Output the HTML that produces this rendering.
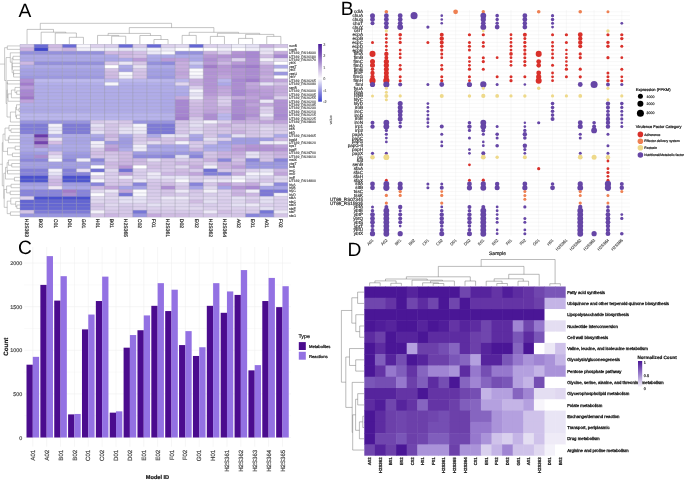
<!DOCTYPE html>
<html><head><meta charset="utf-8"><style>
html,body{margin:0;padding:0;background:#fff;width:685px;height:480px;overflow:hidden}
svg{display:block;font-family:"Liberation Sans",sans-serif;text-rendering:geometricPrecision;will-change:transform}
</style></head><body>
<svg width="685" height="480" viewBox="0 0 685 480">
<rect width="685" height="480" fill="#fff"/>
<text x="18.6" y="17" font-size="19.2" text-anchor="start" fill="#000">A</text>
<rect x="20" y="44.2" width="14.5" height="3.86" fill="#D8CAE9"/>
<rect x="34.1" y="44.2" width="14.5" height="3.86" fill="#6C6CD5"/>
<rect x="48.2" y="44.2" width="14.5" height="3.86" fill="#D0BAE2"/>
<rect x="62.3" y="44.2" width="14.5" height="3.86" fill="#6A6AD6"/>
<rect x="76.4" y="44.2" width="14.5" height="3.86" fill="#F8F6FB"/>
<rect x="90.5" y="44.2" width="14.5" height="3.86" fill="#DCD0EC"/>
<rect x="104.6" y="44.2" width="14.5" height="3.86" fill="#D8CCEA"/>
<rect x="118.7" y="44.2" width="14.5" height="3.86" fill="#6A6AD6"/>
<rect x="132.8" y="44.2" width="14.5" height="3.86" fill="#D8CAEA"/>
<rect x="146.9" y="44.2" width="14.5" height="3.86" fill="#6A6AD6"/>
<rect x="161" y="44.2" width="14.5" height="3.86" fill="#DCD0EC"/>
<rect x="175.1" y="44.2" width="14.5" height="3.86" fill="#E0D8EE"/>
<rect x="189.2" y="44.2" width="14.5" height="3.86" fill="#6466D4"/>
<rect x="203.3" y="44.2" width="14.5" height="3.86" fill="#DCD0EC"/>
<rect x="217.4" y="44.2" width="14.5" height="3.86" fill="#E0D8EE"/>
<rect x="231.5" y="44.2" width="14.5" height="3.86" fill="#ECEAF6"/>
<rect x="245.6" y="44.2" width="14.5" height="3.86" fill="#E4E0F2"/>
<rect x="259.7" y="44.2" width="14.5" height="3.86" fill="#C8B0DE"/>
<rect x="273.8" y="44.2" width="14.1" height="3.86" fill="#D4C4E6"/>
<rect x="20" y="47.66" width="14.5" height="3.86" fill="#CDB3E0"/>
<rect x="34.1" y="47.66" width="14.5" height="3.86" fill="#3F46CC"/>
<rect x="48.2" y="47.66" width="14.5" height="3.86" fill="#D6C4E6"/>
<rect x="62.3" y="47.66" width="14.5" height="3.86" fill="#CBB4E0"/>
<rect x="76.4" y="47.66" width="14.5" height="3.86" fill="#F2F0F8"/>
<rect x="90.5" y="47.66" width="14.5" height="3.86" fill="#F0EEF8"/>
<rect x="104.6" y="47.66" width="14.5" height="3.86" fill="#EEEEF8"/>
<rect x="118.7" y="47.66" width="14.5" height="3.86" fill="#E8E4F4"/>
<rect x="132.8" y="47.66" width="14.5" height="3.86" fill="#E6E6F6"/>
<rect x="146.9" y="47.66" width="14.5" height="3.86" fill="#F4F4FA"/>
<rect x="161" y="47.66" width="14.5" height="3.86" fill="#EEECF8"/>
<rect x="175.1" y="47.66" width="14.5" height="3.86" fill="#FFFFFF"/>
<rect x="189.2" y="47.66" width="14.5" height="3.86" fill="#FFFFFF"/>
<rect x="203.3" y="47.66" width="14.5" height="3.86" fill="#FFFFFF"/>
<rect x="217.4" y="47.66" width="14.5" height="3.86" fill="#F0EEF8"/>
<rect x="231.5" y="47.66" width="14.5" height="3.86" fill="#FFFFFF"/>
<rect x="245.6" y="47.66" width="14.5" height="3.86" fill="#F0EEF8"/>
<rect x="259.7" y="47.66" width="14.5" height="3.86" fill="#E8E4F4"/>
<rect x="273.8" y="47.66" width="14.1" height="3.86" fill="#FFFFFF"/>
<rect x="20" y="51.12" width="14.5" height="3.86" fill="#9490DC"/>
<rect x="34.1" y="51.12" width="14.5" height="3.86" fill="#9490DC"/>
<rect x="48.2" y="51.12" width="14.5" height="3.86" fill="#9490DC"/>
<rect x="62.3" y="51.12" width="14.5" height="3.86" fill="#9490DC"/>
<rect x="76.4" y="51.12" width="14.5" height="3.86" fill="#9490DC"/>
<rect x="90.5" y="51.12" width="14.5" height="3.86" fill="#9490DC"/>
<rect x="104.6" y="51.12" width="14.5" height="3.86" fill="#D0B8E2"/>
<rect x="118.7" y="51.12" width="14.5" height="3.86" fill="#CCB4E0"/>
<rect x="132.8" y="51.12" width="14.5" height="3.86" fill="#D4C0E6"/>
<rect x="146.9" y="51.12" width="14.5" height="3.86" fill="#EAE8F6"/>
<rect x="161" y="51.12" width="14.5" height="3.86" fill="#F8F8FC"/>
<rect x="175.1" y="51.12" width="14.5" height="3.86" fill="#9490DC"/>
<rect x="189.2" y="51.12" width="14.5" height="3.86" fill="#9490DC"/>
<rect x="203.3" y="51.12" width="14.5" height="3.86" fill="#C8B0DE"/>
<rect x="217.4" y="51.12" width="14.5" height="3.86" fill="#DCD0EC"/>
<rect x="231.5" y="51.12" width="14.5" height="3.86" fill="#B494D4"/>
<rect x="245.6" y="51.12" width="14.5" height="3.86" fill="#A888D2"/>
<rect x="259.7" y="51.12" width="14.5" height="3.86" fill="#E8E0F2"/>
<rect x="273.8" y="51.12" width="14.1" height="3.86" fill="#C4AADC"/>
<rect x="20" y="54.57" width="14.5" height="3.86" fill="#ADA9E6"/>
<rect x="34.1" y="54.57" width="14.5" height="3.86" fill="#ADA9E6"/>
<rect x="48.2" y="54.57" width="14.5" height="3.86" fill="#ADA9E6"/>
<rect x="62.3" y="54.57" width="14.5" height="3.86" fill="#ADA9E6"/>
<rect x="76.4" y="54.57" width="14.5" height="3.86" fill="#ADA9E6"/>
<rect x="90.5" y="54.57" width="14.5" height="3.86" fill="#AEAAE8"/>
<rect x="104.6" y="54.57" width="14.5" height="3.86" fill="#AEAAE8"/>
<rect x="118.7" y="54.57" width="14.5" height="3.86" fill="#D0BAE2"/>
<rect x="132.8" y="54.57" width="14.5" height="3.86" fill="#D4C0E6"/>
<rect x="146.9" y="54.57" width="14.5" height="3.86" fill="#AEAAE8"/>
<rect x="161" y="54.57" width="14.5" height="3.86" fill="#AEAAE8"/>
<rect x="175.1" y="54.57" width="14.5" height="3.86" fill="#AEAAE8"/>
<rect x="189.2" y="54.57" width="14.5" height="3.86" fill="#AEAAE8"/>
<rect x="203.3" y="54.57" width="14.5" height="3.86" fill="#B898D6"/>
<rect x="217.4" y="54.57" width="14.5" height="3.86" fill="#B494D4"/>
<rect x="231.5" y="54.57" width="14.5" height="3.86" fill="#AE8ED2"/>
<rect x="245.6" y="54.57" width="14.5" height="3.86" fill="#A888D2"/>
<rect x="259.7" y="54.57" width="14.5" height="3.86" fill="#D0BCE2"/>
<rect x="273.8" y="54.57" width="14.1" height="3.86" fill="#A888D2"/>
<rect x="20" y="58.03" width="14.5" height="3.86" fill="#ACA8E6"/>
<rect x="34.1" y="58.03" width="14.5" height="3.86" fill="#ACA8E6"/>
<rect x="48.2" y="58.03" width="14.5" height="3.86" fill="#ACA8E6"/>
<rect x="62.3" y="58.03" width="14.5" height="3.86" fill="#ACA8E6"/>
<rect x="76.4" y="58.03" width="14.5" height="3.86" fill="#ACA8E6"/>
<rect x="90.5" y="58.03" width="14.5" height="3.86" fill="#AAA6E6"/>
<rect x="104.6" y="58.03" width="14.5" height="3.86" fill="#AAA6E6"/>
<rect x="118.7" y="58.03" width="14.5" height="3.86" fill="#ABA8E8"/>
<rect x="132.8" y="58.03" width="14.5" height="3.86" fill="#BB9CD8"/>
<rect x="146.9" y="58.03" width="14.5" height="3.86" fill="#AAA6E6"/>
<rect x="161" y="58.03" width="14.5" height="3.86" fill="#BA9CD8"/>
<rect x="175.1" y="58.03" width="14.5" height="3.86" fill="#BEA2DA"/>
<rect x="189.2" y="58.03" width="14.5" height="3.86" fill="#AAA6E6"/>
<rect x="203.3" y="58.03" width="14.5" height="3.86" fill="#AE8ED2"/>
<rect x="217.4" y="58.03" width="14.5" height="3.86" fill="#BEA4DA"/>
<rect x="231.5" y="58.03" width="14.5" height="3.86" fill="#DCD0EC"/>
<rect x="245.6" y="58.03" width="14.5" height="3.86" fill="#B090D4"/>
<rect x="259.7" y="58.03" width="14.5" height="3.86" fill="#F2F0F8"/>
<rect x="273.8" y="58.03" width="14.1" height="3.86" fill="#E4DCF0"/>
<rect x="20" y="61.49" width="14.5" height="3.86" fill="#CDB8E2"/>
<rect x="34.1" y="61.49" width="14.5" height="3.86" fill="#9490DC"/>
<rect x="48.2" y="61.49" width="14.5" height="3.86" fill="#9490DC"/>
<rect x="62.3" y="61.49" width="14.5" height="3.86" fill="#9490DC"/>
<rect x="76.4" y="61.49" width="14.5" height="3.86" fill="#9490DC"/>
<rect x="90.5" y="61.49" width="14.5" height="3.86" fill="#9490DC"/>
<rect x="104.6" y="61.49" width="14.5" height="3.86" fill="#D8C8E8"/>
<rect x="118.7" y="61.49" width="14.5" height="3.86" fill="#EAE6F4"/>
<rect x="132.8" y="61.49" width="14.5" height="3.86" fill="#D6C4E6"/>
<rect x="146.9" y="61.49" width="14.5" height="3.86" fill="#9490DC"/>
<rect x="161" y="61.49" width="14.5" height="3.86" fill="#8E8ADC"/>
<rect x="175.1" y="61.49" width="14.5" height="3.86" fill="#C8AEDE"/>
<rect x="189.2" y="61.49" width="14.5" height="3.86" fill="#CECCF0"/>
<rect x="203.3" y="61.49" width="14.5" height="3.86" fill="#B898D6"/>
<rect x="217.4" y="61.49" width="14.5" height="3.86" fill="#CCB6E2"/>
<rect x="231.5" y="61.49" width="14.5" height="3.86" fill="#B898D6"/>
<rect x="245.6" y="61.49" width="14.5" height="3.86" fill="#B090D4"/>
<rect x="259.7" y="61.49" width="14.5" height="3.86" fill="#D6C6E8"/>
<rect x="273.8" y="61.49" width="14.1" height="3.86" fill="#FFFFFF"/>
<rect x="20" y="64.95" width="14.5" height="3.86" fill="#AEAAE8"/>
<rect x="34.1" y="64.95" width="14.5" height="3.86" fill="#AEAAE8"/>
<rect x="48.2" y="64.95" width="14.5" height="3.86" fill="#AEAAE8"/>
<rect x="62.3" y="64.95" width="14.5" height="3.86" fill="#AEAAE8"/>
<rect x="76.4" y="64.95" width="14.5" height="3.86" fill="#AEAAE8"/>
<rect x="90.5" y="64.95" width="14.5" height="3.86" fill="#AEAAE8"/>
<rect x="104.6" y="64.95" width="14.5" height="3.86" fill="#FFFFFF"/>
<rect x="118.7" y="64.95" width="14.5" height="3.86" fill="#AEAAE8"/>
<rect x="132.8" y="64.95" width="14.5" height="3.86" fill="#E8E2F2"/>
<rect x="146.9" y="64.95" width="14.5" height="3.86" fill="#AEAAE8"/>
<rect x="161" y="64.95" width="14.5" height="3.86" fill="#AEAAE8"/>
<rect x="175.1" y="64.95" width="14.5" height="3.86" fill="#C8AEDE"/>
<rect x="189.2" y="64.95" width="14.5" height="3.86" fill="#B4B0EA"/>
<rect x="203.3" y="64.95" width="14.5" height="3.86" fill="#A27CCA"/>
<rect x="217.4" y="64.95" width="14.5" height="3.86" fill="#B696D4"/>
<rect x="231.5" y="64.95" width="14.5" height="3.86" fill="#A484CE"/>
<rect x="245.6" y="64.95" width="14.5" height="3.86" fill="#A07CCC"/>
<rect x="259.7" y="64.95" width="14.5" height="3.86" fill="#C0A4DA"/>
<rect x="273.8" y="64.95" width="14.1" height="3.86" fill="#B0ACE8"/>
<rect x="20" y="68.41" width="14.5" height="3.86" fill="#A5A1E4"/>
<rect x="34.1" y="68.41" width="14.5" height="3.86" fill="#A5A1E4"/>
<rect x="48.2" y="68.41" width="14.5" height="3.86" fill="#A5A1E4"/>
<rect x="62.3" y="68.41" width="14.5" height="3.86" fill="#A5A1E4"/>
<rect x="76.4" y="68.41" width="14.5" height="3.86" fill="#A5A1E4"/>
<rect x="90.5" y="68.41" width="14.5" height="3.86" fill="#A4A0E4"/>
<rect x="104.6" y="68.41" width="14.5" height="3.86" fill="#D4C2E6"/>
<rect x="118.7" y="68.41" width="14.5" height="3.86" fill="#A4A0E4"/>
<rect x="132.8" y="68.41" width="14.5" height="3.86" fill="#D6C6E8"/>
<rect x="146.9" y="68.41" width="14.5" height="3.86" fill="#A4A0E4"/>
<rect x="161" y="68.41" width="14.5" height="3.86" fill="#A4A0E4"/>
<rect x="175.1" y="68.41" width="14.5" height="3.86" fill="#C4AADC"/>
<rect x="189.2" y="68.41" width="14.5" height="3.86" fill="#FAFAFC"/>
<rect x="203.3" y="68.41" width="14.5" height="3.86" fill="#B494D4"/>
<rect x="217.4" y="68.41" width="14.5" height="3.86" fill="#B898D6"/>
<rect x="231.5" y="68.41" width="14.5" height="3.86" fill="#B494D4"/>
<rect x="245.6" y="68.41" width="14.5" height="3.86" fill="#AC8CD2"/>
<rect x="259.7" y="68.41" width="14.5" height="3.86" fill="#C2A8DC"/>
<rect x="273.8" y="68.41" width="14.1" height="3.86" fill="#F6F6FA"/>
<rect x="20" y="71.86" width="14.5" height="3.86" fill="#A5A1E4"/>
<rect x="34.1" y="71.86" width="14.5" height="3.86" fill="#A5A1E4"/>
<rect x="48.2" y="71.86" width="14.5" height="3.86" fill="#A5A1E4"/>
<rect x="62.3" y="71.86" width="14.5" height="3.86" fill="#A5A1E4"/>
<rect x="76.4" y="71.86" width="14.5" height="3.86" fill="#A5A1E4"/>
<rect x="90.5" y="71.86" width="14.5" height="3.86" fill="#A4A0E4"/>
<rect x="104.6" y="71.86" width="14.5" height="3.86" fill="#D0BCE2"/>
<rect x="118.7" y="71.86" width="14.5" height="3.86" fill="#FAFAFC"/>
<rect x="132.8" y="71.86" width="14.5" height="3.86" fill="#D4C2E6"/>
<rect x="146.9" y="71.86" width="14.5" height="3.86" fill="#A4A0E4"/>
<rect x="161" y="71.86" width="14.5" height="3.86" fill="#A4A0E4"/>
<rect x="175.1" y="71.86" width="14.5" height="3.86" fill="#C0A4DA"/>
<rect x="189.2" y="71.86" width="14.5" height="3.86" fill="#FAFAFC"/>
<rect x="203.3" y="71.86" width="14.5" height="3.86" fill="#B292D4"/>
<rect x="217.4" y="71.86" width="14.5" height="3.86" fill="#BA9CD8"/>
<rect x="231.5" y="71.86" width="14.5" height="3.86" fill="#B292D4"/>
<rect x="245.6" y="71.86" width="14.5" height="3.86" fill="#AC8CD2"/>
<rect x="259.7" y="71.86" width="14.5" height="3.86" fill="#C0A4DA"/>
<rect x="273.8" y="71.86" width="14.1" height="3.86" fill="#9C98E0"/>
<rect x="20" y="75.32" width="14.5" height="3.86" fill="#9C98E0"/>
<rect x="34.1" y="75.32" width="14.5" height="3.86" fill="#9C98E0"/>
<rect x="48.2" y="75.32" width="14.5" height="3.86" fill="#9C98E0"/>
<rect x="62.3" y="75.32" width="14.5" height="3.86" fill="#9C98E0"/>
<rect x="76.4" y="75.32" width="14.5" height="3.86" fill="#9C98E0"/>
<rect x="90.5" y="75.32" width="14.5" height="3.86" fill="#9C98E0"/>
<rect x="104.6" y="75.32" width="14.5" height="3.86" fill="#CEB8E2"/>
<rect x="118.7" y="75.32" width="14.5" height="3.86" fill="#F0EEF8"/>
<rect x="132.8" y="75.32" width="14.5" height="3.86" fill="#D4C0E6"/>
<rect x="146.9" y="75.32" width="14.5" height="3.86" fill="#9C98E0"/>
<rect x="161" y="75.32" width="14.5" height="3.86" fill="#9C98E0"/>
<rect x="175.1" y="75.32" width="14.5" height="3.86" fill="#C4AADC"/>
<rect x="189.2" y="75.32" width="14.5" height="3.86" fill="#F0EEF8"/>
<rect x="203.3" y="75.32" width="14.5" height="3.86" fill="#B494D4"/>
<rect x="217.4" y="75.32" width="14.5" height="3.86" fill="#C0A4DA"/>
<rect x="231.5" y="75.32" width="14.5" height="3.86" fill="#B292D4"/>
<rect x="245.6" y="75.32" width="14.5" height="3.86" fill="#AC8CD2"/>
<rect x="259.7" y="75.32" width="14.5" height="3.86" fill="#C8B0DE"/>
<rect x="273.8" y="75.32" width="14.1" height="3.86" fill="#FFFFFF"/>
<rect x="20" y="78.78" width="14.5" height="3.86" fill="#B08ED4"/>
<rect x="34.1" y="78.78" width="14.5" height="3.86" fill="#BDB9EE"/>
<rect x="48.2" y="78.78" width="14.5" height="3.86" fill="#BDB9EE"/>
<rect x="62.3" y="78.78" width="14.5" height="3.86" fill="#BDB9EE"/>
<rect x="76.4" y="78.78" width="14.5" height="3.86" fill="#BDB9EE"/>
<rect x="90.5" y="78.78" width="14.5" height="3.86" fill="#BDB9EE"/>
<rect x="104.6" y="78.78" width="14.5" height="3.86" fill="#BDB9EE"/>
<rect x="118.7" y="78.78" width="14.5" height="3.86" fill="#BDB9EE"/>
<rect x="132.8" y="78.78" width="14.5" height="3.86" fill="#BDB9EE"/>
<rect x="146.9" y="78.78" width="14.5" height="3.86" fill="#BDB9EE"/>
<rect x="161" y="78.78" width="14.5" height="3.86" fill="#BAB6EC"/>
<rect x="175.1" y="78.78" width="14.5" height="3.86" fill="#BAB6EC"/>
<rect x="189.2" y="78.78" width="14.5" height="3.86" fill="#C6AEDE"/>
<rect x="203.3" y="78.78" width="14.5" height="3.86" fill="#B292D4"/>
<rect x="217.4" y="78.78" width="14.5" height="3.86" fill="#BAB6EC"/>
<rect x="231.5" y="78.78" width="14.5" height="3.86" fill="#A888D2"/>
<rect x="245.6" y="78.78" width="14.5" height="3.86" fill="#A07CCC"/>
<rect x="259.7" y="78.78" width="14.5" height="3.86" fill="#BEA2DA"/>
<rect x="273.8" y="78.78" width="14.1" height="3.86" fill="#C0A4DA"/>
<rect x="20" y="82.24" width="14.5" height="3.86" fill="#A27CCC"/>
<rect x="34.1" y="82.24" width="14.5" height="3.86" fill="#B2AEEA"/>
<rect x="48.2" y="82.24" width="14.5" height="3.86" fill="#B2AEEA"/>
<rect x="62.3" y="82.24" width="14.5" height="3.86" fill="#B2AEEA"/>
<rect x="76.4" y="82.24" width="14.5" height="3.86" fill="#B2AEEA"/>
<rect x="90.5" y="82.24" width="14.5" height="3.86" fill="#B2AEEA"/>
<rect x="104.6" y="82.24" width="14.5" height="3.86" fill="#F6F6FA"/>
<rect x="118.7" y="82.24" width="14.5" height="3.86" fill="#B2AEEA"/>
<rect x="132.8" y="82.24" width="14.5" height="3.86" fill="#B2AEEA"/>
<rect x="146.9" y="82.24" width="14.5" height="3.86" fill="#B2AEEA"/>
<rect x="161" y="82.24" width="14.5" height="3.86" fill="#B0ACE8"/>
<rect x="175.1" y="82.24" width="14.5" height="3.86" fill="#E0D6EE"/>
<rect x="189.2" y="82.24" width="14.5" height="3.86" fill="#C6AEDE"/>
<rect x="203.3" y="82.24" width="14.5" height="3.86" fill="#B292D4"/>
<rect x="217.4" y="82.24" width="14.5" height="3.86" fill="#ACA8E8"/>
<rect x="231.5" y="82.24" width="14.5" height="3.86" fill="#AC8CD2"/>
<rect x="245.6" y="82.24" width="14.5" height="3.86" fill="#C2A8DC"/>
<rect x="259.7" y="82.24" width="14.5" height="3.86" fill="#E4E0F2"/>
<rect x="273.8" y="82.24" width="14.1" height="3.86" fill="#D4C4E6"/>
<rect x="20" y="85.7" width="14.5" height="3.86" fill="#B89ADA"/>
<rect x="34.1" y="85.7" width="14.5" height="3.86" fill="#B0ACE8"/>
<rect x="48.2" y="85.7" width="14.5" height="3.86" fill="#B0ACE8"/>
<rect x="62.3" y="85.7" width="14.5" height="3.86" fill="#B0ACE8"/>
<rect x="76.4" y="85.7" width="14.5" height="3.86" fill="#B0ACE8"/>
<rect x="90.5" y="85.7" width="14.5" height="3.86" fill="#B0ACE8"/>
<rect x="104.6" y="85.7" width="14.5" height="3.86" fill="#B0ACE8"/>
<rect x="118.7" y="85.7" width="14.5" height="3.86" fill="#B0ACE8"/>
<rect x="132.8" y="85.7" width="14.5" height="3.86" fill="#B0ACE8"/>
<rect x="146.9" y="85.7" width="14.5" height="3.86" fill="#B0ACE8"/>
<rect x="161" y="85.7" width="14.5" height="3.86" fill="#B0ACE8"/>
<rect x="175.1" y="85.7" width="14.5" height="3.86" fill="#B0ACE8"/>
<rect x="189.2" y="85.7" width="14.5" height="3.86" fill="#DCD0EC"/>
<rect x="203.3" y="85.7" width="14.5" height="3.86" fill="#B494D4"/>
<rect x="217.4" y="85.7" width="14.5" height="3.86" fill="#BEA2DA"/>
<rect x="231.5" y="85.7" width="14.5" height="3.86" fill="#AE8ED2"/>
<rect x="245.6" y="85.7" width="14.5" height="3.86" fill="#BEA2DA"/>
<rect x="259.7" y="85.7" width="14.5" height="3.86" fill="#C0A4DA"/>
<rect x="273.8" y="85.7" width="14.1" height="3.86" fill="#C6ACDC"/>
<rect x="20" y="89.15" width="14.5" height="3.86" fill="#A888D2"/>
<rect x="34.1" y="89.15" width="14.5" height="3.86" fill="#B0ACE8"/>
<rect x="48.2" y="89.15" width="14.5" height="3.86" fill="#B0ACE8"/>
<rect x="62.3" y="89.15" width="14.5" height="3.86" fill="#B0ACE8"/>
<rect x="76.4" y="89.15" width="14.5" height="3.86" fill="#B0ACE8"/>
<rect x="90.5" y="89.15" width="14.5" height="3.86" fill="#B0ACE8"/>
<rect x="104.6" y="89.15" width="14.5" height="3.86" fill="#B0ACE8"/>
<rect x="118.7" y="89.15" width="14.5" height="3.86" fill="#B0ACE8"/>
<rect x="132.8" y="89.15" width="14.5" height="3.86" fill="#B0ACE8"/>
<rect x="146.9" y="89.15" width="14.5" height="3.86" fill="#B0ACE8"/>
<rect x="161" y="89.15" width="14.5" height="3.86" fill="#B0ACE8"/>
<rect x="175.1" y="89.15" width="14.5" height="3.86" fill="#B0ACE8"/>
<rect x="189.2" y="89.15" width="14.5" height="3.86" fill="#F4F2FA"/>
<rect x="203.3" y="89.15" width="14.5" height="3.86" fill="#B494D4"/>
<rect x="217.4" y="89.15" width="14.5" height="3.86" fill="#C2A8DC"/>
<rect x="231.5" y="89.15" width="14.5" height="3.86" fill="#A888D2"/>
<rect x="245.6" y="89.15" width="14.5" height="3.86" fill="#B494D4"/>
<rect x="259.7" y="89.15" width="14.5" height="3.86" fill="#BA9CD8"/>
<rect x="273.8" y="89.15" width="14.1" height="3.86" fill="#C4AADC"/>
<rect x="20" y="92.61" width="14.5" height="3.86" fill="#AA86D0"/>
<rect x="34.1" y="92.61" width="14.5" height="3.86" fill="#B0ACE8"/>
<rect x="48.2" y="92.61" width="14.5" height="3.86" fill="#B0ACE8"/>
<rect x="62.3" y="92.61" width="14.5" height="3.86" fill="#B0ACE8"/>
<rect x="76.4" y="92.61" width="14.5" height="3.86" fill="#B0ACE8"/>
<rect x="90.5" y="92.61" width="14.5" height="3.86" fill="#B0ACE8"/>
<rect x="104.6" y="92.61" width="14.5" height="3.86" fill="#B0ACE8"/>
<rect x="118.7" y="92.61" width="14.5" height="3.86" fill="#B0ACE8"/>
<rect x="132.8" y="92.61" width="14.5" height="3.86" fill="#B0ACE8"/>
<rect x="146.9" y="92.61" width="14.5" height="3.86" fill="#B0ACE8"/>
<rect x="161" y="92.61" width="14.5" height="3.86" fill="#ADA9E8"/>
<rect x="175.1" y="92.61" width="14.5" height="3.86" fill="#ADA9E8"/>
<rect x="189.2" y="92.61" width="14.5" height="3.86" fill="#E4E0F2"/>
<rect x="203.3" y="92.61" width="14.5" height="3.86" fill="#B898D6"/>
<rect x="217.4" y="92.61" width="14.5" height="3.86" fill="#C4AADC"/>
<rect x="231.5" y="92.61" width="14.5" height="3.86" fill="#A888D2"/>
<rect x="245.6" y="92.61" width="14.5" height="3.86" fill="#B898D6"/>
<rect x="259.7" y="92.61" width="14.5" height="3.86" fill="#BA9CD8"/>
<rect x="273.8" y="92.61" width="14.1" height="3.86" fill="#C8B0DE"/>
<rect x="20" y="96.07" width="14.5" height="3.86" fill="#9D76C8"/>
<rect x="34.1" y="96.07" width="14.5" height="3.86" fill="#B0ACE8"/>
<rect x="48.2" y="96.07" width="14.5" height="3.86" fill="#B0ACE8"/>
<rect x="62.3" y="96.07" width="14.5" height="3.86" fill="#B0ACE8"/>
<rect x="76.4" y="96.07" width="14.5" height="3.86" fill="#B0ACE8"/>
<rect x="90.5" y="96.07" width="14.5" height="3.86" fill="#B0ACE8"/>
<rect x="104.6" y="96.07" width="14.5" height="3.86" fill="#B0ACE8"/>
<rect x="118.7" y="96.07" width="14.5" height="3.86" fill="#B0ACE8"/>
<rect x="132.8" y="96.07" width="14.5" height="3.86" fill="#B0ACE8"/>
<rect x="146.9" y="96.07" width="14.5" height="3.86" fill="#B0ACE8"/>
<rect x="161" y="96.07" width="14.5" height="3.86" fill="#ADA9E8"/>
<rect x="175.1" y="96.07" width="14.5" height="3.86" fill="#C4AADC"/>
<rect x="189.2" y="96.07" width="14.5" height="3.86" fill="#F0EEF8"/>
<rect x="203.3" y="96.07" width="14.5" height="3.86" fill="#C0A4DA"/>
<rect x="217.4" y="96.07" width="14.5" height="3.86" fill="#D8CAEA"/>
<rect x="231.5" y="96.07" width="14.5" height="3.86" fill="#C4AADC"/>
<rect x="245.6" y="96.07" width="14.5" height="3.86" fill="#BEA2DA"/>
<rect x="259.7" y="96.07" width="14.5" height="3.86" fill="#B292D4"/>
<rect x="273.8" y="96.07" width="14.1" height="3.86" fill="#DCD0EC"/>
<rect x="20" y="99.53" width="14.5" height="3.86" fill="#BFA3DC"/>
<rect x="34.1" y="99.53" width="14.5" height="3.86" fill="#B0ACE8"/>
<rect x="48.2" y="99.53" width="14.5" height="3.86" fill="#B0ACE8"/>
<rect x="62.3" y="99.53" width="14.5" height="3.86" fill="#B0ACE8"/>
<rect x="76.4" y="99.53" width="14.5" height="3.86" fill="#B0ACE8"/>
<rect x="90.5" y="99.53" width="14.5" height="3.86" fill="#B0ACE8"/>
<rect x="104.6" y="99.53" width="14.5" height="3.86" fill="#B0ACE8"/>
<rect x="118.7" y="99.53" width="14.5" height="3.86" fill="#B0ACE8"/>
<rect x="132.8" y="99.53" width="14.5" height="3.86" fill="#B0ACE8"/>
<rect x="146.9" y="99.53" width="14.5" height="3.86" fill="#B0ACE8"/>
<rect x="161" y="99.53" width="14.5" height="3.86" fill="#ADA9E8"/>
<rect x="175.1" y="99.53" width="14.5" height="3.86" fill="#A888D2"/>
<rect x="189.2" y="99.53" width="14.5" height="3.86" fill="#D4C2E6"/>
<rect x="203.3" y="99.53" width="14.5" height="3.86" fill="#C4AADC"/>
<rect x="217.4" y="99.53" width="14.5" height="3.86" fill="#DCD0EC"/>
<rect x="231.5" y="99.53" width="14.5" height="3.86" fill="#AC8CD2"/>
<rect x="245.6" y="99.53" width="14.5" height="3.86" fill="#B696D4"/>
<rect x="259.7" y="99.53" width="14.5" height="3.86" fill="#ECE8F6"/>
<rect x="273.8" y="99.53" width="14.1" height="3.86" fill="#B292D4"/>
<rect x="20" y="102.99" width="14.5" height="3.86" fill="#B1ADE8"/>
<rect x="34.1" y="102.99" width="14.5" height="3.86" fill="#B1ADE8"/>
<rect x="48.2" y="102.99" width="14.5" height="3.86" fill="#B1ADE8"/>
<rect x="62.3" y="102.99" width="14.5" height="3.86" fill="#B1ADE8"/>
<rect x="76.4" y="102.99" width="14.5" height="3.86" fill="#B1ADE8"/>
<rect x="90.5" y="102.99" width="14.5" height="3.86" fill="#B0ACE8"/>
<rect x="104.6" y="102.99" width="14.5" height="3.86" fill="#B0ACE8"/>
<rect x="118.7" y="102.99" width="14.5" height="3.86" fill="#B0ACE8"/>
<rect x="132.8" y="102.99" width="14.5" height="3.86" fill="#B0ACE8"/>
<rect x="146.9" y="102.99" width="14.5" height="3.86" fill="#B0ACE8"/>
<rect x="161" y="102.99" width="14.5" height="3.86" fill="#ADA9E8"/>
<rect x="175.1" y="102.99" width="14.5" height="3.86" fill="#A888D2"/>
<rect x="189.2" y="102.99" width="14.5" height="3.86" fill="#D0BCE2"/>
<rect x="203.3" y="102.99" width="14.5" height="3.86" fill="#C2A8DC"/>
<rect x="217.4" y="102.99" width="14.5" height="3.86" fill="#D8CAEA"/>
<rect x="231.5" y="102.99" width="14.5" height="3.86" fill="#AC8CD2"/>
<rect x="245.6" y="102.99" width="14.5" height="3.86" fill="#BEA2DA"/>
<rect x="259.7" y="102.99" width="14.5" height="3.86" fill="#C4AADC"/>
<rect x="273.8" y="102.99" width="14.1" height="3.86" fill="#B292D4"/>
<rect x="20" y="106.44" width="14.5" height="3.86" fill="#ADA9E6"/>
<rect x="34.1" y="106.44" width="14.5" height="3.86" fill="#ADA9E6"/>
<rect x="48.2" y="106.44" width="14.5" height="3.86" fill="#ADA9E6"/>
<rect x="62.3" y="106.44" width="14.5" height="3.86" fill="#ADA9E6"/>
<rect x="76.4" y="106.44" width="14.5" height="3.86" fill="#ADA9E6"/>
<rect x="90.5" y="106.44" width="14.5" height="3.86" fill="#B0ACE8"/>
<rect x="104.6" y="106.44" width="14.5" height="3.86" fill="#B0ACE8"/>
<rect x="118.7" y="106.44" width="14.5" height="3.86" fill="#B0ACE8"/>
<rect x="132.8" y="106.44" width="14.5" height="3.86" fill="#B0ACE8"/>
<rect x="146.9" y="106.44" width="14.5" height="3.86" fill="#B0ACE8"/>
<rect x="161" y="106.44" width="14.5" height="3.86" fill="#ACA8E6"/>
<rect x="175.1" y="106.44" width="14.5" height="3.86" fill="#A888D2"/>
<rect x="189.2" y="106.44" width="14.5" height="3.86" fill="#CCB6E2"/>
<rect x="203.3" y="106.44" width="14.5" height="3.86" fill="#C2A8DC"/>
<rect x="217.4" y="106.44" width="14.5" height="3.86" fill="#C8B0DE"/>
<rect x="231.5" y="106.44" width="14.5" height="3.86" fill="#AC8CD2"/>
<rect x="245.6" y="106.44" width="14.5" height="3.86" fill="#B494D4"/>
<rect x="259.7" y="106.44" width="14.5" height="3.86" fill="#DCD0EC"/>
<rect x="273.8" y="106.44" width="14.1" height="3.86" fill="#AE8ED2"/>
<rect x="20" y="109.9" width="14.5" height="3.86" fill="#ADA9E6"/>
<rect x="34.1" y="109.9" width="14.5" height="3.86" fill="#ADA9E6"/>
<rect x="48.2" y="109.9" width="14.5" height="3.86" fill="#ADA9E6"/>
<rect x="62.3" y="109.9" width="14.5" height="3.86" fill="#ADA9E6"/>
<rect x="76.4" y="109.9" width="14.5" height="3.86" fill="#ADA9E6"/>
<rect x="90.5" y="109.9" width="14.5" height="3.86" fill="#B0ACE8"/>
<rect x="104.6" y="109.9" width="14.5" height="3.86" fill="#B0ACE8"/>
<rect x="118.7" y="109.9" width="14.5" height="3.86" fill="#B0ACE8"/>
<rect x="132.8" y="109.9" width="14.5" height="3.86" fill="#B0ACE8"/>
<rect x="146.9" y="109.9" width="14.5" height="3.86" fill="#B0ACE8"/>
<rect x="161" y="109.9" width="14.5" height="3.86" fill="#ACA8E6"/>
<rect x="175.1" y="109.9" width="14.5" height="3.86" fill="#A684D0"/>
<rect x="189.2" y="109.9" width="14.5" height="3.86" fill="#CCB6E2"/>
<rect x="203.3" y="109.9" width="14.5" height="3.86" fill="#BEA2DA"/>
<rect x="217.4" y="109.9" width="14.5" height="3.86" fill="#CCB6E2"/>
<rect x="231.5" y="109.9" width="14.5" height="3.86" fill="#AC8CD2"/>
<rect x="245.6" y="109.9" width="14.5" height="3.86" fill="#B696D4"/>
<rect x="259.7" y="109.9" width="14.5" height="3.86" fill="#DCD0EC"/>
<rect x="273.8" y="109.9" width="14.1" height="3.86" fill="#AE8ED2"/>
<rect x="20" y="113.36" width="14.5" height="3.86" fill="#BAB6EC"/>
<rect x="34.1" y="113.36" width="14.5" height="3.86" fill="#BAB6EC"/>
<rect x="48.2" y="113.36" width="14.5" height="3.86" fill="#BAB6EC"/>
<rect x="62.3" y="113.36" width="14.5" height="3.86" fill="#BAB6EC"/>
<rect x="76.4" y="113.36" width="14.5" height="3.86" fill="#BAB6EC"/>
<rect x="90.5" y="113.36" width="14.5" height="3.86" fill="#B8B4EC"/>
<rect x="104.6" y="113.36" width="14.5" height="3.86" fill="#B8B4EC"/>
<rect x="118.7" y="113.36" width="14.5" height="3.86" fill="#B8B4EC"/>
<rect x="132.8" y="113.36" width="14.5" height="3.86" fill="#B8B4EC"/>
<rect x="146.9" y="113.36" width="14.5" height="3.86" fill="#B8B4EC"/>
<rect x="161" y="113.36" width="14.5" height="3.86" fill="#B6B2EA"/>
<rect x="175.1" y="113.36" width="14.5" height="3.86" fill="#A684D0"/>
<rect x="189.2" y="113.36" width="14.5" height="3.86" fill="#C8B0DE"/>
<rect x="203.3" y="113.36" width="14.5" height="3.86" fill="#AE8ED2"/>
<rect x="217.4" y="113.36" width="14.5" height="3.86" fill="#BAB6EC"/>
<rect x="231.5" y="113.36" width="14.5" height="3.86" fill="#A484CE"/>
<rect x="245.6" y="113.36" width="14.5" height="3.86" fill="#AE8ED2"/>
<rect x="259.7" y="113.36" width="14.5" height="3.86" fill="#ECE8F6"/>
<rect x="273.8" y="113.36" width="14.1" height="3.86" fill="#A888D2"/>
<rect x="20" y="116.82" width="14.5" height="3.86" fill="#BAB6EC"/>
<rect x="34.1" y="116.82" width="14.5" height="3.86" fill="#BAB6EC"/>
<rect x="48.2" y="116.82" width="14.5" height="3.86" fill="#BAB6EC"/>
<rect x="62.3" y="116.82" width="14.5" height="3.86" fill="#BAB6EC"/>
<rect x="76.4" y="116.82" width="14.5" height="3.86" fill="#BAB6EC"/>
<rect x="90.5" y="116.82" width="14.5" height="3.86" fill="#B8B4EC"/>
<rect x="104.6" y="116.82" width="14.5" height="3.86" fill="#B8B4EC"/>
<rect x="118.7" y="116.82" width="14.5" height="3.86" fill="#B8B4EC"/>
<rect x="132.8" y="116.82" width="14.5" height="3.86" fill="#B8B4EC"/>
<rect x="146.9" y="116.82" width="14.5" height="3.86" fill="#B8B4EC"/>
<rect x="161" y="116.82" width="14.5" height="3.86" fill="#B6B2EA"/>
<rect x="175.1" y="116.82" width="14.5" height="3.86" fill="#A07CCC"/>
<rect x="189.2" y="116.82" width="14.5" height="3.86" fill="#D6C8E8"/>
<rect x="203.3" y="116.82" width="14.5" height="3.86" fill="#AE8ED2"/>
<rect x="217.4" y="116.82" width="14.5" height="3.86" fill="#BAB6EC"/>
<rect x="231.5" y="116.82" width="14.5" height="3.86" fill="#A484CE"/>
<rect x="245.6" y="116.82" width="14.5" height="3.86" fill="#BEA2DA"/>
<rect x="259.7" y="116.82" width="14.5" height="3.86" fill="#D4C4E6"/>
<rect x="273.8" y="116.82" width="14.1" height="3.86" fill="#AE8ED2"/>
<rect x="20" y="120.28" width="14.5" height="3.86" fill="#9894DE"/>
<rect x="34.1" y="120.28" width="14.5" height="3.86" fill="#9894DE"/>
<rect x="48.2" y="120.28" width="14.5" height="3.86" fill="#9894DE"/>
<rect x="62.3" y="120.28" width="14.5" height="3.86" fill="#9894DE"/>
<rect x="76.4" y="120.28" width="14.5" height="3.86" fill="#9894DE"/>
<rect x="90.5" y="120.28" width="14.5" height="3.86" fill="#D6C8E8"/>
<rect x="104.6" y="120.28" width="14.5" height="3.86" fill="#DCD0EC"/>
<rect x="118.7" y="120.28" width="14.5" height="3.86" fill="#D4C4E6"/>
<rect x="132.8" y="120.28" width="14.5" height="3.86" fill="#9894DE"/>
<rect x="146.9" y="120.28" width="14.5" height="3.86" fill="#9894DE"/>
<rect x="161" y="120.28" width="14.5" height="3.86" fill="#9894DE"/>
<rect x="175.1" y="120.28" width="14.5" height="3.86" fill="#D4C4E6"/>
<rect x="189.2" y="120.28" width="14.5" height="3.86" fill="#E0D8EE"/>
<rect x="203.3" y="120.28" width="14.5" height="3.86" fill="#F4F2FA"/>
<rect x="217.4" y="120.28" width="14.5" height="3.86" fill="#DCD0EC"/>
<rect x="231.5" y="120.28" width="14.5" height="3.86" fill="#C4AADC"/>
<rect x="245.6" y="120.28" width="14.5" height="3.86" fill="#C8B0DE"/>
<rect x="259.7" y="120.28" width="14.5" height="3.86" fill="#C0A4DA"/>
<rect x="273.8" y="120.28" width="14.1" height="3.86" fill="#C0A4DA"/>
<rect x="20" y="123.73" width="14.5" height="3.86" fill="#7F7CD8"/>
<rect x="34.1" y="123.73" width="14.5" height="3.86" fill="#7E7AD6"/>
<rect x="48.2" y="123.73" width="14.5" height="3.86" fill="#F4F2FA"/>
<rect x="62.3" y="123.73" width="14.5" height="3.86" fill="#7E7AD6"/>
<rect x="76.4" y="123.73" width="14.5" height="3.86" fill="#7E7AD6"/>
<rect x="90.5" y="123.73" width="14.5" height="3.86" fill="#E6E2F4"/>
<rect x="104.6" y="123.73" width="14.5" height="3.86" fill="#D4C4E6"/>
<rect x="118.7" y="123.73" width="14.5" height="3.86" fill="#DCD0EC"/>
<rect x="132.8" y="123.73" width="14.5" height="3.86" fill="#F6F6FC"/>
<rect x="146.9" y="123.73" width="14.5" height="3.86" fill="#7E7AD6"/>
<rect x="161" y="123.73" width="14.5" height="3.86" fill="#7C78D6"/>
<rect x="175.1" y="123.73" width="14.5" height="3.86" fill="#D4C4E6"/>
<rect x="189.2" y="123.73" width="14.5" height="3.86" fill="#E4E0F2"/>
<rect x="203.3" y="123.73" width="14.5" height="3.86" fill="#D4C4E6"/>
<rect x="217.4" y="123.73" width="14.5" height="3.86" fill="#C8B0DE"/>
<rect x="231.5" y="123.73" width="14.5" height="3.86" fill="#D4C4E6"/>
<rect x="245.6" y="123.73" width="14.5" height="3.86" fill="#D4C4E6"/>
<rect x="259.7" y="123.73" width="14.5" height="3.86" fill="#D8CCEA"/>
<rect x="273.8" y="123.73" width="14.1" height="3.86" fill="#D4C4E6"/>
<rect x="20" y="127.19" width="14.5" height="3.86" fill="#7F7CD8"/>
<rect x="34.1" y="127.19" width="14.5" height="3.86" fill="#7E7AD6"/>
<rect x="48.2" y="127.19" width="14.5" height="3.86" fill="#E6E4F6"/>
<rect x="62.3" y="127.19" width="14.5" height="3.86" fill="#7E7AD6"/>
<rect x="76.4" y="127.19" width="14.5" height="3.86" fill="#7E7AD6"/>
<rect x="90.5" y="127.19" width="14.5" height="3.86" fill="#DCD0EC"/>
<rect x="104.6" y="127.19" width="14.5" height="3.86" fill="#D4C6E8"/>
<rect x="118.7" y="127.19" width="14.5" height="3.86" fill="#E4E0F2"/>
<rect x="132.8" y="127.19" width="14.5" height="3.86" fill="#EEEAF6"/>
<rect x="146.9" y="127.19" width="14.5" height="3.86" fill="#7E7AD6"/>
<rect x="161" y="127.19" width="14.5" height="3.86" fill="#7C78D6"/>
<rect x="175.1" y="127.19" width="14.5" height="3.86" fill="#D8CAEA"/>
<rect x="189.2" y="127.19" width="14.5" height="3.86" fill="#DCD0EC"/>
<rect x="203.3" y="127.19" width="14.5" height="3.86" fill="#D4C4E6"/>
<rect x="217.4" y="127.19" width="14.5" height="3.86" fill="#D4C4E6"/>
<rect x="231.5" y="127.19" width="14.5" height="3.86" fill="#D0BCE2"/>
<rect x="245.6" y="127.19" width="14.5" height="3.86" fill="#D4C4E6"/>
<rect x="259.7" y="127.19" width="14.5" height="3.86" fill="#E0D8EE"/>
<rect x="273.8" y="127.19" width="14.1" height="3.86" fill="#D6C8E8"/>
<rect x="20" y="130.65" width="14.5" height="3.86" fill="#8480D8"/>
<rect x="34.1" y="130.65" width="14.5" height="3.86" fill="#8480D8"/>
<rect x="48.2" y="130.65" width="14.5" height="3.86" fill="#EEEDF8"/>
<rect x="62.3" y="130.65" width="14.5" height="3.86" fill="#807CD6"/>
<rect x="76.4" y="130.65" width="14.5" height="3.86" fill="#807CD6"/>
<rect x="90.5" y="130.65" width="14.5" height="3.86" fill="#E6E2F4"/>
<rect x="104.6" y="130.65" width="14.5" height="3.86" fill="#D4C4E6"/>
<rect x="118.7" y="130.65" width="14.5" height="3.86" fill="#E6E2F4"/>
<rect x="132.8" y="130.65" width="14.5" height="3.86" fill="#EAE8F6"/>
<rect x="146.9" y="130.65" width="14.5" height="3.86" fill="#7E7AD6"/>
<rect x="161" y="130.65" width="14.5" height="3.86" fill="#7C78D6"/>
<rect x="175.1" y="130.65" width="14.5" height="3.86" fill="#D4C4E6"/>
<rect x="189.2" y="130.65" width="14.5" height="3.86" fill="#E4E0F2"/>
<rect x="203.3" y="130.65" width="14.5" height="3.86" fill="#D4C4E6"/>
<rect x="217.4" y="130.65" width="14.5" height="3.86" fill="#D4C4E6"/>
<rect x="231.5" y="130.65" width="14.5" height="3.86" fill="#C8B0DE"/>
<rect x="245.6" y="130.65" width="14.5" height="3.86" fill="#D4C4E6"/>
<rect x="259.7" y="130.65" width="14.5" height="3.86" fill="#DCD0EC"/>
<rect x="273.8" y="130.65" width="14.1" height="3.86" fill="#DCD0EC"/>
<rect x="20" y="134.11" width="14.5" height="3.86" fill="#ADA9E6"/>
<rect x="34.1" y="134.11" width="14.5" height="3.86" fill="#6A3AAA"/>
<rect x="48.2" y="134.11" width="14.5" height="3.86" fill="#B4B0EA"/>
<rect x="62.3" y="134.11" width="14.5" height="3.86" fill="#ADA9E6"/>
<rect x="76.4" y="134.11" width="14.5" height="3.86" fill="#ADA9E6"/>
<rect x="90.5" y="134.11" width="14.5" height="3.86" fill="#ADA9E6"/>
<rect x="104.6" y="134.11" width="14.5" height="3.86" fill="#C8B2DE"/>
<rect x="118.7" y="134.11" width="14.5" height="3.86" fill="#ADA9E6"/>
<rect x="132.8" y="134.11" width="14.5" height="3.86" fill="#D8CAEA"/>
<rect x="146.9" y="134.11" width="14.5" height="3.86" fill="#ADA9E6"/>
<rect x="161" y="134.11" width="14.5" height="3.86" fill="#E8E4F4"/>
<rect x="175.1" y="134.11" width="14.5" height="3.86" fill="#E4E0F2"/>
<rect x="189.2" y="134.11" width="14.5" height="3.86" fill="#ACA8E6"/>
<rect x="203.3" y="134.11" width="14.5" height="3.86" fill="#D4C4E6"/>
<rect x="217.4" y="134.11" width="14.5" height="3.86" fill="#ACA8E6"/>
<rect x="231.5" y="134.11" width="14.5" height="3.86" fill="#E4E0F2"/>
<rect x="245.6" y="134.11" width="14.5" height="3.86" fill="#D4C4E6"/>
<rect x="259.7" y="134.11" width="14.5" height="3.86" fill="#DCD0EC"/>
<rect x="273.8" y="134.11" width="14.1" height="3.86" fill="#ACA8E8"/>
<rect x="20" y="137.57" width="14.5" height="3.86" fill="#A8A4E4"/>
<rect x="34.1" y="137.57" width="14.5" height="3.86" fill="#A07AC8"/>
<rect x="48.2" y="137.57" width="14.5" height="3.86" fill="#ECE6F4"/>
<rect x="62.3" y="137.57" width="14.5" height="3.86" fill="#A8A4E4"/>
<rect x="76.4" y="137.57" width="14.5" height="3.86" fill="#A8A4E4"/>
<rect x="90.5" y="137.57" width="14.5" height="3.86" fill="#A09CE2"/>
<rect x="104.6" y="137.57" width="14.5" height="3.86" fill="#D4C4E6"/>
<rect x="118.7" y="137.57" width="14.5" height="3.86" fill="#A09CE2"/>
<rect x="132.8" y="137.57" width="14.5" height="3.86" fill="#D6C8E8"/>
<rect x="146.9" y="137.57" width="14.5" height="3.86" fill="#CCB6E2"/>
<rect x="161" y="137.57" width="14.5" height="3.86" fill="#D4C4E6"/>
<rect x="175.1" y="137.57" width="14.5" height="3.86" fill="#CCB6E2"/>
<rect x="189.2" y="137.57" width="14.5" height="3.86" fill="#A4A0E4"/>
<rect x="203.3" y="137.57" width="14.5" height="3.86" fill="#E4E0F2"/>
<rect x="217.4" y="137.57" width="14.5" height="3.86" fill="#DCD0EC"/>
<rect x="231.5" y="137.57" width="14.5" height="3.86" fill="#A09CE2"/>
<rect x="245.6" y="137.57" width="14.5" height="3.86" fill="#A09CE2"/>
<rect x="259.7" y="137.57" width="14.5" height="3.86" fill="#A09CE2"/>
<rect x="273.8" y="137.57" width="14.1" height="3.86" fill="#CCB6E2"/>
<rect x="20" y="141.02" width="14.5" height="3.86" fill="#A8A4E4"/>
<rect x="34.1" y="141.02" width="14.5" height="3.86" fill="#7444AE"/>
<rect x="48.2" y="141.02" width="14.5" height="3.86" fill="#D6BEE4"/>
<rect x="62.3" y="141.02" width="14.5" height="3.86" fill="#A8A4E4"/>
<rect x="76.4" y="141.02" width="14.5" height="3.86" fill="#A8A4E4"/>
<rect x="90.5" y="141.02" width="14.5" height="3.86" fill="#F2F0F8"/>
<rect x="104.6" y="141.02" width="14.5" height="3.86" fill="#9E9AE0"/>
<rect x="118.7" y="141.02" width="14.5" height="3.86" fill="#9E9AE0"/>
<rect x="132.8" y="141.02" width="14.5" height="3.86" fill="#DCD0EC"/>
<rect x="146.9" y="141.02" width="14.5" height="3.86" fill="#E4DCF0"/>
<rect x="161" y="141.02" width="14.5" height="3.86" fill="#D4C4E6"/>
<rect x="175.1" y="141.02" width="14.5" height="3.86" fill="#F4F2FA"/>
<rect x="189.2" y="141.02" width="14.5" height="3.86" fill="#D6C6E8"/>
<rect x="203.3" y="141.02" width="14.5" height="3.86" fill="#D8CCEA"/>
<rect x="217.4" y="141.02" width="14.5" height="3.86" fill="#A4A0E4"/>
<rect x="231.5" y="141.02" width="14.5" height="3.86" fill="#A09CE2"/>
<rect x="245.6" y="141.02" width="14.5" height="3.86" fill="#A09CE2"/>
<rect x="259.7" y="141.02" width="14.5" height="3.86" fill="#ECE8F6"/>
<rect x="273.8" y="141.02" width="14.1" height="3.86" fill="#F0EEF8"/>
<rect x="20" y="144.48" width="14.5" height="3.86" fill="#ADA9E6"/>
<rect x="34.1" y="144.48" width="14.5" height="3.86" fill="#AE90D2"/>
<rect x="48.2" y="144.48" width="14.5" height="3.86" fill="#B2AEE8"/>
<rect x="62.3" y="144.48" width="14.5" height="3.86" fill="#ADA9E6"/>
<rect x="76.4" y="144.48" width="14.5" height="3.86" fill="#ADA9E6"/>
<rect x="90.5" y="144.48" width="14.5" height="3.86" fill="#ECE8F6"/>
<rect x="104.6" y="144.48" width="14.5" height="3.86" fill="#BEA4DA"/>
<rect x="118.7" y="144.48" width="14.5" height="3.86" fill="#A4A0E2"/>
<rect x="132.8" y="144.48" width="14.5" height="3.86" fill="#F0EEF8"/>
<rect x="146.9" y="144.48" width="14.5" height="3.86" fill="#A4A0E2"/>
<rect x="161" y="144.48" width="14.5" height="3.86" fill="#A8A4E6"/>
<rect x="175.1" y="144.48" width="14.5" height="3.86" fill="#A8A4E6"/>
<rect x="189.2" y="144.48" width="14.5" height="3.86" fill="#D8CCEA"/>
<rect x="203.3" y="144.48" width="14.5" height="3.86" fill="#ACA8E8"/>
<rect x="217.4" y="144.48" width="14.5" height="3.86" fill="#ACA8E8"/>
<rect x="231.5" y="144.48" width="14.5" height="3.86" fill="#C0A4DA"/>
<rect x="245.6" y="144.48" width="14.5" height="3.86" fill="#B494D4"/>
<rect x="259.7" y="144.48" width="14.5" height="3.86" fill="#B494D4"/>
<rect x="273.8" y="144.48" width="14.1" height="3.86" fill="#BEA2DA"/>
<rect x="20" y="147.94" width="14.5" height="3.86" fill="#ACA8E6"/>
<rect x="34.1" y="147.94" width="14.5" height="3.86" fill="#B2AEEA"/>
<rect x="48.2" y="147.94" width="14.5" height="3.86" fill="#AEAAE8"/>
<rect x="62.3" y="147.94" width="14.5" height="3.86" fill="#ACA8E6"/>
<rect x="76.4" y="147.94" width="14.5" height="3.86" fill="#ACA8E6"/>
<rect x="90.5" y="147.94" width="14.5" height="3.86" fill="#D6C8E8"/>
<rect x="104.6" y="147.94" width="14.5" height="3.86" fill="#B696D4"/>
<rect x="118.7" y="147.94" width="14.5" height="3.86" fill="#B0ACE8"/>
<rect x="132.8" y="147.94" width="14.5" height="3.86" fill="#EEECF8"/>
<rect x="146.9" y="147.94" width="14.5" height="3.86" fill="#B0ACE8"/>
<rect x="161" y="147.94" width="14.5" height="3.86" fill="#ACA8E8"/>
<rect x="175.1" y="147.94" width="14.5" height="3.86" fill="#ACA8E8"/>
<rect x="189.2" y="147.94" width="14.5" height="3.86" fill="#CCB6E2"/>
<rect x="203.3" y="147.94" width="14.5" height="3.86" fill="#B0ACE8"/>
<rect x="217.4" y="147.94" width="14.5" height="3.86" fill="#B0ACE8"/>
<rect x="231.5" y="147.94" width="14.5" height="3.86" fill="#B898D6"/>
<rect x="245.6" y="147.94" width="14.5" height="3.86" fill="#B090D4"/>
<rect x="259.7" y="147.94" width="14.5" height="3.86" fill="#B090D4"/>
<rect x="273.8" y="147.94" width="14.1" height="3.86" fill="#B494D4"/>
<rect x="20" y="151.4" width="14.5" height="3.86" fill="#A09CE2"/>
<rect x="34.1" y="151.4" width="14.5" height="3.86" fill="#A09CE2"/>
<rect x="48.2" y="151.4" width="14.5" height="3.86" fill="#D8C6E8"/>
<rect x="62.3" y="151.4" width="14.5" height="3.86" fill="#A09CE2"/>
<rect x="76.4" y="151.4" width="14.5" height="3.86" fill="#A09CE2"/>
<rect x="90.5" y="151.4" width="14.5" height="3.86" fill="#D0BCE2"/>
<rect x="104.6" y="151.4" width="14.5" height="3.86" fill="#D2C0E4"/>
<rect x="118.7" y="151.4" width="14.5" height="3.86" fill="#CFB8E2"/>
<rect x="132.8" y="151.4" width="14.5" height="3.86" fill="#A09CE2"/>
<rect x="146.9" y="151.4" width="14.5" height="3.86" fill="#A09CE2"/>
<rect x="161" y="151.4" width="14.5" height="3.86" fill="#9C98E0"/>
<rect x="175.1" y="151.4" width="14.5" height="3.86" fill="#9C98E0"/>
<rect x="189.2" y="151.4" width="14.5" height="3.86" fill="#9C98E0"/>
<rect x="203.3" y="151.4" width="14.5" height="3.86" fill="#D4C4E6"/>
<rect x="217.4" y="151.4" width="14.5" height="3.86" fill="#C8B0DE"/>
<rect x="231.5" y="151.4" width="14.5" height="3.86" fill="#C4AADC"/>
<rect x="245.6" y="151.4" width="14.5" height="3.86" fill="#E4E0F2"/>
<rect x="259.7" y="151.4" width="14.5" height="3.86" fill="#D0BCE2"/>
<rect x="273.8" y="151.4" width="14.1" height="3.86" fill="#C8B0DE"/>
<rect x="20" y="154.86" width="14.5" height="3.86" fill="#9A96E0"/>
<rect x="34.1" y="154.86" width="14.5" height="3.86" fill="#AA8CD0"/>
<rect x="48.2" y="154.86" width="14.5" height="3.86" fill="#E8E2F4"/>
<rect x="62.3" y="154.86" width="14.5" height="3.86" fill="#9A96E0"/>
<rect x="76.4" y="154.86" width="14.5" height="3.86" fill="#9A96E0"/>
<rect x="90.5" y="154.86" width="14.5" height="3.86" fill="#D6C6E8"/>
<rect x="104.6" y="154.86" width="14.5" height="3.86" fill="#D6C8E8"/>
<rect x="118.7" y="154.86" width="14.5" height="3.86" fill="#D0BCE2"/>
<rect x="132.8" y="154.86" width="14.5" height="3.86" fill="#8E8ADC"/>
<rect x="146.9" y="154.86" width="14.5" height="3.86" fill="#8E8ADC"/>
<rect x="161" y="154.86" width="14.5" height="3.86" fill="#8884DA"/>
<rect x="175.1" y="154.86" width="14.5" height="3.86" fill="#E4E2F4"/>
<rect x="189.2" y="154.86" width="14.5" height="3.86" fill="#8884DA"/>
<rect x="203.3" y="154.86" width="14.5" height="3.86" fill="#D4C4E6"/>
<rect x="217.4" y="154.86" width="14.5" height="3.86" fill="#CAB4E0"/>
<rect x="231.5" y="154.86" width="14.5" height="3.86" fill="#CCB6E2"/>
<rect x="245.6" y="154.86" width="14.5" height="3.86" fill="#E8E4F4"/>
<rect x="259.7" y="154.86" width="14.5" height="3.86" fill="#D4C4E6"/>
<rect x="273.8" y="154.86" width="14.1" height="3.86" fill="#CCB6E2"/>
<rect x="20" y="158.31" width="14.5" height="3.86" fill="#8A86DA"/>
<rect x="34.1" y="158.31" width="14.5" height="3.86" fill="#8A86DA"/>
<rect x="48.2" y="158.31" width="14.5" height="3.86" fill="#FAFAFD"/>
<rect x="62.3" y="158.31" width="14.5" height="3.86" fill="#8A86DA"/>
<rect x="76.4" y="158.31" width="14.5" height="3.86" fill="#F0EEF8"/>
<rect x="90.5" y="158.31" width="14.5" height="3.86" fill="#8A86DA"/>
<rect x="104.6" y="158.31" width="14.5" height="3.86" fill="#D8CAEA"/>
<rect x="118.7" y="158.31" width="14.5" height="3.86" fill="#CCB6E0"/>
<rect x="132.8" y="158.31" width="14.5" height="3.86" fill="#CCB8E2"/>
<rect x="146.9" y="158.31" width="14.5" height="3.86" fill="#E6E0F2"/>
<rect x="161" y="158.31" width="14.5" height="3.86" fill="#D4C4E6"/>
<rect x="175.1" y="158.31" width="14.5" height="3.86" fill="#D8CCEA"/>
<rect x="189.2" y="158.31" width="14.5" height="3.86" fill="#D4C4E6"/>
<rect x="203.3" y="158.31" width="14.5" height="3.86" fill="#C8B0DE"/>
<rect x="217.4" y="158.31" width="14.5" height="3.86" fill="#8884DA"/>
<rect x="231.5" y="158.31" width="14.5" height="3.86" fill="#D4C4E6"/>
<rect x="245.6" y="158.31" width="14.5" height="3.86" fill="#8884DA"/>
<rect x="259.7" y="158.31" width="14.5" height="3.86" fill="#D4C4E6"/>
<rect x="273.8" y="158.31" width="14.1" height="3.86" fill="#8884DA"/>
<rect x="20" y="161.77" width="14.5" height="3.86" fill="#A4A0E2"/>
<rect x="34.1" y="161.77" width="14.5" height="3.86" fill="#A4A0E2"/>
<rect x="48.2" y="161.77" width="14.5" height="3.86" fill="#A4A0E2"/>
<rect x="62.3" y="161.77" width="14.5" height="3.86" fill="#A4A0E2"/>
<rect x="76.4" y="161.77" width="14.5" height="3.86" fill="#A4A0E2"/>
<rect x="90.5" y="161.77" width="14.5" height="3.86" fill="#A4A0E2"/>
<rect x="104.6" y="161.77" width="14.5" height="3.86" fill="#CDB8E2"/>
<rect x="118.7" y="161.77" width="14.5" height="3.86" fill="#CAB4E0"/>
<rect x="132.8" y="161.77" width="14.5" height="3.86" fill="#D0BCE2"/>
<rect x="146.9" y="161.77" width="14.5" height="3.86" fill="#D4C4E6"/>
<rect x="161" y="161.77" width="14.5" height="3.86" fill="#D4C4E6"/>
<rect x="175.1" y="161.77" width="14.5" height="3.86" fill="#CCB6E2"/>
<rect x="189.2" y="161.77" width="14.5" height="3.86" fill="#D0BCE2"/>
<rect x="203.3" y="161.77" width="14.5" height="3.86" fill="#DCD0EC"/>
<rect x="217.4" y="161.77" width="14.5" height="3.86" fill="#C8B0DE"/>
<rect x="231.5" y="161.77" width="14.5" height="3.86" fill="#CCB6E2"/>
<rect x="245.6" y="161.77" width="14.5" height="3.86" fill="#9C98E0"/>
<rect x="259.7" y="161.77" width="14.5" height="3.86" fill="#9C98E0"/>
<rect x="273.8" y="161.77" width="14.1" height="3.86" fill="#9C98E0"/>
<rect x="20" y="165.23" width="14.5" height="3.86" fill="#A09CE2"/>
<rect x="34.1" y="165.23" width="14.5" height="3.86" fill="#A09CE2"/>
<rect x="48.2" y="165.23" width="14.5" height="3.86" fill="#A09CE2"/>
<rect x="62.3" y="165.23" width="14.5" height="3.86" fill="#A09CE2"/>
<rect x="76.4" y="165.23" width="14.5" height="3.86" fill="#A09CE2"/>
<rect x="90.5" y="165.23" width="14.5" height="3.86" fill="#FCFCFE"/>
<rect x="104.6" y="165.23" width="14.5" height="3.86" fill="#D0BCE2"/>
<rect x="118.7" y="165.23" width="14.5" height="3.86" fill="#B694D4"/>
<rect x="132.8" y="165.23" width="14.5" height="3.86" fill="#FFFFFF"/>
<rect x="146.9" y="165.23" width="14.5" height="3.86" fill="#D0BCE2"/>
<rect x="161" y="165.23" width="14.5" height="3.86" fill="#D4C4E6"/>
<rect x="175.1" y="165.23" width="14.5" height="3.86" fill="#E0D8EE"/>
<rect x="189.2" y="165.23" width="14.5" height="3.86" fill="#C4AADC"/>
<rect x="203.3" y="165.23" width="14.5" height="3.86" fill="#F2F0F8"/>
<rect x="217.4" y="165.23" width="14.5" height="3.86" fill="#C8B0DE"/>
<rect x="231.5" y="165.23" width="14.5" height="3.86" fill="#BA9CD8"/>
<rect x="245.6" y="165.23" width="14.5" height="3.86" fill="#9C98E0"/>
<rect x="259.7" y="165.23" width="14.5" height="3.86" fill="#9C98E0"/>
<rect x="273.8" y="165.23" width="14.1" height="3.86" fill="#9C98E0"/>
<rect x="20" y="168.69" width="14.5" height="3.86" fill="#8480D8"/>
<rect x="34.1" y="168.69" width="14.5" height="3.86" fill="#8480D8"/>
<rect x="48.2" y="168.69" width="14.5" height="3.86" fill="#F4F2FA"/>
<rect x="62.3" y="168.69" width="14.5" height="3.86" fill="#8480D8"/>
<rect x="76.4" y="168.69" width="14.5" height="3.86" fill="#E8E0F2"/>
<rect x="90.5" y="168.69" width="14.5" height="3.86" fill="#7272D4"/>
<rect x="104.6" y="168.69" width="14.5" height="3.86" fill="#E0D8EE"/>
<rect x="118.7" y="168.69" width="14.5" height="3.86" fill="#7272D4"/>
<rect x="132.8" y="168.69" width="14.5" height="3.86" fill="#DCD0EC"/>
<rect x="146.9" y="168.69" width="14.5" height="3.86" fill="#D8CAEA"/>
<rect x="161" y="168.69" width="14.5" height="3.86" fill="#D8CAEA"/>
<rect x="175.1" y="168.69" width="14.5" height="3.86" fill="#D0BCE2"/>
<rect x="189.2" y="168.69" width="14.5" height="3.86" fill="#D8CCEA"/>
<rect x="203.3" y="168.69" width="14.5" height="3.86" fill="#7070D4"/>
<rect x="217.4" y="168.69" width="14.5" height="3.86" fill="#D6C8E8"/>
<rect x="231.5" y="168.69" width="14.5" height="3.86" fill="#D4C4E6"/>
<rect x="245.6" y="168.69" width="14.5" height="3.86" fill="#DCD0EC"/>
<rect x="259.7" y="168.69" width="14.5" height="3.86" fill="#E4E0F2"/>
<rect x="273.8" y="168.69" width="14.1" height="3.86" fill="#CCB6E2"/>
<rect x="20" y="172.15" width="14.5" height="3.86" fill="#8884DA"/>
<rect x="34.1" y="172.15" width="14.5" height="3.86" fill="#8884DA"/>
<rect x="48.2" y="172.15" width="14.5" height="3.86" fill="#E4E2F4"/>
<rect x="62.3" y="172.15" width="14.5" height="3.86" fill="#8884DA"/>
<rect x="76.4" y="172.15" width="14.5" height="3.86" fill="#8884DA"/>
<rect x="90.5" y="172.15" width="14.5" height="3.86" fill="#FAF8FC"/>
<rect x="104.6" y="172.15" width="14.5" height="3.86" fill="#D8CAEA"/>
<rect x="118.7" y="172.15" width="14.5" height="3.86" fill="#C0A4DA"/>
<rect x="132.8" y="172.15" width="14.5" height="3.86" fill="#D8CCEA"/>
<rect x="146.9" y="172.15" width="14.5" height="3.86" fill="#EEEAF6"/>
<rect x="161" y="172.15" width="14.5" height="3.86" fill="#CCB6E2"/>
<rect x="175.1" y="172.15" width="14.5" height="3.86" fill="#CCB6E2"/>
<rect x="189.2" y="172.15" width="14.5" height="3.86" fill="#C0A4DA"/>
<rect x="203.3" y="172.15" width="14.5" height="3.86" fill="#8480D8"/>
<rect x="217.4" y="172.15" width="14.5" height="3.86" fill="#8480D8"/>
<rect x="231.5" y="172.15" width="14.5" height="3.86" fill="#C4AADC"/>
<rect x="245.6" y="172.15" width="14.5" height="3.86" fill="#F4F2FA"/>
<rect x="259.7" y="172.15" width="14.5" height="3.86" fill="#F4F2FA"/>
<rect x="273.8" y="172.15" width="14.1" height="3.86" fill="#C0A4DA"/>
<rect x="20" y="175.6" width="14.5" height="3.86" fill="#4A50CE"/>
<rect x="34.1" y="175.6" width="14.5" height="3.86" fill="#4A50CE"/>
<rect x="48.2" y="175.6" width="14.5" height="3.86" fill="#D6C8EA"/>
<rect x="62.3" y="175.6" width="14.5" height="3.86" fill="#4A50CE"/>
<rect x="76.4" y="175.6" width="14.5" height="3.86" fill="#4A50CE"/>
<rect x="90.5" y="175.6" width="14.5" height="3.86" fill="#DCD0EC"/>
<rect x="104.6" y="175.6" width="14.5" height="3.86" fill="#DCD0EC"/>
<rect x="118.7" y="175.6" width="14.5" height="3.86" fill="#F0EEF8"/>
<rect x="132.8" y="175.6" width="14.5" height="3.86" fill="#DCD0EC"/>
<rect x="146.9" y="175.6" width="14.5" height="3.86" fill="#E8E4F4"/>
<rect x="161" y="175.6" width="14.5" height="3.86" fill="#E6E2F4"/>
<rect x="175.1" y="175.6" width="14.5" height="3.86" fill="#E8E6F6"/>
<rect x="189.2" y="175.6" width="14.5" height="3.86" fill="#DCD0EC"/>
<rect x="203.3" y="175.6" width="14.5" height="3.86" fill="#DCD0EC"/>
<rect x="217.4" y="175.6" width="14.5" height="3.86" fill="#DCD0EC"/>
<rect x="231.5" y="175.6" width="14.5" height="3.86" fill="#F0EEF8"/>
<rect x="245.6" y="175.6" width="14.5" height="3.86" fill="#E4E0F2"/>
<rect x="259.7" y="175.6" width="14.5" height="3.86" fill="#D8CCEA"/>
<rect x="273.8" y="175.6" width="14.1" height="3.86" fill="#E0D8EE"/>
<rect x="20" y="179.06" width="14.5" height="3.86" fill="#5058CE"/>
<rect x="34.1" y="179.06" width="14.5" height="3.86" fill="#5058CE"/>
<rect x="48.2" y="179.06" width="14.5" height="3.86" fill="#CCB6E2"/>
<rect x="62.3" y="179.06" width="14.5" height="3.86" fill="#5058CE"/>
<rect x="76.4" y="179.06" width="14.5" height="3.86" fill="#5058CE"/>
<rect x="90.5" y="179.06" width="14.5" height="3.86" fill="#F8F8FC"/>
<rect x="104.6" y="179.06" width="14.5" height="3.86" fill="#D8CAEA"/>
<rect x="118.7" y="179.06" width="14.5" height="3.86" fill="#D6C6E8"/>
<rect x="132.8" y="179.06" width="14.5" height="3.86" fill="#ECE8F6"/>
<rect x="146.9" y="179.06" width="14.5" height="3.86" fill="#D8CAEA"/>
<rect x="161" y="179.06" width="14.5" height="3.86" fill="#DCD0EC"/>
<rect x="175.1" y="179.06" width="14.5" height="3.86" fill="#F8F8FC"/>
<rect x="189.2" y="179.06" width="14.5" height="3.86" fill="#DCD0EC"/>
<rect x="203.3" y="179.06" width="14.5" height="3.86" fill="#ECE8F6"/>
<rect x="217.4" y="179.06" width="14.5" height="3.86" fill="#E8E4F4"/>
<rect x="231.5" y="179.06" width="14.5" height="3.86" fill="#FCFCFE"/>
<rect x="245.6" y="179.06" width="14.5" height="3.86" fill="#DCD0EC"/>
<rect x="259.7" y="179.06" width="14.5" height="3.86" fill="#D4C4E6"/>
<rect x="273.8" y="179.06" width="14.1" height="3.86" fill="#E0D8EE"/>
<rect x="20" y="182.52" width="14.5" height="3.86" fill="#A09CE2"/>
<rect x="34.1" y="182.52" width="14.5" height="3.86" fill="#A09CE2"/>
<rect x="48.2" y="182.52" width="14.5" height="3.86" fill="#CDB6E2"/>
<rect x="62.3" y="182.52" width="14.5" height="3.86" fill="#A09CE2"/>
<rect x="76.4" y="182.52" width="14.5" height="3.86" fill="#A09CE2"/>
<rect x="90.5" y="182.52" width="14.5" height="3.86" fill="#8884DA"/>
<rect x="104.6" y="182.52" width="14.5" height="3.86" fill="#D4C4E6"/>
<rect x="118.7" y="182.52" width="14.5" height="3.86" fill="#D4C4E6"/>
<rect x="132.8" y="182.52" width="14.5" height="3.86" fill="#8884DA"/>
<rect x="146.9" y="182.52" width="14.5" height="3.86" fill="#D4C4E6"/>
<rect x="161" y="182.52" width="14.5" height="3.86" fill="#D0BCE2"/>
<rect x="175.1" y="182.52" width="14.5" height="3.86" fill="#DCD0EC"/>
<rect x="189.2" y="182.52" width="14.5" height="3.86" fill="#8884DA"/>
<rect x="203.3" y="182.52" width="14.5" height="3.86" fill="#D4C4E6"/>
<rect x="217.4" y="182.52" width="14.5" height="3.86" fill="#BA9CD8"/>
<rect x="231.5" y="182.52" width="14.5" height="3.86" fill="#CCB6E2"/>
<rect x="245.6" y="182.52" width="14.5" height="3.86" fill="#C4AADC"/>
<rect x="259.7" y="182.52" width="14.5" height="3.86" fill="#E8E4F4"/>
<rect x="273.8" y="182.52" width="14.1" height="3.86" fill="#8E8ADC"/>
<rect x="20" y="185.98" width="14.5" height="3.86" fill="#ABA8E8"/>
<rect x="34.1" y="185.98" width="14.5" height="3.86" fill="#ABA8E8"/>
<rect x="48.2" y="185.98" width="14.5" height="3.86" fill="#F0E8F4"/>
<rect x="62.3" y="185.98" width="14.5" height="3.86" fill="#ABA8E8"/>
<rect x="76.4" y="185.98" width="14.5" height="3.86" fill="#ABA8E8"/>
<rect x="90.5" y="185.98" width="14.5" height="3.86" fill="#CDB8E2"/>
<rect x="104.6" y="185.98" width="14.5" height="3.86" fill="#C0A4DA"/>
<rect x="118.7" y="185.98" width="14.5" height="3.86" fill="#A8A4E6"/>
<rect x="132.8" y="185.98" width="14.5" height="3.86" fill="#A8A4E6"/>
<rect x="146.9" y="185.98" width="14.5" height="3.86" fill="#D4C4E6"/>
<rect x="161" y="185.98" width="14.5" height="3.86" fill="#AE8ED2"/>
<rect x="175.1" y="185.98" width="14.5" height="3.86" fill="#D4C4E6"/>
<rect x="189.2" y="185.98" width="14.5" height="3.86" fill="#A8A4E6"/>
<rect x="203.3" y="185.98" width="14.5" height="3.86" fill="#E0D8EE"/>
<rect x="217.4" y="185.98" width="14.5" height="3.86" fill="#A8A4E6"/>
<rect x="231.5" y="185.98" width="14.5" height="3.86" fill="#B494D4"/>
<rect x="245.6" y="185.98" width="14.5" height="3.86" fill="#A888D2"/>
<rect x="259.7" y="185.98" width="14.5" height="3.86" fill="#A8A4E6"/>
<rect x="273.8" y="185.98" width="14.1" height="3.86" fill="#A8A4E6"/>
<rect x="20" y="189.44" width="14.5" height="3.86" fill="#8884DA"/>
<rect x="34.1" y="189.44" width="14.5" height="3.86" fill="#8884DA"/>
<rect x="48.2" y="189.44" width="14.5" height="3.86" fill="#8884DA"/>
<rect x="62.3" y="189.44" width="14.5" height="3.86" fill="#A47CC8"/>
<rect x="76.4" y="189.44" width="14.5" height="3.86" fill="#8884DA"/>
<rect x="90.5" y="189.44" width="14.5" height="3.86" fill="#E0D8EE"/>
<rect x="104.6" y="189.44" width="14.5" height="3.86" fill="#ECE8F6"/>
<rect x="118.7" y="189.44" width="14.5" height="3.86" fill="#C0A4DA"/>
<rect x="132.8" y="189.44" width="14.5" height="3.86" fill="#FAFAFC"/>
<rect x="146.9" y="189.44" width="14.5" height="3.86" fill="#D8CCEA"/>
<rect x="161" y="189.44" width="14.5" height="3.86" fill="#D4C4E6"/>
<rect x="175.1" y="189.44" width="14.5" height="3.86" fill="#ECE8F6"/>
<rect x="189.2" y="189.44" width="14.5" height="3.86" fill="#D4C4E6"/>
<rect x="203.3" y="189.44" width="14.5" height="3.86" fill="#F2F0F8"/>
<rect x="217.4" y="189.44" width="14.5" height="3.86" fill="#DCD0EC"/>
<rect x="231.5" y="189.44" width="14.5" height="3.86" fill="#CCB6E2"/>
<rect x="245.6" y="189.44" width="14.5" height="3.86" fill="#F0EEF8"/>
<rect x="259.7" y="189.44" width="14.5" height="3.86" fill="#7C78D6"/>
<rect x="273.8" y="189.44" width="14.1" height="3.86" fill="#7C78D6"/>
<rect x="20" y="192.89" width="14.5" height="3.86" fill="#8884DA"/>
<rect x="34.1" y="192.89" width="14.5" height="3.86" fill="#8884DA"/>
<rect x="48.2" y="192.89" width="14.5" height="3.86" fill="#8884DA"/>
<rect x="62.3" y="192.89" width="14.5" height="3.86" fill="#AC8ED2"/>
<rect x="76.4" y="192.89" width="14.5" height="3.86" fill="#8884DA"/>
<rect x="90.5" y="192.89" width="14.5" height="3.86" fill="#FCFCFE"/>
<rect x="104.6" y="192.89" width="14.5" height="3.86" fill="#DCD0EC"/>
<rect x="118.7" y="192.89" width="14.5" height="3.86" fill="#7676D6"/>
<rect x="132.8" y="192.89" width="14.5" height="3.86" fill="#F8F8FC"/>
<rect x="146.9" y="192.89" width="14.5" height="3.86" fill="#D8CCEA"/>
<rect x="161" y="192.89" width="14.5" height="3.86" fill="#D4C4E6"/>
<rect x="175.1" y="192.89" width="14.5" height="3.86" fill="#D6C8E8"/>
<rect x="189.2" y="192.89" width="14.5" height="3.86" fill="#D8CCEA"/>
<rect x="203.3" y="192.89" width="14.5" height="3.86" fill="#D8CCEA"/>
<rect x="217.4" y="192.89" width="14.5" height="3.86" fill="#DCD0EC"/>
<rect x="231.5" y="192.89" width="14.5" height="3.86" fill="#C8B0DE"/>
<rect x="245.6" y="192.89" width="14.5" height="3.86" fill="#CCB6E2"/>
<rect x="259.7" y="192.89" width="14.5" height="3.86" fill="#7C78D6"/>
<rect x="273.8" y="192.89" width="14.1" height="3.86" fill="#F4F2FA"/>
<rect x="20" y="196.35" width="14.5" height="3.86" fill="#DCD0EC"/>
<rect x="34.1" y="196.35" width="14.5" height="3.86" fill="#4A50CE"/>
<rect x="48.2" y="196.35" width="14.5" height="3.86" fill="#4A50CE"/>
<rect x="62.3" y="196.35" width="14.5" height="3.86" fill="#4A50CE"/>
<rect x="76.4" y="196.35" width="14.5" height="3.86" fill="#4A50CE"/>
<rect x="90.5" y="196.35" width="14.5" height="3.86" fill="#E0D8EE"/>
<rect x="104.6" y="196.35" width="14.5" height="3.86" fill="#E0D8EE"/>
<rect x="118.7" y="196.35" width="14.5" height="3.86" fill="#E4E0F2"/>
<rect x="132.8" y="196.35" width="14.5" height="3.86" fill="#E6E2F4"/>
<rect x="146.9" y="196.35" width="14.5" height="3.86" fill="#DCD0EC"/>
<rect x="161" y="196.35" width="14.5" height="3.86" fill="#ECE8F6"/>
<rect x="175.1" y="196.35" width="14.5" height="3.86" fill="#ECE8F6"/>
<rect x="189.2" y="196.35" width="14.5" height="3.86" fill="#DCD0EC"/>
<rect x="203.3" y="196.35" width="14.5" height="3.86" fill="#E0D8EE"/>
<rect x="217.4" y="196.35" width="14.5" height="3.86" fill="#DCD0EC"/>
<rect x="231.5" y="196.35" width="14.5" height="3.86" fill="#E4E0F2"/>
<rect x="245.6" y="196.35" width="14.5" height="3.86" fill="#DCD0EC"/>
<rect x="259.7" y="196.35" width="14.5" height="3.86" fill="#E4E0F2"/>
<rect x="273.8" y="196.35" width="14.1" height="3.86" fill="#DCD0EC"/>
<rect x="20" y="199.81" width="14.5" height="3.86" fill="#6264D2"/>
<rect x="34.1" y="199.81" width="14.5" height="3.86" fill="#6264D2"/>
<rect x="48.2" y="199.81" width="14.5" height="3.86" fill="#6264D2"/>
<rect x="62.3" y="199.81" width="14.5" height="3.86" fill="#6264D2"/>
<rect x="76.4" y="199.81" width="14.5" height="3.86" fill="#6264D2"/>
<rect x="90.5" y="199.81" width="14.5" height="3.86" fill="#E0D8EE"/>
<rect x="104.6" y="199.81" width="14.5" height="3.86" fill="#DCD0EC"/>
<rect x="118.7" y="199.81" width="14.5" height="3.86" fill="#E6E2F4"/>
<rect x="132.8" y="199.81" width="14.5" height="3.86" fill="#E6E2F4"/>
<rect x="146.9" y="199.81" width="14.5" height="3.86" fill="#DCD0EC"/>
<rect x="161" y="199.81" width="14.5" height="3.86" fill="#E0D8EE"/>
<rect x="175.1" y="199.81" width="14.5" height="3.86" fill="#E0D8EE"/>
<rect x="189.2" y="199.81" width="14.5" height="3.86" fill="#D0BCE2"/>
<rect x="203.3" y="199.81" width="14.5" height="3.86" fill="#E4E0F2"/>
<rect x="217.4" y="199.81" width="14.5" height="3.86" fill="#D8CCEA"/>
<rect x="231.5" y="199.81" width="14.5" height="3.86" fill="#E0D8EE"/>
<rect x="245.6" y="199.81" width="14.5" height="3.86" fill="#D4C4E6"/>
<rect x="259.7" y="199.81" width="14.5" height="3.86" fill="#E4E0F2"/>
<rect x="273.8" y="199.81" width="14.1" height="3.86" fill="#DCD0EC"/>
<rect x="20" y="203.27" width="14.5" height="3.86" fill="#6466D2"/>
<rect x="34.1" y="203.27" width="14.5" height="3.86" fill="#6466D2"/>
<rect x="48.2" y="203.27" width="14.5" height="3.86" fill="#6466D2"/>
<rect x="62.3" y="203.27" width="14.5" height="3.86" fill="#6466D2"/>
<rect x="76.4" y="203.27" width="14.5" height="3.86" fill="#6466D2"/>
<rect x="90.5" y="203.27" width="14.5" height="3.86" fill="#D4C4E6"/>
<rect x="104.6" y="203.27" width="14.5" height="3.86" fill="#E0D8EE"/>
<rect x="118.7" y="203.27" width="14.5" height="3.86" fill="#D8CCEA"/>
<rect x="132.8" y="203.27" width="14.5" height="3.86" fill="#DCD0EC"/>
<rect x="146.9" y="203.27" width="14.5" height="3.86" fill="#E4E0F2"/>
<rect x="161" y="203.27" width="14.5" height="3.86" fill="#E0D8EE"/>
<rect x="175.1" y="203.27" width="14.5" height="3.86" fill="#E0D8EE"/>
<rect x="189.2" y="203.27" width="14.5" height="3.86" fill="#DCD0EC"/>
<rect x="203.3" y="203.27" width="14.5" height="3.86" fill="#D8CCEA"/>
<rect x="217.4" y="203.27" width="14.5" height="3.86" fill="#DCD0EC"/>
<rect x="231.5" y="203.27" width="14.5" height="3.86" fill="#E4E0F2"/>
<rect x="245.6" y="203.27" width="14.5" height="3.86" fill="#ECE8F6"/>
<rect x="259.7" y="203.27" width="14.5" height="3.86" fill="#DCD0EC"/>
<rect x="273.8" y="203.27" width="14.1" height="3.86" fill="#DCD0EC"/>
<rect x="20" y="206.73" width="14.5" height="3.86" fill="#6668D4"/>
<rect x="34.1" y="206.73" width="14.5" height="3.86" fill="#6668D4"/>
<rect x="48.2" y="206.73" width="14.5" height="3.86" fill="#6668D4"/>
<rect x="62.3" y="206.73" width="14.5" height="3.86" fill="#6668D4"/>
<rect x="76.4" y="206.73" width="14.5" height="3.86" fill="#6668D4"/>
<rect x="90.5" y="206.73" width="14.5" height="3.86" fill="#D6C8E8"/>
<rect x="104.6" y="206.73" width="14.5" height="3.86" fill="#DCD0EC"/>
<rect x="118.7" y="206.73" width="14.5" height="3.86" fill="#D6C8E8"/>
<rect x="132.8" y="206.73" width="14.5" height="3.86" fill="#DCD0EC"/>
<rect x="146.9" y="206.73" width="14.5" height="3.86" fill="#DCD0EC"/>
<rect x="161" y="206.73" width="14.5" height="3.86" fill="#DCD0EC"/>
<rect x="175.1" y="206.73" width="14.5" height="3.86" fill="#E0D8EE"/>
<rect x="189.2" y="206.73" width="14.5" height="3.86" fill="#E0D8EE"/>
<rect x="203.3" y="206.73" width="14.5" height="3.86" fill="#DCD0EC"/>
<rect x="217.4" y="206.73" width="14.5" height="3.86" fill="#DCD0EC"/>
<rect x="231.5" y="206.73" width="14.5" height="3.86" fill="#DCD0EC"/>
<rect x="245.6" y="206.73" width="14.5" height="3.86" fill="#DCD0EC"/>
<rect x="259.7" y="206.73" width="14.5" height="3.86" fill="#E4E0F2"/>
<rect x="273.8" y="206.73" width="14.1" height="3.86" fill="#DCD0EC"/>
<rect x="20" y="210.18" width="14.5" height="3.86" fill="#D4C4E6"/>
<rect x="34.1" y="210.18" width="14.5" height="3.86" fill="#7E7AD6"/>
<rect x="48.2" y="210.18" width="14.5" height="3.86" fill="#7E7AD6"/>
<rect x="62.3" y="210.18" width="14.5" height="3.86" fill="#7E7AD6"/>
<rect x="76.4" y="210.18" width="14.5" height="3.86" fill="#7E7AD6"/>
<rect x="90.5" y="210.18" width="14.5" height="3.86" fill="#F2F0F8"/>
<rect x="104.6" y="210.18" width="14.5" height="3.86" fill="#D6C8E8"/>
<rect x="118.7" y="210.18" width="14.5" height="3.86" fill="#D6C8E8"/>
<rect x="132.8" y="210.18" width="14.5" height="3.86" fill="#7676D6"/>
<rect x="146.9" y="210.18" width="14.5" height="3.86" fill="#D6C8E8"/>
<rect x="161" y="210.18" width="14.5" height="3.86" fill="#D6C8E8"/>
<rect x="175.1" y="210.18" width="14.5" height="3.86" fill="#D6C8E8"/>
<rect x="189.2" y="210.18" width="14.5" height="3.86" fill="#D6C8E8"/>
<rect x="203.3" y="210.18" width="14.5" height="3.86" fill="#ECE8F6"/>
<rect x="217.4" y="210.18" width="14.5" height="3.86" fill="#D0BCE2"/>
<rect x="231.5" y="210.18" width="14.5" height="3.86" fill="#D8CAEA"/>
<rect x="245.6" y="210.18" width="14.5" height="3.86" fill="#D8CAEA"/>
<rect x="259.7" y="210.18" width="14.5" height="3.86" fill="#7676D6"/>
<rect x="273.8" y="210.18" width="14.1" height="3.86" fill="#ECE8F6"/>
<rect x="20" y="213.64" width="14.5" height="3.46" fill="#9A96E0"/>
<rect x="34.1" y="213.64" width="14.5" height="3.46" fill="#9A96E0"/>
<rect x="48.2" y="213.64" width="14.5" height="3.46" fill="#9A96E0"/>
<rect x="62.3" y="213.64" width="14.5" height="3.46" fill="#9A96E0"/>
<rect x="76.4" y="213.64" width="14.5" height="3.46" fill="#9A96E0"/>
<rect x="90.5" y="213.64" width="14.5" height="3.46" fill="#D4C4E6"/>
<rect x="104.6" y="213.64" width="14.5" height="3.46" fill="#CCB6E2"/>
<rect x="118.7" y="213.64" width="14.5" height="3.46" fill="#D4C4E6"/>
<rect x="132.8" y="213.64" width="14.5" height="3.46" fill="#9A96E0"/>
<rect x="146.9" y="213.64" width="14.5" height="3.46" fill="#C4A8DC"/>
<rect x="161" y="213.64" width="14.5" height="3.46" fill="#D0BCE2"/>
<rect x="175.1" y="213.64" width="14.5" height="3.46" fill="#D0BCE2"/>
<rect x="189.2" y="213.64" width="14.5" height="3.46" fill="#D4C4E6"/>
<rect x="203.3" y="213.64" width="14.5" height="3.46" fill="#D4C4E6"/>
<rect x="217.4" y="213.64" width="14.5" height="3.46" fill="#D6C8E8"/>
<rect x="231.5" y="213.64" width="14.5" height="3.46" fill="#D4C4E6"/>
<rect x="245.6" y="213.64" width="14.5" height="3.46" fill="#8884DA"/>
<rect x="259.7" y="213.64" width="14.5" height="3.46" fill="#9490DE"/>
<rect x="273.8" y="213.64" width="14.1" height="3.46" fill="#D4C4E6"/>
<line x1="20" y1="47.66" x2="287.9" y2="47.66" stroke="#9d9db5" stroke-width="0.3"/>
<line x1="20" y1="51.12" x2="287.9" y2="51.12" stroke="#9d9db5" stroke-width="0.3"/>
<line x1="20" y1="54.57" x2="287.9" y2="54.57" stroke="#9d9db5" stroke-width="0.3"/>
<line x1="20" y1="58.03" x2="287.9" y2="58.03" stroke="#9d9db5" stroke-width="0.3"/>
<line x1="20" y1="61.49" x2="287.9" y2="61.49" stroke="#9d9db5" stroke-width="0.3"/>
<line x1="20" y1="64.95" x2="287.9" y2="64.95" stroke="#9d9db5" stroke-width="0.3"/>
<line x1="20" y1="68.41" x2="287.9" y2="68.41" stroke="#9d9db5" stroke-width="0.3"/>
<line x1="20" y1="71.86" x2="287.9" y2="71.86" stroke="#9d9db5" stroke-width="0.3"/>
<line x1="20" y1="75.32" x2="287.9" y2="75.32" stroke="#9d9db5" stroke-width="0.3"/>
<line x1="20" y1="78.78" x2="287.9" y2="78.78" stroke="#9d9db5" stroke-width="0.3"/>
<line x1="20" y1="82.24" x2="287.9" y2="82.24" stroke="#9d9db5" stroke-width="0.3"/>
<line x1="20" y1="85.7" x2="287.9" y2="85.7" stroke="#9d9db5" stroke-width="0.3"/>
<line x1="20" y1="89.15" x2="287.9" y2="89.15" stroke="#9d9db5" stroke-width="0.3"/>
<line x1="20" y1="92.61" x2="287.9" y2="92.61" stroke="#9d9db5" stroke-width="0.3"/>
<line x1="20" y1="96.07" x2="287.9" y2="96.07" stroke="#9d9db5" stroke-width="0.3"/>
<line x1="20" y1="99.53" x2="287.9" y2="99.53" stroke="#9d9db5" stroke-width="0.3"/>
<line x1="20" y1="102.99" x2="287.9" y2="102.99" stroke="#9d9db5" stroke-width="0.3"/>
<line x1="20" y1="106.44" x2="287.9" y2="106.44" stroke="#9d9db5" stroke-width="0.3"/>
<line x1="20" y1="109.9" x2="287.9" y2="109.9" stroke="#9d9db5" stroke-width="0.3"/>
<line x1="20" y1="113.36" x2="287.9" y2="113.36" stroke="#9d9db5" stroke-width="0.3"/>
<line x1="20" y1="116.82" x2="287.9" y2="116.82" stroke="#9d9db5" stroke-width="0.3"/>
<line x1="20" y1="120.28" x2="287.9" y2="120.28" stroke="#9d9db5" stroke-width="0.3"/>
<line x1="20" y1="123.73" x2="287.9" y2="123.73" stroke="#9d9db5" stroke-width="0.3"/>
<line x1="20" y1="127.19" x2="287.9" y2="127.19" stroke="#9d9db5" stroke-width="0.3"/>
<line x1="20" y1="130.65" x2="287.9" y2="130.65" stroke="#9d9db5" stroke-width="0.3"/>
<line x1="20" y1="134.11" x2="287.9" y2="134.11" stroke="#9d9db5" stroke-width="0.3"/>
<line x1="20" y1="137.57" x2="287.9" y2="137.57" stroke="#9d9db5" stroke-width="0.3"/>
<line x1="20" y1="141.02" x2="287.9" y2="141.02" stroke="#9d9db5" stroke-width="0.3"/>
<line x1="20" y1="144.48" x2="287.9" y2="144.48" stroke="#9d9db5" stroke-width="0.3"/>
<line x1="20" y1="147.94" x2="287.9" y2="147.94" stroke="#9d9db5" stroke-width="0.3"/>
<line x1="20" y1="151.4" x2="287.9" y2="151.4" stroke="#9d9db5" stroke-width="0.3"/>
<line x1="20" y1="154.86" x2="287.9" y2="154.86" stroke="#9d9db5" stroke-width="0.3"/>
<line x1="20" y1="158.31" x2="287.9" y2="158.31" stroke="#9d9db5" stroke-width="0.3"/>
<line x1="20" y1="161.77" x2="287.9" y2="161.77" stroke="#9d9db5" stroke-width="0.3"/>
<line x1="20" y1="165.23" x2="287.9" y2="165.23" stroke="#9d9db5" stroke-width="0.3"/>
<line x1="20" y1="168.69" x2="287.9" y2="168.69" stroke="#9d9db5" stroke-width="0.3"/>
<line x1="20" y1="172.15" x2="287.9" y2="172.15" stroke="#9d9db5" stroke-width="0.3"/>
<line x1="20" y1="175.6" x2="287.9" y2="175.6" stroke="#9d9db5" stroke-width="0.3"/>
<line x1="20" y1="179.06" x2="287.9" y2="179.06" stroke="#9d9db5" stroke-width="0.3"/>
<line x1="20" y1="182.52" x2="287.9" y2="182.52" stroke="#9d9db5" stroke-width="0.3"/>
<line x1="20" y1="185.98" x2="287.9" y2="185.98" stroke="#9d9db5" stroke-width="0.3"/>
<line x1="20" y1="189.44" x2="287.9" y2="189.44" stroke="#9d9db5" stroke-width="0.3"/>
<line x1="20" y1="192.89" x2="287.9" y2="192.89" stroke="#9d9db5" stroke-width="0.3"/>
<line x1="20" y1="196.35" x2="287.9" y2="196.35" stroke="#9d9db5" stroke-width="0.3"/>
<line x1="20" y1="199.81" x2="287.9" y2="199.81" stroke="#9d9db5" stroke-width="0.3"/>
<line x1="20" y1="203.27" x2="287.9" y2="203.27" stroke="#9d9db5" stroke-width="0.3"/>
<line x1="20" y1="206.73" x2="287.9" y2="206.73" stroke="#9d9db5" stroke-width="0.3"/>
<line x1="20" y1="210.18" x2="287.9" y2="210.18" stroke="#9d9db5" stroke-width="0.3"/>
<line x1="20" y1="213.64" x2="287.9" y2="213.64" stroke="#9d9db5" stroke-width="0.3"/>
<line x1="34.1" y1="44.2" x2="34.1" y2="217.1" stroke="#9a9aaa" stroke-width="0.45"/>
<line x1="48.2" y1="44.2" x2="48.2" y2="217.1" stroke="#9a9aaa" stroke-width="0.45"/>
<line x1="62.3" y1="44.2" x2="62.3" y2="217.1" stroke="#9a9aaa" stroke-width="0.45"/>
<line x1="76.4" y1="44.2" x2="76.4" y2="217.1" stroke="#9a9aaa" stroke-width="0.45"/>
<line x1="90.5" y1="44.2" x2="90.5" y2="217.1" stroke="#9a9aaa" stroke-width="0.45"/>
<line x1="104.6" y1="44.2" x2="104.6" y2="217.1" stroke="#9a9aaa" stroke-width="0.45"/>
<line x1="118.7" y1="44.2" x2="118.7" y2="217.1" stroke="#9a9aaa" stroke-width="0.45"/>
<line x1="132.8" y1="44.2" x2="132.8" y2="217.1" stroke="#9a9aaa" stroke-width="0.45"/>
<line x1="146.9" y1="44.2" x2="146.9" y2="217.1" stroke="#9a9aaa" stroke-width="0.45"/>
<line x1="161" y1="44.2" x2="161" y2="217.1" stroke="#9a9aaa" stroke-width="0.45"/>
<line x1="175.1" y1="44.2" x2="175.1" y2="217.1" stroke="#9a9aaa" stroke-width="0.45"/>
<line x1="189.2" y1="44.2" x2="189.2" y2="217.1" stroke="#9a9aaa" stroke-width="0.45"/>
<line x1="203.3" y1="44.2" x2="203.3" y2="217.1" stroke="#9a9aaa" stroke-width="0.45"/>
<line x1="217.4" y1="44.2" x2="217.4" y2="217.1" stroke="#9a9aaa" stroke-width="0.45"/>
<line x1="231.5" y1="44.2" x2="231.5" y2="217.1" stroke="#9a9aaa" stroke-width="0.45"/>
<line x1="245.6" y1="44.2" x2="245.6" y2="217.1" stroke="#9a9aaa" stroke-width="0.45"/>
<line x1="259.7" y1="44.2" x2="259.7" y2="217.1" stroke="#9a9aaa" stroke-width="0.45"/>
<line x1="273.8" y1="44.2" x2="273.8" y2="217.1" stroke="#9a9aaa" stroke-width="0.45"/>
<rect x="20" y="44.2" width="267.9" height="172.9" fill="none" stroke="#a0a0b8" stroke-width="0.3"/>
<line x1="69.35" y1="37.3" x2="83.45" y2="37.3" stroke="#8a8a8a" stroke-width="0.5"/>
<line x1="69.35" y1="37.3" x2="69.35" y2="44" stroke="#8a8a8a" stroke-width="0.5"/>
<line x1="83.45" y1="37.3" x2="83.45" y2="44" stroke="#8a8a8a" stroke-width="0.5"/>
<line x1="55.25" y1="33" x2="76.4" y2="33" stroke="#8a8a8a" stroke-width="0.5"/>
<line x1="55.25" y1="33" x2="55.25" y2="44" stroke="#8a8a8a" stroke-width="0.5"/>
<line x1="76.4" y1="33" x2="76.4" y2="37.3" stroke="#8a8a8a" stroke-width="0.5"/>
<line x1="41.15" y1="32.2" x2="65.82" y2="32.2" stroke="#8a8a8a" stroke-width="0.5"/>
<line x1="41.15" y1="32.2" x2="41.15" y2="44" stroke="#8a8a8a" stroke-width="0.5"/>
<line x1="65.82" y1="32.2" x2="65.82" y2="33" stroke="#8a8a8a" stroke-width="0.5"/>
<line x1="27.05" y1="29.4" x2="53.49" y2="29.4" stroke="#8a8a8a" stroke-width="0.5"/>
<line x1="27.05" y1="29.4" x2="27.05" y2="44" stroke="#8a8a8a" stroke-width="0.5"/>
<line x1="53.49" y1="29.4" x2="53.49" y2="32.2" stroke="#8a8a8a" stroke-width="0.5"/>
<line x1="153.95" y1="39.5" x2="168.05" y2="39.5" stroke="#8a8a8a" stroke-width="0.5"/>
<line x1="153.95" y1="39.5" x2="153.95" y2="44" stroke="#8a8a8a" stroke-width="0.5"/>
<line x1="168.05" y1="39.5" x2="168.05" y2="44" stroke="#8a8a8a" stroke-width="0.5"/>
<line x1="139.85" y1="35.5" x2="161" y2="35.5" stroke="#8a8a8a" stroke-width="0.5"/>
<line x1="139.85" y1="35.5" x2="139.85" y2="44" stroke="#8a8a8a" stroke-width="0.5"/>
<line x1="161" y1="35.5" x2="161" y2="39.5" stroke="#8a8a8a" stroke-width="0.5"/>
<line x1="111.65" y1="36.2" x2="125.75" y2="36.2" stroke="#8a8a8a" stroke-width="0.5"/>
<line x1="111.65" y1="36.2" x2="111.65" y2="44" stroke="#8a8a8a" stroke-width="0.5"/>
<line x1="125.75" y1="36.2" x2="125.75" y2="44" stroke="#8a8a8a" stroke-width="0.5"/>
<line x1="97.55" y1="35.4" x2="118.7" y2="35.4" stroke="#8a8a8a" stroke-width="0.5"/>
<line x1="97.55" y1="35.4" x2="97.55" y2="44" stroke="#8a8a8a" stroke-width="0.5"/>
<line x1="118.7" y1="35.4" x2="118.7" y2="36.2" stroke="#8a8a8a" stroke-width="0.5"/>
<line x1="108.12" y1="33.4" x2="150.43" y2="33.4" stroke="#8a8a8a" stroke-width="0.5"/>
<line x1="108.12" y1="33.4" x2="108.12" y2="35.4" stroke="#8a8a8a" stroke-width="0.5"/>
<line x1="150.43" y1="33.4" x2="150.43" y2="35.5" stroke="#8a8a8a" stroke-width="0.5"/>
<line x1="182.15" y1="35.4" x2="196.25" y2="35.4" stroke="#8a8a8a" stroke-width="0.5"/>
<line x1="182.15" y1="35.4" x2="182.15" y2="44" stroke="#8a8a8a" stroke-width="0.5"/>
<line x1="196.25" y1="35.4" x2="196.25" y2="44" stroke="#8a8a8a" stroke-width="0.5"/>
<line x1="210.35" y1="36.4" x2="224.45" y2="36.4" stroke="#8a8a8a" stroke-width="0.5"/>
<line x1="210.35" y1="36.4" x2="210.35" y2="44" stroke="#8a8a8a" stroke-width="0.5"/>
<line x1="224.45" y1="36.4" x2="224.45" y2="44" stroke="#8a8a8a" stroke-width="0.5"/>
<line x1="238.55" y1="38.4" x2="252.65" y2="38.4" stroke="#8a8a8a" stroke-width="0.5"/>
<line x1="238.55" y1="38.4" x2="238.55" y2="44" stroke="#8a8a8a" stroke-width="0.5"/>
<line x1="252.65" y1="38.4" x2="252.65" y2="44" stroke="#8a8a8a" stroke-width="0.5"/>
<line x1="266.75" y1="36.4" x2="280.85" y2="36.4" stroke="#8a8a8a" stroke-width="0.5"/>
<line x1="266.75" y1="36.4" x2="266.75" y2="44" stroke="#8a8a8a" stroke-width="0.5"/>
<line x1="280.85" y1="36.4" x2="280.85" y2="44" stroke="#8a8a8a" stroke-width="0.5"/>
<line x1="245.6" y1="34.4" x2="273.8" y2="34.4" stroke="#8a8a8a" stroke-width="0.5"/>
<line x1="245.6" y1="34.4" x2="245.6" y2="38.4" stroke="#8a8a8a" stroke-width="0.5"/>
<line x1="273.8" y1="34.4" x2="273.8" y2="36.4" stroke="#8a8a8a" stroke-width="0.5"/>
<line x1="217.4" y1="33.3" x2="259.7" y2="33.3" stroke="#8a8a8a" stroke-width="0.5"/>
<line x1="217.4" y1="33.3" x2="217.4" y2="36.4" stroke="#8a8a8a" stroke-width="0.5"/>
<line x1="259.7" y1="33.3" x2="259.7" y2="34.4" stroke="#8a8a8a" stroke-width="0.5"/>
<line x1="189.2" y1="32.3" x2="238.55" y2="32.3" stroke="#8a8a8a" stroke-width="0.5"/>
<line x1="189.2" y1="32.3" x2="189.2" y2="35.4" stroke="#8a8a8a" stroke-width="0.5"/>
<line x1="238.55" y1="32.3" x2="238.55" y2="33.3" stroke="#8a8a8a" stroke-width="0.5"/>
<line x1="129.28" y1="27.6" x2="213.88" y2="27.6" stroke="#8a8a8a" stroke-width="0.5"/>
<line x1="129.28" y1="27.6" x2="129.28" y2="33.4" stroke="#8a8a8a" stroke-width="0.5"/>
<line x1="213.88" y1="27.6" x2="213.88" y2="32.3" stroke="#8a8a8a" stroke-width="0.5"/>
<line x1="40.27" y1="23.3" x2="171.57" y2="23.3" stroke="#8a8a8a" stroke-width="0.5"/>
<line x1="40.27" y1="23.3" x2="40.27" y2="29.4" stroke="#8a8a8a" stroke-width="0.5"/>
<line x1="171.57" y1="23.3" x2="171.57" y2="27.6" stroke="#8a8a8a" stroke-width="0.5"/>
<line x1="7.3" y1="45.93" x2="7.3" y2="49.39" stroke="#8a8a8a" stroke-width="0.45"/>
<line x1="7.3" y1="45.93" x2="20" y2="45.93" stroke="#8a8a8a" stroke-width="0.45"/>
<line x1="7.3" y1="49.39" x2="20" y2="49.39" stroke="#8a8a8a" stroke-width="0.45"/>
<line x1="13.03" y1="56.3" x2="13.03" y2="59.76" stroke="#8a8a8a" stroke-width="0.45"/>
<line x1="13.03" y1="56.3" x2="20" y2="56.3" stroke="#8a8a8a" stroke-width="0.45"/>
<line x1="13.03" y1="59.76" x2="20" y2="59.76" stroke="#8a8a8a" stroke-width="0.45"/>
<line x1="13.57" y1="73.59" x2="13.57" y2="77.05" stroke="#8a8a8a" stroke-width="0.45"/>
<line x1="13.57" y1="73.59" x2="20" y2="73.59" stroke="#8a8a8a" stroke-width="0.45"/>
<line x1="13.57" y1="77.05" x2="20" y2="77.05" stroke="#8a8a8a" stroke-width="0.45"/>
<line x1="13.57" y1="70.14" x2="13.57" y2="75.32" stroke="#8a8a8a" stroke-width="0.45"/>
<line x1="13.57" y1="70.14" x2="20" y2="70.14" stroke="#8a8a8a" stroke-width="0.45"/>
<line x1="13.57" y1="75.32" x2="13.57" y2="75.32" stroke="#8a8a8a" stroke-width="0.45"/>
<line x1="12.13" y1="66.68" x2="12.13" y2="72.73" stroke="#8a8a8a" stroke-width="0.45"/>
<line x1="12.13" y1="66.68" x2="20" y2="66.68" stroke="#8a8a8a" stroke-width="0.45"/>
<line x1="12.13" y1="72.73" x2="13.57" y2="72.73" stroke="#8a8a8a" stroke-width="0.45"/>
<line x1="12.13" y1="63.22" x2="12.13" y2="69.7" stroke="#8a8a8a" stroke-width="0.45"/>
<line x1="12.13" y1="63.22" x2="20" y2="63.22" stroke="#8a8a8a" stroke-width="0.45"/>
<line x1="12.13" y1="69.7" x2="12.13" y2="69.7" stroke="#8a8a8a" stroke-width="0.45"/>
<line x1="12.07" y1="58.03" x2="12.07" y2="66.46" stroke="#8a8a8a" stroke-width="0.45"/>
<line x1="12.07" y1="58.03" x2="13.03" y2="58.03" stroke="#8a8a8a" stroke-width="0.45"/>
<line x1="12.07" y1="66.46" x2="12.13" y2="66.46" stroke="#8a8a8a" stroke-width="0.45"/>
<line x1="10.3" y1="52.84" x2="10.3" y2="62.25" stroke="#8a8a8a" stroke-width="0.45"/>
<line x1="10.3" y1="52.84" x2="20" y2="52.84" stroke="#8a8a8a" stroke-width="0.45"/>
<line x1="10.3" y1="62.25" x2="12.07" y2="62.25" stroke="#8a8a8a" stroke-width="0.45"/>
<line x1="7.3" y1="80.51" x2="7.3" y2="83.97" stroke="#8a8a8a" stroke-width="0.45"/>
<line x1="7.3" y1="80.51" x2="20" y2="80.51" stroke="#8a8a8a" stroke-width="0.45"/>
<line x1="7.3" y1="83.97" x2="20" y2="83.97" stroke="#8a8a8a" stroke-width="0.45"/>
<line x1="16.68" y1="90.88" x2="16.68" y2="94.34" stroke="#8a8a8a" stroke-width="0.45"/>
<line x1="16.68" y1="90.88" x2="20" y2="90.88" stroke="#8a8a8a" stroke-width="0.45"/>
<line x1="16.68" y1="94.34" x2="20" y2="94.34" stroke="#8a8a8a" stroke-width="0.45"/>
<line x1="15.01" y1="87.43" x2="15.01" y2="92.61" stroke="#8a8a8a" stroke-width="0.45"/>
<line x1="15.01" y1="87.43" x2="20" y2="87.43" stroke="#8a8a8a" stroke-width="0.45"/>
<line x1="15.01" y1="92.61" x2="16.68" y2="92.61" stroke="#8a8a8a" stroke-width="0.45"/>
<line x1="11.41" y1="90.02" x2="11.41" y2="97.8" stroke="#8a8a8a" stroke-width="0.45"/>
<line x1="11.41" y1="90.02" x2="15.01" y2="90.02" stroke="#8a8a8a" stroke-width="0.45"/>
<line x1="11.41" y1="97.8" x2="20" y2="97.8" stroke="#8a8a8a" stroke-width="0.45"/>
<line x1="8.07" y1="93.91" x2="8.07" y2="101.26" stroke="#8a8a8a" stroke-width="0.45"/>
<line x1="8.07" y1="93.91" x2="11.41" y2="93.91" stroke="#8a8a8a" stroke-width="0.45"/>
<line x1="8.07" y1="101.26" x2="20" y2="101.26" stroke="#8a8a8a" stroke-width="0.45"/>
<line x1="7.3" y1="82.24" x2="7.3" y2="97.58" stroke="#8a8a8a" stroke-width="0.45"/>
<line x1="7.3" y1="82.24" x2="7.3" y2="82.24" stroke="#8a8a8a" stroke-width="0.45"/>
<line x1="7.3" y1="97.58" x2="8.07" y2="97.58" stroke="#8a8a8a" stroke-width="0.45"/>
<line x1="19.02" y1="108.17" x2="19.02" y2="111.63" stroke="#8a8a8a" stroke-width="0.45"/>
<line x1="19.02" y1="108.17" x2="20" y2="108.17" stroke="#8a8a8a" stroke-width="0.45"/>
<line x1="19.02" y1="111.63" x2="20" y2="111.63" stroke="#8a8a8a" stroke-width="0.45"/>
<line x1="16.53" y1="104.72" x2="16.53" y2="109.9" stroke="#8a8a8a" stroke-width="0.45"/>
<line x1="16.53" y1="104.72" x2="20" y2="104.72" stroke="#8a8a8a" stroke-width="0.45"/>
<line x1="16.53" y1="109.9" x2="19.02" y2="109.9" stroke="#8a8a8a" stroke-width="0.45"/>
<line x1="16.46" y1="115.09" x2="16.46" y2="118.55" stroke="#8a8a8a" stroke-width="0.45"/>
<line x1="16.46" y1="115.09" x2="20" y2="115.09" stroke="#8a8a8a" stroke-width="0.45"/>
<line x1="16.46" y1="118.55" x2="20" y2="118.55" stroke="#8a8a8a" stroke-width="0.45"/>
<line x1="15.67" y1="107.31" x2="15.67" y2="116.82" stroke="#8a8a8a" stroke-width="0.45"/>
<line x1="15.67" y1="107.31" x2="16.53" y2="107.31" stroke="#8a8a8a" stroke-width="0.45"/>
<line x1="15.67" y1="116.82" x2="16.46" y2="116.82" stroke="#8a8a8a" stroke-width="0.45"/>
<line x1="10.4" y1="112.06" x2="10.4" y2="122.01" stroke="#8a8a8a" stroke-width="0.45"/>
<line x1="10.4" y1="112.06" x2="15.67" y2="112.06" stroke="#8a8a8a" stroke-width="0.45"/>
<line x1="10.4" y1="122.01" x2="20" y2="122.01" stroke="#8a8a8a" stroke-width="0.45"/>
<line x1="7" y1="89.91" x2="7" y2="117.03" stroke="#8a8a8a" stroke-width="0.45"/>
<line x1="7" y1="89.91" x2="7.3" y2="89.91" stroke="#8a8a8a" stroke-width="0.45"/>
<line x1="7" y1="117.03" x2="10.4" y2="117.03" stroke="#8a8a8a" stroke-width="0.45"/>
<line x1="6.1" y1="57.55" x2="6.1" y2="103.47" stroke="#8a8a8a" stroke-width="0.45"/>
<line x1="6.1" y1="57.55" x2="10.3" y2="57.55" stroke="#8a8a8a" stroke-width="0.45"/>
<line x1="6.1" y1="103.47" x2="7" y2="103.47" stroke="#8a8a8a" stroke-width="0.45"/>
<line x1="4.6" y1="47.66" x2="4.6" y2="80.51" stroke="#8a8a8a" stroke-width="0.45"/>
<line x1="4.6" y1="47.66" x2="7.3" y2="47.66" stroke="#8a8a8a" stroke-width="0.45"/>
<line x1="4.6" y1="80.51" x2="6.1" y2="80.51" stroke="#8a8a8a" stroke-width="0.45"/>
<line x1="10.97" y1="128.92" x2="10.97" y2="132.38" stroke="#8a8a8a" stroke-width="0.45"/>
<line x1="10.97" y1="128.92" x2="20" y2="128.92" stroke="#8a8a8a" stroke-width="0.45"/>
<line x1="10.97" y1="132.38" x2="20" y2="132.38" stroke="#8a8a8a" stroke-width="0.45"/>
<line x1="9" y1="125.46" x2="9" y2="130.65" stroke="#8a8a8a" stroke-width="0.45"/>
<line x1="9" y1="125.46" x2="20" y2="125.46" stroke="#8a8a8a" stroke-width="0.45"/>
<line x1="9" y1="130.65" x2="10.97" y2="130.65" stroke="#8a8a8a" stroke-width="0.45"/>
<line x1="9.12" y1="135.84" x2="9.12" y2="139.3" stroke="#8a8a8a" stroke-width="0.45"/>
<line x1="9.12" y1="135.84" x2="20" y2="135.84" stroke="#8a8a8a" stroke-width="0.45"/>
<line x1="9.12" y1="139.3" x2="20" y2="139.3" stroke="#8a8a8a" stroke-width="0.45"/>
<line x1="8.4" y1="137.57" x2="8.4" y2="142.75" stroke="#8a8a8a" stroke-width="0.45"/>
<line x1="8.4" y1="137.57" x2="9.12" y2="137.57" stroke="#8a8a8a" stroke-width="0.45"/>
<line x1="8.4" y1="142.75" x2="20" y2="142.75" stroke="#8a8a8a" stroke-width="0.45"/>
<line x1="15.13" y1="146.21" x2="15.13" y2="149.67" stroke="#8a8a8a" stroke-width="0.45"/>
<line x1="15.13" y1="146.21" x2="20" y2="146.21" stroke="#8a8a8a" stroke-width="0.45"/>
<line x1="15.13" y1="149.67" x2="20" y2="149.67" stroke="#8a8a8a" stroke-width="0.45"/>
<line x1="12.44" y1="153.13" x2="12.44" y2="156.59" stroke="#8a8a8a" stroke-width="0.45"/>
<line x1="12.44" y1="153.13" x2="20" y2="153.13" stroke="#8a8a8a" stroke-width="0.45"/>
<line x1="12.44" y1="156.59" x2="20" y2="156.59" stroke="#8a8a8a" stroke-width="0.45"/>
<line x1="7.5" y1="147.94" x2="7.5" y2="154.86" stroke="#8a8a8a" stroke-width="0.45"/>
<line x1="7.5" y1="147.94" x2="15.13" y2="147.94" stroke="#8a8a8a" stroke-width="0.45"/>
<line x1="7.5" y1="154.86" x2="12.44" y2="154.86" stroke="#8a8a8a" stroke-width="0.45"/>
<line x1="5" y1="128.06" x2="5" y2="140.16" stroke="#8a8a8a" stroke-width="0.45"/>
<line x1="5" y1="128.06" x2="9" y2="128.06" stroke="#8a8a8a" stroke-width="0.45"/>
<line x1="5" y1="140.16" x2="8.4" y2="140.16" stroke="#8a8a8a" stroke-width="0.45"/>
<line x1="3" y1="134.11" x2="3" y2="151.4" stroke="#8a8a8a" stroke-width="0.45"/>
<line x1="3" y1="134.11" x2="5" y2="134.11" stroke="#8a8a8a" stroke-width="0.45"/>
<line x1="3" y1="151.4" x2="7.5" y2="151.4" stroke="#8a8a8a" stroke-width="0.45"/>
<line x1="11.72" y1="163.5" x2="11.72" y2="166.96" stroke="#8a8a8a" stroke-width="0.45"/>
<line x1="11.72" y1="163.5" x2="20" y2="163.5" stroke="#8a8a8a" stroke-width="0.45"/>
<line x1="11.72" y1="166.96" x2="20" y2="166.96" stroke="#8a8a8a" stroke-width="0.45"/>
<line x1="8.39" y1="160.04" x2="8.39" y2="165.23" stroke="#8a8a8a" stroke-width="0.45"/>
<line x1="8.39" y1="160.04" x2="20" y2="160.04" stroke="#8a8a8a" stroke-width="0.45"/>
<line x1="8.39" y1="165.23" x2="11.72" y2="165.23" stroke="#8a8a8a" stroke-width="0.45"/>
<line x1="7.51" y1="170.42" x2="7.51" y2="173.88" stroke="#8a8a8a" stroke-width="0.45"/>
<line x1="7.51" y1="170.42" x2="20" y2="170.42" stroke="#8a8a8a" stroke-width="0.45"/>
<line x1="7.51" y1="173.88" x2="20" y2="173.88" stroke="#8a8a8a" stroke-width="0.45"/>
<line x1="7.11" y1="162.64" x2="7.11" y2="172.15" stroke="#8a8a8a" stroke-width="0.45"/>
<line x1="7.11" y1="162.64" x2="8.39" y2="162.64" stroke="#8a8a8a" stroke-width="0.45"/>
<line x1="7.11" y1="172.15" x2="7.51" y2="172.15" stroke="#8a8a8a" stroke-width="0.45"/>
<line x1="14.45" y1="177.33" x2="14.45" y2="180.79" stroke="#8a8a8a" stroke-width="0.45"/>
<line x1="14.45" y1="177.33" x2="20" y2="177.33" stroke="#8a8a8a" stroke-width="0.45"/>
<line x1="14.45" y1="180.79" x2="20" y2="180.79" stroke="#8a8a8a" stroke-width="0.45"/>
<line x1="5.5" y1="167.39" x2="5.5" y2="179.06" stroke="#8a8a8a" stroke-width="0.45"/>
<line x1="5.5" y1="167.39" x2="7.11" y2="167.39" stroke="#8a8a8a" stroke-width="0.45"/>
<line x1="5.5" y1="179.06" x2="14.45" y2="179.06" stroke="#8a8a8a" stroke-width="0.45"/>
<line x1="11.09" y1="184.25" x2="11.09" y2="187.71" stroke="#8a8a8a" stroke-width="0.45"/>
<line x1="11.09" y1="184.25" x2="20" y2="184.25" stroke="#8a8a8a" stroke-width="0.45"/>
<line x1="11.09" y1="187.71" x2="20" y2="187.71" stroke="#8a8a8a" stroke-width="0.45"/>
<line x1="10.23" y1="191.17" x2="10.23" y2="194.62" stroke="#8a8a8a" stroke-width="0.45"/>
<line x1="10.23" y1="191.17" x2="20" y2="191.17" stroke="#8a8a8a" stroke-width="0.45"/>
<line x1="10.23" y1="194.62" x2="20" y2="194.62" stroke="#8a8a8a" stroke-width="0.45"/>
<line x1="6.6" y1="185.98" x2="6.6" y2="192.89" stroke="#8a8a8a" stroke-width="0.45"/>
<line x1="6.6" y1="185.98" x2="11.09" y2="185.98" stroke="#8a8a8a" stroke-width="0.45"/>
<line x1="6.6" y1="192.89" x2="10.23" y2="192.89" stroke="#8a8a8a" stroke-width="0.45"/>
<line x1="16.83" y1="205" x2="16.83" y2="208.45" stroke="#8a8a8a" stroke-width="0.45"/>
<line x1="16.83" y1="205" x2="20" y2="205" stroke="#8a8a8a" stroke-width="0.45"/>
<line x1="16.83" y1="208.45" x2="20" y2="208.45" stroke="#8a8a8a" stroke-width="0.45"/>
<line x1="15.7" y1="201.54" x2="15.7" y2="206.73" stroke="#8a8a8a" stroke-width="0.45"/>
<line x1="15.7" y1="201.54" x2="20" y2="201.54" stroke="#8a8a8a" stroke-width="0.45"/>
<line x1="15.7" y1="206.73" x2="16.83" y2="206.73" stroke="#8a8a8a" stroke-width="0.45"/>
<line x1="10.78" y1="198.08" x2="10.78" y2="204.13" stroke="#8a8a8a" stroke-width="0.45"/>
<line x1="10.78" y1="198.08" x2="20" y2="198.08" stroke="#8a8a8a" stroke-width="0.45"/>
<line x1="10.78" y1="204.13" x2="15.7" y2="204.13" stroke="#8a8a8a" stroke-width="0.45"/>
<line x1="10.43" y1="211.91" x2="10.43" y2="215.37" stroke="#8a8a8a" stroke-width="0.45"/>
<line x1="10.43" y1="211.91" x2="20" y2="211.91" stroke="#8a8a8a" stroke-width="0.45"/>
<line x1="10.43" y1="215.37" x2="20" y2="215.37" stroke="#8a8a8a" stroke-width="0.45"/>
<line x1="7.2" y1="201.11" x2="7.2" y2="213.64" stroke="#8a8a8a" stroke-width="0.45"/>
<line x1="7.2" y1="201.11" x2="10.78" y2="201.11" stroke="#8a8a8a" stroke-width="0.45"/>
<line x1="7.2" y1="213.64" x2="10.43" y2="213.64" stroke="#8a8a8a" stroke-width="0.45"/>
<line x1="4.2" y1="189.44" x2="4.2" y2="207.37" stroke="#8a8a8a" stroke-width="0.45"/>
<line x1="4.2" y1="189.44" x2="6.6" y2="189.44" stroke="#8a8a8a" stroke-width="0.45"/>
<line x1="4.2" y1="207.37" x2="7.2" y2="207.37" stroke="#8a8a8a" stroke-width="0.45"/>
<line x1="3.8" y1="173.23" x2="3.8" y2="198.41" stroke="#8a8a8a" stroke-width="0.45"/>
<line x1="3.8" y1="173.23" x2="5.5" y2="173.23" stroke="#8a8a8a" stroke-width="0.45"/>
<line x1="3.8" y1="198.41" x2="4.2" y2="198.41" stroke="#8a8a8a" stroke-width="0.45"/>
<line x1="2.3" y1="142.75" x2="2.3" y2="185.82" stroke="#8a8a8a" stroke-width="0.45"/>
<line x1="2.3" y1="142.75" x2="3" y2="142.75" stroke="#8a8a8a" stroke-width="0.45"/>
<line x1="2.3" y1="185.82" x2="3.8" y2="185.82" stroke="#8a8a8a" stroke-width="0.45"/>
<line x1="-2" y1="64.08" x2="-2" y2="164.28" stroke="#8a8a8a" stroke-width="0.45"/>
<line x1="-2" y1="64.08" x2="4.6" y2="64.08" stroke="#8a8a8a" stroke-width="0.45"/>
<line x1="-2" y1="164.28" x2="2.3" y2="164.28" stroke="#8a8a8a" stroke-width="0.45"/>
<text x="0" y="0" font-size="5.1" text-anchor="start" fill="#222" transform="translate(25.35,218.8) rotate(90)" stroke="#222" stroke-width="0.18">H2S383</text>
<text x="0" y="0" font-size="5.1" text-anchor="start" fill="#222" transform="translate(39.45,218.8) rotate(90)" stroke="#222" stroke-width="0.18">B02</text>
<text x="0" y="0" font-size="5.1" text-anchor="start" fill="#222" transform="translate(53.55,218.8) rotate(90)" stroke="#222" stroke-width="0.18">C01</text>
<text x="0" y="0" font-size="5.1" text-anchor="start" fill="#222" transform="translate(67.65,218.8) rotate(90)" stroke="#222" stroke-width="0.18">D01</text>
<text x="0" y="0" font-size="5.1" text-anchor="start" fill="#222" transform="translate(81.75,218.8) rotate(90)" stroke="#222" stroke-width="0.18">G01</text>
<text x="0" y="0" font-size="5.1" text-anchor="start" fill="#222" transform="translate(95.85,218.8) rotate(90)" stroke="#222" stroke-width="0.18">H01</text>
<text x="0" y="0" font-size="5.1" text-anchor="start" fill="#222" transform="translate(109.95,218.8) rotate(90)" stroke="#222" stroke-width="0.18">B01</text>
<text x="0" y="0" font-size="5.1" text-anchor="start" fill="#222" transform="translate(124.05,218.8) rotate(90)" stroke="#222" stroke-width="0.18">H2S365</text>
<text x="0" y="0" font-size="5.1" text-anchor="start" fill="#222" transform="translate(138.15,218.8) rotate(90)" stroke="#222" stroke-width="0.18">C02</text>
<text x="0" y="0" font-size="5.1" text-anchor="start" fill="#222" transform="translate(152.25,218.8) rotate(90)" stroke="#222" stroke-width="0.18">F01</text>
<text x="0" y="0" font-size="5.1" text-anchor="start" fill="#222" transform="translate(166.35,218.8) rotate(90)" stroke="#222" stroke-width="0.18">H2S361</text>
<text x="0" y="0" font-size="5.1" text-anchor="start" fill="#222" transform="translate(180.45,218.8) rotate(90)" stroke="#222" stroke-width="0.18">D02</text>
<text x="0" y="0" font-size="5.1" text-anchor="start" fill="#222" transform="translate(194.55,218.8) rotate(90)" stroke="#222" stroke-width="0.18">E02</text>
<text x="0" y="0" font-size="5.1" text-anchor="start" fill="#222" transform="translate(208.65,218.8) rotate(90)" stroke="#222" stroke-width="0.18">H2S362</text>
<text x="0" y="0" font-size="5.1" text-anchor="start" fill="#222" transform="translate(222.75,218.8) rotate(90)" stroke="#222" stroke-width="0.18">H2S364</text>
<text x="0" y="0" font-size="5.1" text-anchor="start" fill="#222" transform="translate(236.85,218.8) rotate(90)" stroke="#222" stroke-width="0.18">A02</text>
<text x="0" y="0" font-size="5.1" text-anchor="start" fill="#222" transform="translate(250.95,218.8) rotate(90)" stroke="#222" stroke-width="0.18">E01</text>
<text x="0" y="0" font-size="5.1" text-anchor="start" fill="#222" transform="translate(265.05,218.8) rotate(90)" stroke="#222" stroke-width="0.18">A01</text>
<text x="0" y="0" font-size="5.1" text-anchor="start" fill="#222" transform="translate(279.15,218.8) rotate(90)" stroke="#222" stroke-width="0.18">F02</text>
<text x="288.9" y="47.18" font-size="3.5" text-anchor="start" fill="#444" stroke="#444" stroke-width="0.12">nuoB</text>
<text x="288.9" y="50.64" font-size="3.5" text-anchor="start" fill="#444" stroke="#444" stroke-width="0.12">copB</text>
<text x="288.9" y="54.09" font-size="3.5" text-anchor="start" fill="#444" stroke="#444" stroke-width="0.12">UT189_RS14330</text>
<text x="288.9" y="57.55" font-size="3.5" text-anchor="start" fill="#444" stroke="#444" stroke-width="0.12">UT189_RS26180</text>
<text x="288.9" y="61.01" font-size="3.5" text-anchor="start" fill="#444" stroke="#444" stroke-width="0.12">UT189_RS26170</text>
<text x="288.9" y="64.47" font-size="3.5" text-anchor="start" fill="#444" stroke="#444" stroke-width="0.12">yfdX</text>
<text x="288.9" y="67.93" font-size="3.5" text-anchor="start" fill="#444" stroke="#444" stroke-width="0.12">yeeT</text>
<text x="288.9" y="71.39" font-size="3.5" text-anchor="start" fill="#444" stroke="#444" stroke-width="0.12">yfdZ</text>
<text x="288.9" y="74.84" font-size="3.5" text-anchor="start" fill="#444" stroke="#444" stroke-width="0.12">yeeU</text>
<text x="288.9" y="78.3" font-size="3.5" text-anchor="start" fill="#444" stroke="#444" stroke-width="0.12">yfdY</text>
<text x="288.9" y="81.76" font-size="3.5" text-anchor="start" fill="#444" stroke="#444" stroke-width="0.12">UT189_RS26265</text>
<text x="288.9" y="85.22" font-size="3.5" text-anchor="start" fill="#444" stroke="#444" stroke-width="0.12">UT189_RS26090</text>
<text x="288.9" y="88.68" font-size="3.5" text-anchor="start" fill="#444" stroke="#444" stroke-width="0.12">senB</text>
<text x="288.9" y="92.13" font-size="3.5" text-anchor="start" fill="#444" stroke="#444" stroke-width="0.12">UT189_RS26300</text>
<text x="288.9" y="95.59" font-size="3.5" text-anchor="start" fill="#444" stroke="#444" stroke-width="0.12">UT189_RS26305</text>
<text x="288.9" y="99.05" font-size="3.5" text-anchor="start" fill="#444" stroke="#444" stroke-width="0.12">UT189_RS26255</text>
<text x="288.9" y="102.51" font-size="3.5" text-anchor="start" fill="#444" stroke="#444" stroke-width="0.12">UT189_RS26200</text>
<text x="288.9" y="105.97" font-size="3.5" text-anchor="start" fill="#444" stroke="#444" stroke-width="0.12">UT189_RS26195</text>
<text x="288.9" y="109.42" font-size="3.5" text-anchor="start" fill="#444" stroke="#444" stroke-width="0.12">UT189_RS26230</text>
<text x="288.9" y="112.88" font-size="3.5" text-anchor="start" fill="#444" stroke="#444" stroke-width="0.12">UT189_RS26210</text>
<text x="288.9" y="116.34" font-size="3.5" text-anchor="start" fill="#444" stroke="#444" stroke-width="0.12">UT189_RS26215</text>
<text x="288.9" y="119.8" font-size="3.5" text-anchor="start" fill="#444" stroke="#444" stroke-width="0.12">UT189_RS26225</text>
<text x="288.9" y="123.26" font-size="3.5" text-anchor="start" fill="#444" stroke="#444" stroke-width="0.12">UT189_RS29830</text>
<text x="288.9" y="126.71" font-size="3.5" text-anchor="start" fill="#444" stroke="#444" stroke-width="0.12">kfiA</text>
<text x="288.9" y="130.17" font-size="3.5" text-anchor="start" fill="#444" stroke="#444" stroke-width="0.12">kfiB</text>
<text x="288.9" y="133.63" font-size="3.5" text-anchor="start" fill="#444" stroke="#444" stroke-width="0.12">kfiD</text>
<text x="288.9" y="137.09" font-size="3.5" text-anchor="start" fill="#444" stroke="#444" stroke-width="0.12">UT189_RS29465</text>
<text x="288.9" y="140.55" font-size="3.5" text-anchor="start" fill="#444" stroke="#444" stroke-width="0.12">kpsM</text>
<text x="288.9" y="144" font-size="3.5" text-anchor="start" fill="#444" stroke="#444" stroke-width="0.12">UT189_RS29620</text>
<text x="288.9" y="147.46" font-size="3.5" text-anchor="start" fill="#444" stroke="#444" stroke-width="0.12">kpsT</text>
<text x="288.9" y="150.92" font-size="3.5" text-anchor="start" fill="#444" stroke="#444" stroke-width="0.12">kpsE</text>
<text x="288.9" y="154.38" font-size="3.5" text-anchor="start" fill="#444" stroke="#444" stroke-width="0.12">UT189_RS29700</text>
<text x="288.9" y="157.84" font-size="3.5" text-anchor="start" fill="#444" stroke="#444" stroke-width="0.12">UT189_RS29610</text>
<text x="288.9" y="161.29" font-size="3.5" text-anchor="start" fill="#444" stroke="#444" stroke-width="0.12">malX</text>
<text x="288.9" y="164.75" font-size="3.5" text-anchor="start" fill="#444" stroke="#444" stroke-width="0.12">ybeT</text>
<text x="288.9" y="168.21" font-size="3.5" text-anchor="start" fill="#444" stroke="#444" stroke-width="0.12">iroB</text>
<text x="288.9" y="171.67" font-size="3.5" text-anchor="start" fill="#444" stroke="#444" stroke-width="0.12">iroC</text>
<text x="288.9" y="175.12" font-size="3.5" text-anchor="start" fill="#444" stroke="#444" stroke-width="0.12">iroD</text>
<text x="288.9" y="178.58" font-size="3.5" text-anchor="start" fill="#444" stroke="#444" stroke-width="0.12">iroE</text>
<text x="288.9" y="182.04" font-size="3.5" text-anchor="start" fill="#444" stroke="#444" stroke-width="0.12">UT189_RS14900</text>
<text x="288.9" y="185.5" font-size="3.5" text-anchor="start" fill="#444" stroke="#444" stroke-width="0.12">hlyA</text>
<text x="288.9" y="188.96" font-size="3.5" text-anchor="start" fill="#444" stroke="#444" stroke-width="0.12">hlyB</text>
<text x="288.9" y="192.42" font-size="3.5" text-anchor="start" fill="#444" stroke="#444" stroke-width="0.12">hlyC</text>
<text x="288.9" y="195.87" font-size="3.5" text-anchor="start" fill="#444" stroke="#444" stroke-width="0.12">hlyD</text>
<text x="288.9" y="199.33" font-size="3.5" text-anchor="start" fill="#444" stroke="#444" stroke-width="0.12">sfaA</text>
<text x="288.9" y="202.79" font-size="3.5" text-anchor="start" fill="#444" stroke="#444" stroke-width="0.12">sfaC</text>
<text x="288.9" y="206.25" font-size="3.5" text-anchor="start" fill="#444" stroke="#444" stroke-width="0.12">sfaD</text>
<text x="288.9" y="209.7" font-size="3.5" text-anchor="start" fill="#444" stroke="#444" stroke-width="0.12">sfaE</text>
<text x="288.9" y="213.16" font-size="3.5" text-anchor="start" fill="#444" stroke="#444" stroke-width="0.12">sfaF</text>
<text x="288.9" y="216.62" font-size="3.5" text-anchor="start" fill="#444" stroke="#444" stroke-width="0.12">sfaG</text>
<defs><linearGradient id="gA" x1="0" y1="0" x2="0" y2="1"><stop offset="0" stop-color="#4B1E9B"/><stop offset="0.2" stop-color="#7E58B8"/><stop offset="0.4" stop-color="#C3B0DE"/><stop offset="0.6" stop-color="#FBFAFD"/><stop offset="0.8" stop-color="#9A98E2"/><stop offset="1" stop-color="#3B40CC"/></linearGradient><linearGradient id="gD" x1="0" y1="0" x2="0" y2="1"><stop offset="0" stop-color="#4A1696"/><stop offset="0.5" stop-color="#9C82CE"/><stop offset="1" stop-color="#FFFFFF"/></linearGradient></defs>
<rect x="318.2" y="44" width="3.7" height="57.7" fill="url(#gA)"/>
<text x="323.3" y="45.6" font-size="3.8" text-anchor="start" fill="#666" stroke="#666" stroke-width="0.1">3</text>
<text x="323.3" y="57.1" font-size="3.8" text-anchor="start" fill="#666" stroke="#666" stroke-width="0.1">2</text>
<text x="323.3" y="68.6" font-size="3.8" text-anchor="start" fill="#666" stroke="#666" stroke-width="0.1">1</text>
<text x="323.3" y="80.1" font-size="3.8" text-anchor="start" fill="#666" stroke="#666" stroke-width="0.1">0</text>
<text x="323.3" y="91.6" font-size="3.8" text-anchor="start" fill="#666" stroke="#666" stroke-width="0.1">-1</text>
<text x="323.3" y="103.1" font-size="3.8" text-anchor="start" fill="#666" stroke="#666" stroke-width="0.1">-2</text>
<text x="0" y="0" font-size="3.8" text-anchor="middle" fill="#666" transform="translate(331.5,120) rotate(-90)" stroke="#666" stroke-width="0.1">value</text>
<text x="340.8" y="14.6" font-size="19.2" text-anchor="start" fill="#000">B</text>
<line x1="364.5" y1="11.8" x2="630" y2="11.8" stroke="#ebebeb" stroke-width="0.35"/>
<line x1="364.5" y1="15.63" x2="630" y2="15.63" stroke="#ebebeb" stroke-width="0.35"/>
<line x1="364.5" y1="19.45" x2="630" y2="19.45" stroke="#ebebeb" stroke-width="0.35"/>
<line x1="364.5" y1="23.28" x2="630" y2="23.28" stroke="#ebebeb" stroke-width="0.35"/>
<line x1="364.5" y1="27.1" x2="630" y2="27.1" stroke="#ebebeb" stroke-width="0.35"/>
<line x1="364.5" y1="30.93" x2="630" y2="30.93" stroke="#ebebeb" stroke-width="0.35"/>
<line x1="364.5" y1="34.76" x2="630" y2="34.76" stroke="#ebebeb" stroke-width="0.35"/>
<line x1="364.5" y1="38.58" x2="630" y2="38.58" stroke="#ebebeb" stroke-width="0.35"/>
<line x1="364.5" y1="42.41" x2="630" y2="42.41" stroke="#ebebeb" stroke-width="0.35"/>
<line x1="364.5" y1="46.23" x2="630" y2="46.23" stroke="#ebebeb" stroke-width="0.35"/>
<line x1="364.5" y1="50.06" x2="630" y2="50.06" stroke="#ebebeb" stroke-width="0.35"/>
<line x1="364.5" y1="53.89" x2="630" y2="53.89" stroke="#ebebeb" stroke-width="0.35"/>
<line x1="364.5" y1="57.71" x2="630" y2="57.71" stroke="#ebebeb" stroke-width="0.35"/>
<line x1="364.5" y1="61.54" x2="630" y2="61.54" stroke="#ebebeb" stroke-width="0.35"/>
<line x1="364.5" y1="65.36" x2="630" y2="65.36" stroke="#ebebeb" stroke-width="0.35"/>
<line x1="364.5" y1="69.19" x2="630" y2="69.19" stroke="#ebebeb" stroke-width="0.35"/>
<line x1="364.5" y1="73.02" x2="630" y2="73.02" stroke="#ebebeb" stroke-width="0.35"/>
<line x1="364.5" y1="76.84" x2="630" y2="76.84" stroke="#ebebeb" stroke-width="0.35"/>
<line x1="364.5" y1="80.67" x2="630" y2="80.67" stroke="#ebebeb" stroke-width="0.35"/>
<line x1="364.5" y1="84.49" x2="630" y2="84.49" stroke="#ebebeb" stroke-width="0.35"/>
<line x1="364.5" y1="88.32" x2="630" y2="88.32" stroke="#ebebeb" stroke-width="0.35"/>
<line x1="364.5" y1="92.15" x2="630" y2="92.15" stroke="#ebebeb" stroke-width="0.35"/>
<line x1="364.5" y1="95.97" x2="630" y2="95.97" stroke="#ebebeb" stroke-width="0.35"/>
<line x1="364.5" y1="99.8" x2="630" y2="99.8" stroke="#ebebeb" stroke-width="0.35"/>
<line x1="364.5" y1="103.62" x2="630" y2="103.62" stroke="#ebebeb" stroke-width="0.35"/>
<line x1="364.5" y1="107.45" x2="630" y2="107.45" stroke="#ebebeb" stroke-width="0.35"/>
<line x1="364.5" y1="111.28" x2="630" y2="111.28" stroke="#ebebeb" stroke-width="0.35"/>
<line x1="364.5" y1="115.1" x2="630" y2="115.1" stroke="#ebebeb" stroke-width="0.35"/>
<line x1="364.5" y1="118.93" x2="630" y2="118.93" stroke="#ebebeb" stroke-width="0.35"/>
<line x1="364.5" y1="122.75" x2="630" y2="122.75" stroke="#ebebeb" stroke-width="0.35"/>
<line x1="364.5" y1="126.58" x2="630" y2="126.58" stroke="#ebebeb" stroke-width="0.35"/>
<line x1="364.5" y1="130.41" x2="630" y2="130.41" stroke="#ebebeb" stroke-width="0.35"/>
<line x1="364.5" y1="134.23" x2="630" y2="134.23" stroke="#ebebeb" stroke-width="0.35"/>
<line x1="364.5" y1="138.06" x2="630" y2="138.06" stroke="#ebebeb" stroke-width="0.35"/>
<line x1="364.5" y1="141.88" x2="630" y2="141.88" stroke="#ebebeb" stroke-width="0.35"/>
<line x1="364.5" y1="145.71" x2="630" y2="145.71" stroke="#ebebeb" stroke-width="0.35"/>
<line x1="364.5" y1="149.54" x2="630" y2="149.54" stroke="#ebebeb" stroke-width="0.35"/>
<line x1="364.5" y1="153.36" x2="630" y2="153.36" stroke="#ebebeb" stroke-width="0.35"/>
<line x1="364.5" y1="157.19" x2="630" y2="157.19" stroke="#ebebeb" stroke-width="0.35"/>
<line x1="364.5" y1="161.01" x2="630" y2="161.01" stroke="#ebebeb" stroke-width="0.35"/>
<line x1="364.5" y1="164.84" x2="630" y2="164.84" stroke="#ebebeb" stroke-width="0.35"/>
<line x1="364.5" y1="168.67" x2="630" y2="168.67" stroke="#ebebeb" stroke-width="0.35"/>
<line x1="364.5" y1="172.49" x2="630" y2="172.49" stroke="#ebebeb" stroke-width="0.35"/>
<line x1="364.5" y1="176.32" x2="630" y2="176.32" stroke="#ebebeb" stroke-width="0.35"/>
<line x1="364.5" y1="180.14" x2="630" y2="180.14" stroke="#ebebeb" stroke-width="0.35"/>
<line x1="364.5" y1="183.97" x2="630" y2="183.97" stroke="#ebebeb" stroke-width="0.35"/>
<line x1="364.5" y1="187.8" x2="630" y2="187.8" stroke="#ebebeb" stroke-width="0.35"/>
<line x1="364.5" y1="191.62" x2="630" y2="191.62" stroke="#ebebeb" stroke-width="0.35"/>
<line x1="364.5" y1="195.45" x2="630" y2="195.45" stroke="#ebebeb" stroke-width="0.35"/>
<line x1="364.5" y1="199.27" x2="630" y2="199.27" stroke="#ebebeb" stroke-width="0.35"/>
<line x1="364.5" y1="203.1" x2="630" y2="203.1" stroke="#ebebeb" stroke-width="0.35"/>
<line x1="364.5" y1="206.93" x2="630" y2="206.93" stroke="#ebebeb" stroke-width="0.35"/>
<line x1="364.5" y1="210.75" x2="630" y2="210.75" stroke="#ebebeb" stroke-width="0.35"/>
<line x1="364.5" y1="214.58" x2="630" y2="214.58" stroke="#ebebeb" stroke-width="0.35"/>
<line x1="364.5" y1="218.4" x2="630" y2="218.4" stroke="#ebebeb" stroke-width="0.35"/>
<line x1="364.5" y1="222.23" x2="630" y2="222.23" stroke="#ebebeb" stroke-width="0.35"/>
<line x1="364.5" y1="226.06" x2="630" y2="226.06" stroke="#ebebeb" stroke-width="0.35"/>
<line x1="364.5" y1="229.88" x2="630" y2="229.88" stroke="#ebebeb" stroke-width="0.35"/>
<line x1="364.5" y1="233.71" x2="630" y2="233.71" stroke="#ebebeb" stroke-width="0.35"/>
<line x1="372.5" y1="10" x2="372.5" y2="235.5" stroke="#ebebeb" stroke-width="0.35"/>
<line x1="386.35" y1="10" x2="386.35" y2="235.5" stroke="#ebebeb" stroke-width="0.35"/>
<line x1="400.2" y1="10" x2="400.2" y2="235.5" stroke="#ebebeb" stroke-width="0.35"/>
<line x1="414.05" y1="10" x2="414.05" y2="235.5" stroke="#ebebeb" stroke-width="0.35"/>
<line x1="427.9" y1="10" x2="427.9" y2="235.5" stroke="#ebebeb" stroke-width="0.35"/>
<line x1="441.75" y1="10" x2="441.75" y2="235.5" stroke="#ebebeb" stroke-width="0.35"/>
<line x1="455.6" y1="10" x2="455.6" y2="235.5" stroke="#ebebeb" stroke-width="0.35"/>
<line x1="469.45" y1="10" x2="469.45" y2="235.5" stroke="#ebebeb" stroke-width="0.35"/>
<line x1="483.3" y1="10" x2="483.3" y2="235.5" stroke="#ebebeb" stroke-width="0.35"/>
<line x1="497.15" y1="10" x2="497.15" y2="235.5" stroke="#ebebeb" stroke-width="0.35"/>
<line x1="511" y1="10" x2="511" y2="235.5" stroke="#ebebeb" stroke-width="0.35"/>
<line x1="524.85" y1="10" x2="524.85" y2="235.5" stroke="#ebebeb" stroke-width="0.35"/>
<line x1="538.7" y1="10" x2="538.7" y2="235.5" stroke="#ebebeb" stroke-width="0.35"/>
<line x1="552.55" y1="10" x2="552.55" y2="235.5" stroke="#ebebeb" stroke-width="0.35"/>
<line x1="566.4" y1="10" x2="566.4" y2="235.5" stroke="#ebebeb" stroke-width="0.35"/>
<line x1="580.25" y1="10" x2="580.25" y2="235.5" stroke="#ebebeb" stroke-width="0.35"/>
<line x1="594.1" y1="10" x2="594.1" y2="235.5" stroke="#ebebeb" stroke-width="0.35"/>
<line x1="607.95" y1="10" x2="607.95" y2="235.5" stroke="#ebebeb" stroke-width="0.35"/>
<line x1="621.8" y1="10" x2="621.8" y2="235.5" stroke="#ebebeb" stroke-width="0.35"/>
<circle cx="372.5" cy="15.63" r="2.5" fill="#6646A6"/>
<circle cx="372.5" cy="19.45" r="2.4" fill="#6646A6"/>
<circle cx="372.5" cy="23.28" r="2" fill="#6646A6"/>
<circle cx="372.5" cy="42.41" r="1.5" fill="#D9302A"/>
<circle cx="372.5" cy="53.89" r="3.02" fill="#D9302A"/>
<circle cx="372.5" cy="61.54" r="2.5" fill="#D9302A"/>
<circle cx="372.5" cy="65.36" r="2.5" fill="#D9302A"/>
<circle cx="372.5" cy="69.19" r="1.8" fill="#D9302A"/>
<circle cx="372.5" cy="73.02" r="2.2" fill="#D9302A"/>
<circle cx="372.5" cy="76.84" r="2.2" fill="#D9302A"/>
<circle cx="372.5" cy="80.67" r="3.12" fill="#D9302A"/>
<circle cx="372.5" cy="84.49" r="2.6" fill="#6646A6"/>
<circle cx="372.5" cy="95.97" r="1.5" fill="#EED98A"/>
<circle cx="372.5" cy="122.75" r="2" fill="#6646A6"/>
<circle cx="372.5" cy="126.58" r="2.2" fill="#6646A6"/>
<circle cx="372.5" cy="153.36" r="1.6" fill="#6646A6"/>
<circle cx="372.5" cy="157.19" r="2.3" fill="#EED98A"/>
<circle cx="372.5" cy="183.97" r="2.4" fill="#6646A6"/>
<circle cx="372.5" cy="187.8" r="2.4" fill="#6646A6"/>
<circle cx="372.5" cy="206.93" r="1.5" fill="#6646A6"/>
<circle cx="372.5" cy="210.75" r="1.8" fill="#6646A6"/>
<circle cx="372.5" cy="214.58" r="2.4" fill="#6646A6"/>
<circle cx="372.5" cy="218.4" r="2.4" fill="#6646A6"/>
<circle cx="372.5" cy="222.23" r="2.4" fill="#6646A6"/>
<circle cx="372.5" cy="226.06" r="2" fill="#6646A6"/>
<circle cx="372.5" cy="229.88" r="2" fill="#6646A6"/>
<circle cx="372.5" cy="233.71" r="2.6" fill="#6646A6"/>
<circle cx="386.35" cy="11.8" r="1.8" fill="#EE8052"/>
<circle cx="386.35" cy="15.63" r="2.4" fill="#6646A6"/>
<circle cx="386.35" cy="19.45" r="2.4" fill="#6646A6"/>
<circle cx="386.35" cy="23.28" r="2.4" fill="#6646A6"/>
<circle cx="386.35" cy="27.1" r="2.4" fill="#6646A6"/>
<circle cx="386.35" cy="30.93" r="1.6" fill="#EED98A"/>
<circle cx="386.35" cy="34.76" r="1.4" fill="#D9302A"/>
<circle cx="386.35" cy="38.58" r="1.4" fill="#D9302A"/>
<circle cx="386.35" cy="42.41" r="1.4" fill="#D9302A"/>
<circle cx="386.35" cy="46.23" r="1.4" fill="#D9302A"/>
<circle cx="386.35" cy="50.06" r="1.4" fill="#D9302A"/>
<circle cx="386.35" cy="53.89" r="2.2" fill="#D9302A"/>
<circle cx="386.35" cy="57.71" r="2" fill="#D9302A"/>
<circle cx="386.35" cy="61.54" r="2.6" fill="#D9302A"/>
<circle cx="386.35" cy="65.36" r="2.6" fill="#D9302A"/>
<circle cx="386.35" cy="69.19" r="2.5" fill="#D9302A"/>
<circle cx="386.35" cy="73.02" r="2.5" fill="#D9302A"/>
<circle cx="386.35" cy="76.84" r="2.5" fill="#D9302A"/>
<circle cx="386.35" cy="80.67" r="3.12" fill="#D9302A"/>
<circle cx="386.35" cy="84.49" r="3.02" fill="#6646A6"/>
<circle cx="386.35" cy="88.32" r="1.5" fill="#EED98A"/>
<circle cx="386.35" cy="92.15" r="1.5" fill="#EED98A"/>
<circle cx="386.35" cy="95.97" r="2" fill="#EED98A"/>
<circle cx="386.35" cy="99.8" r="1.5" fill="#EED98A"/>
<circle cx="386.35" cy="122.75" r="2.92" fill="#6646A6"/>
<circle cx="386.35" cy="126.58" r="2.92" fill="#6646A6"/>
<circle cx="386.35" cy="130.41" r="1.6" fill="#6646A6"/>
<circle cx="386.35" cy="134.23" r="1.6" fill="#6646A6"/>
<circle cx="386.35" cy="138.06" r="1.4" fill="#6646A6"/>
<circle cx="386.35" cy="141.88" r="1.4" fill="#6646A6"/>
<circle cx="386.35" cy="153.36" r="1.6" fill="#6646A6"/>
<circle cx="386.35" cy="157.19" r="2.92" fill="#EED98A"/>
<circle cx="386.35" cy="180.14" r="1.5" fill="#D9302A"/>
<circle cx="386.35" cy="183.97" r="2.92" fill="#6646A6"/>
<circle cx="386.35" cy="187.8" r="3.12" fill="#6646A6"/>
<circle cx="386.35" cy="195.45" r="1.6" fill="#EE8052"/>
<circle cx="386.35" cy="203.1" r="1.6" fill="#EE8052"/>
<circle cx="386.35" cy="206.93" r="2" fill="#6646A6"/>
<circle cx="386.35" cy="210.75" r="2.92" fill="#6646A6"/>
<circle cx="386.35" cy="214.58" r="2.92" fill="#6646A6"/>
<circle cx="386.35" cy="218.4" r="2.92" fill="#6646A6"/>
<circle cx="386.35" cy="222.23" r="2.92" fill="#6646A6"/>
<circle cx="386.35" cy="226.06" r="2.92" fill="#6646A6"/>
<circle cx="386.35" cy="229.88" r="2.92" fill="#6646A6"/>
<circle cx="386.35" cy="233.71" r="2.92" fill="#6646A6"/>
<circle cx="400.2" cy="15.63" r="2.4" fill="#6646A6"/>
<circle cx="400.2" cy="19.45" r="2.4" fill="#6646A6"/>
<circle cx="400.2" cy="23.28" r="2.4" fill="#6646A6"/>
<circle cx="400.2" cy="27.1" r="2.92" fill="#6646A6"/>
<circle cx="400.2" cy="34.76" r="1.8" fill="#D9302A"/>
<circle cx="400.2" cy="38.58" r="1.4" fill="#D9302A"/>
<circle cx="400.2" cy="42.41" r="1.6" fill="#D9302A"/>
<circle cx="400.2" cy="50.06" r="1.4" fill="#D9302A"/>
<circle cx="400.2" cy="53.89" r="1.4" fill="#D9302A"/>
<circle cx="400.2" cy="57.71" r="1.4" fill="#D9302A"/>
<circle cx="400.2" cy="65.36" r="1.4" fill="#D9302A"/>
<circle cx="400.2" cy="69.19" r="1.6" fill="#D9302A"/>
<circle cx="400.2" cy="76.84" r="1.5" fill="#D9302A"/>
<circle cx="400.2" cy="80.67" r="1.5" fill="#D9302A"/>
<circle cx="400.2" cy="84.49" r="2" fill="#6646A6"/>
<circle cx="400.2" cy="95.97" r="1.6" fill="#EED98A"/>
<circle cx="400.2" cy="103.62" r="2.5" fill="#6646A6"/>
<circle cx="400.2" cy="107.45" r="2.5" fill="#6646A6"/>
<circle cx="400.2" cy="111.28" r="2.5" fill="#6646A6"/>
<circle cx="400.2" cy="115.1" r="2.4" fill="#6646A6"/>
<circle cx="400.2" cy="118.93" r="2.5" fill="#6646A6"/>
<circle cx="400.2" cy="122.75" r="1.6" fill="#6646A6"/>
<circle cx="400.2" cy="126.58" r="1.8" fill="#6646A6"/>
<circle cx="400.2" cy="183.97" r="2.5" fill="#6646A6"/>
<circle cx="400.2" cy="187.8" r="2.6" fill="#6646A6"/>
<circle cx="400.2" cy="191.62" r="1.7" fill="#EE8052"/>
<circle cx="400.2" cy="195.45" r="1.6" fill="#EE8052"/>
<circle cx="400.2" cy="206.93" r="2.2" fill="#6646A6"/>
<circle cx="400.2" cy="210.75" r="1.5" fill="#6646A6"/>
<circle cx="400.2" cy="214.58" r="2" fill="#6646A6"/>
<circle cx="400.2" cy="218.4" r="2" fill="#6646A6"/>
<circle cx="400.2" cy="222.23" r="2" fill="#6646A6"/>
<circle cx="400.2" cy="226.06" r="1.4" fill="#6646A6"/>
<circle cx="400.2" cy="233.71" r="2.6" fill="#6646A6"/>
<circle cx="414.05" cy="15.63" r="3.52" fill="#6646A6"/>
<circle cx="427.9" cy="27.1" r="1.6" fill="#6646A6"/>
<circle cx="427.9" cy="42.41" r="1.5" fill="#D9302A"/>
<circle cx="427.9" cy="84.49" r="1.5" fill="#6646A6"/>
<circle cx="427.9" cy="103.62" r="1.4" fill="#6646A6"/>
<circle cx="427.9" cy="107.45" r="1.4" fill="#6646A6"/>
<circle cx="427.9" cy="111.28" r="1.4" fill="#6646A6"/>
<circle cx="427.9" cy="115.1" r="1.4" fill="#6646A6"/>
<circle cx="427.9" cy="118.93" r="1.6" fill="#6646A6"/>
<circle cx="427.9" cy="122.75" r="1.4" fill="#6646A6"/>
<circle cx="427.9" cy="126.58" r="1.4" fill="#6646A6"/>
<circle cx="427.9" cy="183.97" r="1.5" fill="#6646A6"/>
<circle cx="427.9" cy="187.8" r="1.5" fill="#6646A6"/>
<circle cx="441.75" cy="15.63" r="1.3" fill="#6646A6"/>
<circle cx="441.75" cy="19.45" r="1.3" fill="#6646A6"/>
<circle cx="441.75" cy="23.28" r="1.3" fill="#6646A6"/>
<circle cx="441.75" cy="34.76" r="2" fill="#D9302A"/>
<circle cx="441.75" cy="38.58" r="2.2" fill="#D9302A"/>
<circle cx="441.75" cy="42.41" r="2" fill="#D9302A"/>
<circle cx="441.75" cy="46.23" r="1.8" fill="#D9302A"/>
<circle cx="441.75" cy="50.06" r="1.6" fill="#D9302A"/>
<circle cx="441.75" cy="53.89" r="1.5" fill="#D9302A"/>
<circle cx="441.75" cy="57.71" r="1.4" fill="#D9302A"/>
<circle cx="441.75" cy="65.36" r="1.4" fill="#D9302A"/>
<circle cx="441.75" cy="69.19" r="1.6" fill="#D9302A"/>
<circle cx="441.75" cy="76.84" r="1.5" fill="#D9302A"/>
<circle cx="441.75" cy="80.67" r="1.6" fill="#D9302A"/>
<circle cx="441.75" cy="84.49" r="2.4" fill="#6646A6"/>
<circle cx="441.75" cy="95.97" r="2" fill="#EED98A"/>
<circle cx="441.75" cy="126.58" r="2" fill="#6646A6"/>
<circle cx="441.75" cy="134.23" r="1.5" fill="#6646A6"/>
<circle cx="441.75" cy="141.88" r="1.3" fill="#6646A6"/>
<circle cx="441.75" cy="145.71" r="1.5" fill="#6646A6"/>
<circle cx="441.75" cy="183.97" r="1.5" fill="#6646A6"/>
<circle cx="441.75" cy="187.8" r="2" fill="#6646A6"/>
<circle cx="441.75" cy="191.62" r="1.4" fill="#EE8052"/>
<circle cx="441.75" cy="195.45" r="1.6" fill="#EE8052"/>
<circle cx="441.75" cy="203.1" r="1.6" fill="#EE8052"/>
<circle cx="441.75" cy="206.93" r="1.4" fill="#6646A6"/>
<circle cx="441.75" cy="210.75" r="1.8" fill="#6646A6"/>
<circle cx="441.75" cy="214.58" r="2.2" fill="#6646A6"/>
<circle cx="441.75" cy="218.4" r="2.2" fill="#6646A6"/>
<circle cx="441.75" cy="222.23" r="2.2" fill="#6646A6"/>
<circle cx="441.75" cy="226.06" r="1.8" fill="#6646A6"/>
<circle cx="441.75" cy="229.88" r="2" fill="#6646A6"/>
<circle cx="441.75" cy="233.71" r="2.5" fill="#6646A6"/>
<circle cx="455.6" cy="11.8" r="2.4" fill="#EE8052"/>
<circle cx="469.45" cy="34.76" r="1.6" fill="#D9302A"/>
<circle cx="469.45" cy="42.41" r="1.5" fill="#D9302A"/>
<circle cx="469.45" cy="46.23" r="1.6" fill="#D9302A"/>
<circle cx="469.45" cy="50.06" r="1.5" fill="#D9302A"/>
<circle cx="469.45" cy="57.71" r="1.4" fill="#D9302A"/>
<circle cx="469.45" cy="61.54" r="1.4" fill="#D9302A"/>
<circle cx="469.45" cy="65.36" r="1.4" fill="#D9302A"/>
<circle cx="469.45" cy="69.19" r="1.6" fill="#D9302A"/>
<circle cx="469.45" cy="76.84" r="1.5" fill="#D9302A"/>
<circle cx="469.45" cy="80.67" r="1.4" fill="#D9302A"/>
<circle cx="469.45" cy="84.49" r="2.6" fill="#6646A6"/>
<circle cx="469.45" cy="95.97" r="1.7" fill="#EED98A"/>
<circle cx="469.45" cy="122.75" r="1.8" fill="#6646A6"/>
<circle cx="469.45" cy="126.58" r="2.2" fill="#6646A6"/>
<circle cx="469.45" cy="130.41" r="1.6" fill="#6646A6"/>
<circle cx="469.45" cy="138.06" r="1.5" fill="#6646A6"/>
<circle cx="469.45" cy="149.54" r="1.4" fill="#6646A6"/>
<circle cx="469.45" cy="153.36" r="1.4" fill="#6646A6"/>
<circle cx="469.45" cy="164.84" r="1.4" fill="#D9302A"/>
<circle cx="469.45" cy="180.14" r="1.5" fill="#D9302A"/>
<circle cx="469.45" cy="183.97" r="2.4" fill="#6646A6"/>
<circle cx="469.45" cy="187.8" r="2.6" fill="#6646A6"/>
<circle cx="469.45" cy="206.93" r="2" fill="#6646A6"/>
<circle cx="469.45" cy="210.75" r="1.8" fill="#6646A6"/>
<circle cx="469.45" cy="214.58" r="2.2" fill="#6646A6"/>
<circle cx="469.45" cy="218.4" r="2.2" fill="#6646A6"/>
<circle cx="469.45" cy="222.23" r="2.2" fill="#6646A6"/>
<circle cx="469.45" cy="226.06" r="1.8" fill="#6646A6"/>
<circle cx="469.45" cy="229.88" r="1.8" fill="#6646A6"/>
<circle cx="469.45" cy="233.71" r="2.5" fill="#6646A6"/>
<circle cx="483.3" cy="11.8" r="1.7" fill="#EE8052"/>
<circle cx="483.3" cy="15.63" r="2.92" fill="#6646A6"/>
<circle cx="483.3" cy="19.45" r="2.6" fill="#6646A6"/>
<circle cx="483.3" cy="23.28" r="2.4" fill="#6646A6"/>
<circle cx="483.3" cy="27.1" r="2.92" fill="#6646A6"/>
<circle cx="483.3" cy="30.93" r="1.3" fill="#EED98A"/>
<circle cx="483.3" cy="34.76" r="1.6" fill="#D9302A"/>
<circle cx="483.3" cy="42.41" r="1.5" fill="#D9302A"/>
<circle cx="483.3" cy="46.23" r="1.5" fill="#D9302A"/>
<circle cx="483.3" cy="57.71" r="1.5" fill="#D9302A"/>
<circle cx="483.3" cy="61.54" r="1.6" fill="#D9302A"/>
<circle cx="483.3" cy="69.19" r="1.5" fill="#D9302A"/>
<circle cx="483.3" cy="84.49" r="3.12" fill="#6646A6"/>
<circle cx="483.3" cy="88.32" r="1.5" fill="#EED98A"/>
<circle cx="483.3" cy="95.97" r="2.1" fill="#EED98A"/>
<circle cx="483.3" cy="122.75" r="2.92" fill="#6646A6"/>
<circle cx="483.3" cy="126.58" r="2.92" fill="#6646A6"/>
<circle cx="483.3" cy="130.41" r="2" fill="#6646A6"/>
<circle cx="483.3" cy="134.23" r="1.6" fill="#6646A6"/>
<circle cx="483.3" cy="141.88" r="1.3" fill="#6646A6"/>
<circle cx="483.3" cy="145.71" r="1.4" fill="#6646A6"/>
<circle cx="483.3" cy="153.36" r="2" fill="#6646A6"/>
<circle cx="483.3" cy="157.19" r="2.4" fill="#EED98A"/>
<circle cx="483.3" cy="180.14" r="1.6" fill="#D9302A"/>
<circle cx="483.3" cy="183.97" r="2.6" fill="#6646A6"/>
<circle cx="483.3" cy="187.8" r="2.92" fill="#6646A6"/>
<circle cx="483.3" cy="206.93" r="2" fill="#6646A6"/>
<circle cx="483.3" cy="210.75" r="2.92" fill="#6646A6"/>
<circle cx="483.3" cy="214.58" r="2.92" fill="#6646A6"/>
<circle cx="483.3" cy="218.4" r="2.92" fill="#6646A6"/>
<circle cx="483.3" cy="222.23" r="2.92" fill="#6646A6"/>
<circle cx="483.3" cy="226.06" r="2.92" fill="#6646A6"/>
<circle cx="483.3" cy="229.88" r="2.92" fill="#6646A6"/>
<circle cx="483.3" cy="233.71" r="2.92" fill="#6646A6"/>
<circle cx="497.15" cy="15.63" r="1.8" fill="#6646A6"/>
<circle cx="497.15" cy="19.45" r="1.7" fill="#6646A6"/>
<circle cx="497.15" cy="23.28" r="1.7" fill="#6646A6"/>
<circle cx="497.15" cy="27.1" r="2.4" fill="#6646A6"/>
<circle cx="497.15" cy="57.71" r="1.4" fill="#D9302A"/>
<circle cx="497.15" cy="76.84" r="1.5" fill="#D9302A"/>
<circle cx="497.15" cy="84.49" r="1.5" fill="#6646A6"/>
<circle cx="497.15" cy="95.97" r="1.9" fill="#EED98A"/>
<circle cx="497.15" cy="126.58" r="1.5" fill="#6646A6"/>
<circle cx="497.15" cy="134.23" r="1.8" fill="#6646A6"/>
<circle cx="497.15" cy="138.06" r="1.5" fill="#6646A6"/>
<circle cx="497.15" cy="145.71" r="1.8" fill="#6646A6"/>
<circle cx="497.15" cy="157.19" r="1.7" fill="#EED98A"/>
<circle cx="497.15" cy="183.97" r="2.2" fill="#6646A6"/>
<circle cx="497.15" cy="187.8" r="2.5" fill="#6646A6"/>
<circle cx="497.15" cy="206.93" r="1.4" fill="#6646A6"/>
<circle cx="497.15" cy="210.75" r="1.4" fill="#6646A6"/>
<circle cx="497.15" cy="214.58" r="1.4" fill="#6646A6"/>
<circle cx="497.15" cy="218.4" r="1.5" fill="#6646A6"/>
<circle cx="497.15" cy="222.23" r="1.5" fill="#6646A6"/>
<circle cx="497.15" cy="229.88" r="1.3" fill="#6646A6"/>
<circle cx="497.15" cy="233.71" r="1.4" fill="#6646A6"/>
<circle cx="511" cy="34.76" r="1.4" fill="#D9302A"/>
<circle cx="511" cy="38.58" r="1.3" fill="#D9302A"/>
<circle cx="511" cy="42.41" r="1.4" fill="#D9302A"/>
<circle cx="511" cy="46.23" r="1.4" fill="#D9302A"/>
<circle cx="511" cy="50.06" r="1.4" fill="#D9302A"/>
<circle cx="511" cy="53.89" r="1.8" fill="#D9302A"/>
<circle cx="511" cy="57.71" r="1.4" fill="#D9302A"/>
<circle cx="511" cy="61.54" r="1.4" fill="#D9302A"/>
<circle cx="511" cy="65.36" r="1.4" fill="#D9302A"/>
<circle cx="511" cy="76.84" r="1.5" fill="#D9302A"/>
<circle cx="511" cy="80.67" r="1.6" fill="#D9302A"/>
<circle cx="511" cy="95.97" r="1.6" fill="#EED98A"/>
<circle cx="524.85" cy="15.63" r="2.4" fill="#6646A6"/>
<circle cx="524.85" cy="19.45" r="2.4" fill="#6646A6"/>
<circle cx="524.85" cy="23.28" r="2.2" fill="#6646A6"/>
<circle cx="524.85" cy="27.1" r="2.4" fill="#6646A6"/>
<circle cx="524.85" cy="34.76" r="2" fill="#D9302A"/>
<circle cx="524.85" cy="38.58" r="1.5" fill="#D9302A"/>
<circle cx="524.85" cy="42.41" r="1.6" fill="#D9302A"/>
<circle cx="524.85" cy="46.23" r="1.6" fill="#D9302A"/>
<circle cx="524.85" cy="50.06" r="1.6" fill="#D9302A"/>
<circle cx="524.85" cy="53.89" r="1.6" fill="#D9302A"/>
<circle cx="524.85" cy="57.71" r="1.5" fill="#D9302A"/>
<circle cx="524.85" cy="61.54" r="1.6" fill="#D9302A"/>
<circle cx="524.85" cy="65.36" r="1.5" fill="#D9302A"/>
<circle cx="524.85" cy="76.84" r="1.5" fill="#D9302A"/>
<circle cx="524.85" cy="84.49" r="1.3" fill="#6646A6"/>
<circle cx="524.85" cy="95.97" r="1.7" fill="#EED98A"/>
<circle cx="524.85" cy="122.75" r="1.2" fill="#6646A6"/>
<circle cx="524.85" cy="126.58" r="1.3" fill="#6646A6"/>
<circle cx="524.85" cy="130.41" r="1.7" fill="#6646A6"/>
<circle cx="524.85" cy="134.23" r="2.2" fill="#6646A6"/>
<circle cx="524.85" cy="138.06" r="1.8" fill="#6646A6"/>
<circle cx="524.85" cy="145.71" r="2.2" fill="#6646A6"/>
<circle cx="524.85" cy="149.54" r="1.6" fill="#6646A6"/>
<circle cx="524.85" cy="153.36" r="1.4" fill="#6646A6"/>
<circle cx="524.85" cy="157.19" r="2" fill="#EED98A"/>
<circle cx="524.85" cy="183.97" r="2.4" fill="#6646A6"/>
<circle cx="524.85" cy="187.8" r="2.6" fill="#6646A6"/>
<circle cx="524.85" cy="191.62" r="1.5" fill="#EE8052"/>
<circle cx="524.85" cy="195.45" r="1.5" fill="#EE8052"/>
<circle cx="524.85" cy="199.27" r="1.5" fill="#EE8052"/>
<circle cx="524.85" cy="206.93" r="1.6" fill="#6646A6"/>
<circle cx="524.85" cy="218.4" r="1.5" fill="#6646A6"/>
<circle cx="524.85" cy="222.23" r="1.5" fill="#6646A6"/>
<circle cx="524.85" cy="229.88" r="1.4" fill="#6646A6"/>
<circle cx="524.85" cy="233.71" r="1.5" fill="#6646A6"/>
<circle cx="538.7" cy="11.8" r="1.8" fill="#EE8052"/>
<circle cx="538.7" cy="53.89" r="3.02" fill="#D9302A"/>
<circle cx="538.7" cy="61.54" r="2.4" fill="#D9302A"/>
<circle cx="538.7" cy="65.36" r="2.3" fill="#D9302A"/>
<circle cx="538.7" cy="73.02" r="2.4" fill="#D9302A"/>
<circle cx="538.7" cy="76.84" r="2.6" fill="#D9302A"/>
<circle cx="538.7" cy="80.67" r="3.02" fill="#D9302A"/>
<circle cx="538.7" cy="88.32" r="1.7" fill="#EED98A"/>
<circle cx="538.7" cy="122.75" r="1.6" fill="#6646A6"/>
<circle cx="538.7" cy="168.67" r="1.6" fill="#D9302A"/>
<circle cx="552.55" cy="15.63" r="1.6" fill="#6646A6"/>
<circle cx="552.55" cy="19.45" r="1.7" fill="#6646A6"/>
<circle cx="552.55" cy="23.28" r="1.5" fill="#6646A6"/>
<circle cx="552.55" cy="27.1" r="1.4" fill="#6646A6"/>
<circle cx="552.55" cy="34.76" r="1.5" fill="#D9302A"/>
<circle cx="552.55" cy="42.41" r="1.4" fill="#D9302A"/>
<circle cx="552.55" cy="46.23" r="1.4" fill="#D9302A"/>
<circle cx="552.55" cy="50.06" r="1.4" fill="#D9302A"/>
<circle cx="552.55" cy="53.89" r="1.4" fill="#D9302A"/>
<circle cx="552.55" cy="57.71" r="1.5" fill="#D9302A"/>
<circle cx="552.55" cy="65.36" r="1.5" fill="#D9302A"/>
<circle cx="552.55" cy="73.02" r="1.4" fill="#D9302A"/>
<circle cx="552.55" cy="76.84" r="1.4" fill="#D9302A"/>
<circle cx="552.55" cy="80.67" r="1.4" fill="#D9302A"/>
<circle cx="552.55" cy="95.97" r="1.6" fill="#EED98A"/>
<circle cx="552.55" cy="103.62" r="1.8" fill="#6646A6"/>
<circle cx="552.55" cy="107.45" r="1.8" fill="#6646A6"/>
<circle cx="552.55" cy="111.28" r="1.8" fill="#6646A6"/>
<circle cx="552.55" cy="115.1" r="1.8" fill="#6646A6"/>
<circle cx="552.55" cy="118.93" r="2" fill="#6646A6"/>
<circle cx="552.55" cy="183.97" r="1.8" fill="#6646A6"/>
<circle cx="552.55" cy="187.8" r="2.4" fill="#6646A6"/>
<circle cx="566.4" cy="34.76" r="1.6" fill="#D9302A"/>
<circle cx="566.4" cy="42.41" r="1.5" fill="#D9302A"/>
<circle cx="566.4" cy="50.06" r="1.3" fill="#D9302A"/>
<circle cx="566.4" cy="53.89" r="1.2" fill="#D9302A"/>
<circle cx="566.4" cy="57.71" r="1.4" fill="#D9302A"/>
<circle cx="566.4" cy="61.54" r="1.3" fill="#D9302A"/>
<circle cx="566.4" cy="65.36" r="1.3" fill="#D9302A"/>
<circle cx="566.4" cy="69.19" r="1.6" fill="#D9302A"/>
<circle cx="566.4" cy="76.84" r="1.5" fill="#D9302A"/>
<circle cx="566.4" cy="95.97" r="1.6" fill="#EED98A"/>
<circle cx="580.25" cy="11.8" r="1.8" fill="#EE8052"/>
<circle cx="580.25" cy="34.76" r="2.4" fill="#D9302A"/>
<circle cx="580.25" cy="38.58" r="2.2" fill="#D9302A"/>
<circle cx="580.25" cy="42.41" r="2.2" fill="#D9302A"/>
<circle cx="580.25" cy="46.23" r="2" fill="#D9302A"/>
<circle cx="580.25" cy="53.89" r="1.6" fill="#D9302A"/>
<circle cx="580.25" cy="57.71" r="1.6" fill="#D9302A"/>
<circle cx="580.25" cy="69.19" r="1.6" fill="#D9302A"/>
<circle cx="580.25" cy="76.84" r="1.6" fill="#D9302A"/>
<circle cx="580.25" cy="84.49" r="2.4" fill="#6646A6"/>
<circle cx="580.25" cy="95.97" r="1.9" fill="#EED98A"/>
<circle cx="580.25" cy="122.75" r="2.4" fill="#6646A6"/>
<circle cx="580.25" cy="126.58" r="2.5" fill="#6646A6"/>
<circle cx="580.25" cy="134.23" r="1.6" fill="#6646A6"/>
<circle cx="580.25" cy="138.06" r="1.5" fill="#6646A6"/>
<circle cx="580.25" cy="153.36" r="1.5" fill="#6646A6"/>
<circle cx="580.25" cy="157.19" r="2.4" fill="#EED98A"/>
<circle cx="580.25" cy="183.97" r="2.6" fill="#6646A6"/>
<circle cx="580.25" cy="187.8" r="2.92" fill="#6646A6"/>
<circle cx="580.25" cy="191.62" r="1.6" fill="#EE8052"/>
<circle cx="580.25" cy="195.45" r="1.5" fill="#EE8052"/>
<circle cx="580.25" cy="203.1" r="1.6" fill="#EE8052"/>
<circle cx="580.25" cy="206.93" r="2.2" fill="#6646A6"/>
<circle cx="580.25" cy="210.75" r="2.92" fill="#6646A6"/>
<circle cx="580.25" cy="214.58" r="2.92" fill="#6646A6"/>
<circle cx="580.25" cy="218.4" r="2.92" fill="#6646A6"/>
<circle cx="580.25" cy="222.23" r="2.92" fill="#6646A6"/>
<circle cx="580.25" cy="226.06" r="2.92" fill="#6646A6"/>
<circle cx="580.25" cy="229.88" r="2.92" fill="#6646A6"/>
<circle cx="580.25" cy="233.71" r="2.92" fill="#6646A6"/>
<circle cx="594.1" cy="84.49" r="3.52" fill="#6646A6"/>
<circle cx="594.1" cy="122.75" r="1.8" fill="#6646A6"/>
<circle cx="594.1" cy="126.58" r="2" fill="#6646A6"/>
<circle cx="594.1" cy="130.41" r="2.92" fill="#6646A6"/>
<circle cx="594.1" cy="157.19" r="2.5" fill="#EED98A"/>
<circle cx="594.1" cy="233.71" r="2.6" fill="#6646A6"/>
<circle cx="607.95" cy="11.8" r="1.5" fill="#EE8052"/>
<circle cx="607.95" cy="30.93" r="1.7" fill="#EED98A"/>
<circle cx="607.95" cy="34.76" r="1.6" fill="#D9302A"/>
<circle cx="607.95" cy="42.41" r="1.7" fill="#D9302A"/>
<circle cx="607.95" cy="46.23" r="1.7" fill="#D9302A"/>
<circle cx="607.95" cy="57.71" r="1.6" fill="#D9302A"/>
<circle cx="607.95" cy="73.02" r="1.5" fill="#D9302A"/>
<circle cx="607.95" cy="76.84" r="1.5" fill="#D9302A"/>
<circle cx="607.95" cy="80.67" r="1.7" fill="#D9302A"/>
<circle cx="607.95" cy="84.49" r="1.9" fill="#6646A6"/>
<circle cx="607.95" cy="88.32" r="1.6" fill="#EED98A"/>
<circle cx="607.95" cy="99.8" r="1.5" fill="#EED98A"/>
<circle cx="607.95" cy="103.62" r="2.2" fill="#6646A6"/>
<circle cx="607.95" cy="107.45" r="2" fill="#6646A6"/>
<circle cx="607.95" cy="111.28" r="1.8" fill="#6646A6"/>
<circle cx="607.95" cy="115.1" r="2" fill="#6646A6"/>
<circle cx="607.95" cy="118.93" r="2.2" fill="#6646A6"/>
<circle cx="607.95" cy="122.75" r="2.2" fill="#6646A6"/>
<circle cx="607.95" cy="126.58" r="2.2" fill="#6646A6"/>
<circle cx="607.95" cy="134.23" r="1.5" fill="#6646A6"/>
<circle cx="607.95" cy="145.71" r="1.5" fill="#6646A6"/>
<circle cx="607.95" cy="153.36" r="1.5" fill="#6646A6"/>
<circle cx="607.95" cy="157.19" r="2.2" fill="#EED98A"/>
<circle cx="607.95" cy="161.01" r="1.4" fill="#D9302A"/>
<circle cx="607.95" cy="168.67" r="1.4" fill="#D9302A"/>
<circle cx="607.95" cy="172.49" r="1.6" fill="#D9302A"/>
<circle cx="607.95" cy="176.32" r="1.4" fill="#D9302A"/>
<circle cx="607.95" cy="180.14" r="1.5" fill="#D9302A"/>
<circle cx="607.95" cy="183.97" r="3.12" fill="#6646A6"/>
<circle cx="607.95" cy="187.8" r="3.12" fill="#6646A6"/>
<circle cx="607.95" cy="195.45" r="1.5" fill="#EE8052"/>
<circle cx="607.95" cy="203.1" r="1.5" fill="#EE8052"/>
<circle cx="607.95" cy="206.93" r="1.8" fill="#6646A6"/>
<circle cx="607.95" cy="210.75" r="2" fill="#6646A6"/>
<circle cx="607.95" cy="214.58" r="2.4" fill="#6646A6"/>
<circle cx="607.95" cy="218.4" r="2.4" fill="#6646A6"/>
<circle cx="607.95" cy="222.23" r="2.4" fill="#6646A6"/>
<circle cx="607.95" cy="226.06" r="2.2" fill="#6646A6"/>
<circle cx="607.95" cy="229.88" r="2.2" fill="#6646A6"/>
<circle cx="607.95" cy="233.71" r="2.4" fill="#6646A6"/>
<circle cx="621.8" cy="23.28" r="1.4" fill="#6646A6"/>
<circle cx="621.8" cy="34.76" r="1.6" fill="#D9302A"/>
<circle cx="621.8" cy="38.58" r="1.7" fill="#D9302A"/>
<circle cx="621.8" cy="46.23" r="1.5" fill="#D9302A"/>
<circle cx="621.8" cy="57.71" r="1.4" fill="#D9302A"/>
<circle cx="621.8" cy="69.19" r="1.5" fill="#D9302A"/>
<circle cx="621.8" cy="76.84" r="1.4" fill="#D9302A"/>
<circle cx="621.8" cy="80.67" r="1.5" fill="#D9302A"/>
<circle cx="621.8" cy="84.49" r="1.6" fill="#6646A6"/>
<circle cx="621.8" cy="95.97" r="1.6" fill="#EED98A"/>
<circle cx="621.8" cy="103.62" r="1.8" fill="#6646A6"/>
<circle cx="621.8" cy="107.45" r="1.6" fill="#6646A6"/>
<circle cx="621.8" cy="111.28" r="1.5" fill="#6646A6"/>
<circle cx="621.8" cy="115.1" r="1.5" fill="#6646A6"/>
<circle cx="621.8" cy="118.93" r="1.6" fill="#6646A6"/>
<circle cx="621.8" cy="122.75" r="1.3" fill="#6646A6"/>
<circle cx="621.8" cy="126.58" r="1.5" fill="#6646A6"/>
<circle cx="621.8" cy="183.97" r="2" fill="#6646A6"/>
<circle cx="621.8" cy="187.8" r="2.2" fill="#6646A6"/>
<circle cx="621.8" cy="191.62" r="1.5" fill="#EE8052"/>
<circle cx="621.8" cy="214.58" r="1.4" fill="#6646A6"/>
<circle cx="621.8" cy="218.4" r="1.6" fill="#6646A6"/>
<circle cx="621.8" cy="233.71" r="1.8" fill="#6646A6"/>
<text x="363" y="13.25" font-size="4.6" text-anchor="end" fill="#333" stroke="#333" stroke-width="0.18">cdiA</text>
<text x="363" y="17.08" font-size="4.6" text-anchor="end" fill="#333" stroke="#333" stroke-width="0.18">chuA</text>
<text x="363" y="20.9" font-size="4.6" text-anchor="end" fill="#333" stroke="#333" stroke-width="0.18">chuS</text>
<text x="363" y="24.73" font-size="4.6" text-anchor="end" fill="#333" stroke="#333" stroke-width="0.18">chuT</text>
<text x="363" y="28.55" font-size="4.6" text-anchor="end" fill="#333" stroke="#333" stroke-width="0.18">chuY</text>
<text x="363" y="32.38" font-size="4.6" text-anchor="end" fill="#333" stroke="#333" stroke-width="0.18">csrT</text>
<text x="363" y="36.21" font-size="4.6" text-anchor="end" fill="#333" stroke="#333" stroke-width="0.18">ecpA</text>
<text x="363" y="40.03" font-size="4.6" text-anchor="end" fill="#333" stroke="#333" stroke-width="0.18">ecpB</text>
<text x="363" y="43.86" font-size="4.6" text-anchor="end" fill="#333" stroke="#333" stroke-width="0.18">ecpC</text>
<text x="363" y="47.68" font-size="4.6" text-anchor="end" fill="#333" stroke="#333" stroke-width="0.18">ecpD</text>
<text x="363" y="51.51" font-size="4.6" text-anchor="end" fill="#333" stroke="#333" stroke-width="0.18">ecpE</text>
<text x="363" y="55.34" font-size="4.6" text-anchor="end" fill="#333" stroke="#333" stroke-width="0.18">fimA</text>
<text x="363" y="59.16" font-size="4.6" text-anchor="end" fill="#333" stroke="#333" stroke-width="0.18">fimB</text>
<text x="363" y="62.99" font-size="4.6" text-anchor="end" fill="#333" stroke="#333" stroke-width="0.18">fimC</text>
<text x="363" y="66.81" font-size="4.6" text-anchor="end" fill="#333" stroke="#333" stroke-width="0.18">fimD</text>
<text x="363" y="70.64" font-size="4.6" text-anchor="end" fill="#333" stroke="#333" stroke-width="0.18">fimE</text>
<text x="363" y="74.47" font-size="4.6" text-anchor="end" fill="#333" stroke="#333" stroke-width="0.18">fimF</text>
<text x="363" y="78.29" font-size="4.6" text-anchor="end" fill="#333" stroke="#333" stroke-width="0.18">fimG</text>
<text x="363" y="82.12" font-size="4.6" text-anchor="end" fill="#333" stroke="#333" stroke-width="0.18">fimH</text>
<text x="363" y="85.94" font-size="4.6" text-anchor="end" fill="#333" stroke="#333" stroke-width="0.18">fimI</text>
<text x="363" y="89.77" font-size="4.6" text-anchor="end" fill="#333" stroke="#333" stroke-width="0.18">fyuA</text>
<text x="363" y="93.6" font-size="4.6" text-anchor="end" fill="#333" stroke="#333" stroke-width="0.18">hlyA</text>
<text x="363" y="97.42" font-size="4.6" text-anchor="end" fill="#333" stroke="#333" stroke-width="0.18">hlyB</text>
<text x="363" y="101.25" font-size="4.6" text-anchor="end" fill="#333" stroke="#333" stroke-width="0.18">hlyC</text>
<text x="363" y="105.07" font-size="4.6" text-anchor="end" fill="#333" stroke="#333" stroke-width="0.18">hlyD</text>
<text x="363" y="108.9" font-size="4.6" text-anchor="end" fill="#333" stroke="#333" stroke-width="0.18">iroB</text>
<text x="363" y="112.73" font-size="4.6" text-anchor="end" fill="#333" stroke="#333" stroke-width="0.18">iroC</text>
<text x="363" y="116.55" font-size="4.6" text-anchor="end" fill="#333" stroke="#333" stroke-width="0.18">iroD</text>
<text x="363" y="120.38" font-size="4.6" text-anchor="end" fill="#333" stroke="#333" stroke-width="0.18">iroE</text>
<text x="363" y="124.2" font-size="4.6" text-anchor="end" fill="#333" stroke="#333" stroke-width="0.18">iroN</text>
<text x="363" y="128.03" font-size="4.6" text-anchor="end" fill="#333" stroke="#333" stroke-width="0.18">irp1</text>
<text x="363" y="131.86" font-size="4.6" text-anchor="end" fill="#333" stroke="#333" stroke-width="0.18">irp2</text>
<text x="363" y="135.68" font-size="4.6" text-anchor="end" fill="#333" stroke="#333" stroke-width="0.18">papA</text>
<text x="363" y="139.51" font-size="4.6" text-anchor="end" fill="#333" stroke="#333" stroke-width="0.18">papC</text>
<text x="363" y="143.33" font-size="4.6" text-anchor="end" fill="#333" stroke="#333" stroke-width="0.18">papG</text>
<text x="363" y="147.16" font-size="4.6" text-anchor="end" fill="#333" stroke="#333" stroke-width="0.18">papG-II</text>
<text x="363" y="150.99" font-size="4.6" text-anchor="end" fill="#333" stroke="#333" stroke-width="0.18">papH</text>
<text x="363" y="154.81" font-size="4.6" text-anchor="end" fill="#333" stroke="#333" stroke-width="0.18">papX</text>
<text x="363" y="158.64" font-size="4.6" text-anchor="end" fill="#333" stroke="#333" stroke-width="0.18">pic</text>
<text x="363" y="162.46" font-size="4.6" text-anchor="end" fill="#333" stroke="#333" stroke-width="0.18">sat</text>
<text x="363" y="166.29" font-size="4.6" text-anchor="end" fill="#333" stroke="#333" stroke-width="0.18">senB</text>
<text x="363" y="170.12" font-size="4.6" text-anchor="end" fill="#333" stroke="#333" stroke-width="0.18">sfaA</text>
<text x="363" y="173.94" font-size="4.6" text-anchor="end" fill="#333" stroke="#333" stroke-width="0.18">sfaC</text>
<text x="363" y="177.77" font-size="4.6" text-anchor="end" fill="#333" stroke="#333" stroke-width="0.18">sfaH</text>
<text x="363" y="181.59" font-size="4.6" text-anchor="end" fill="#333" stroke="#333" stroke-width="0.18">sfaX</text>
<text x="363" y="185.42" font-size="4.6" text-anchor="end" fill="#333" stroke="#333" stroke-width="0.18">sitA</text>
<text x="363" y="189.25" font-size="4.6" text-anchor="end" fill="#333" stroke="#333" stroke-width="0.18">sitB</text>
<text x="363" y="193.07" font-size="4.6" text-anchor="end" fill="#333" stroke="#333" stroke-width="0.18">tssC</text>
<text x="363" y="196.9" font-size="4.6" text-anchor="end" fill="#333" stroke="#333" stroke-width="0.18">tssK</text>
<text x="363" y="200.72" font-size="4.6" text-anchor="end" fill="#333" stroke="#333" stroke-width="0.18">UT89_RS07345</text>
<text x="363" y="204.55" font-size="4.6" text-anchor="end" fill="#333" stroke="#333" stroke-width="0.18">UT89_RS15935</text>
<text x="363" y="208.38" font-size="4.6" text-anchor="end" fill="#333" stroke="#333" stroke-width="0.18">ybtA</text>
<text x="363" y="212.2" font-size="4.6" text-anchor="end" fill="#333" stroke="#333" stroke-width="0.18">ybtE</text>
<text x="363" y="216.03" font-size="4.6" text-anchor="end" fill="#333" stroke="#333" stroke-width="0.18">ybtP</text>
<text x="363" y="219.85" font-size="4.6" text-anchor="end" fill="#333" stroke="#333" stroke-width="0.18">ybtQ</text>
<text x="363" y="223.68" font-size="4.6" text-anchor="end" fill="#333" stroke="#333" stroke-width="0.18">ybtS</text>
<text x="363" y="227.51" font-size="4.6" text-anchor="end" fill="#333" stroke="#333" stroke-width="0.18">ybtT</text>
<text x="363" y="231.33" font-size="4.6" text-anchor="end" fill="#333" stroke="#333" stroke-width="0.18">ybtU</text>
<text x="363" y="235.16" font-size="4.6" text-anchor="end" fill="#333" stroke="#333" stroke-width="0.18">ybtX</text>
<text x="0" y="0" font-size="4.1" text-anchor="end" fill="#444" transform="translate(373.9,240.6) rotate(-45)" stroke="#444" stroke-width="0.1">A01</text>
<text x="0" y="0" font-size="4.1" text-anchor="end" fill="#444" transform="translate(387.75,240.6) rotate(-45)" stroke="#444" stroke-width="0.1">A02</text>
<text x="0" y="0" font-size="4.1" text-anchor="end" fill="#444" transform="translate(401.6,240.6) rotate(-45)" stroke="#444" stroke-width="0.1">B01</text>
<text x="0" y="0" font-size="4.1" text-anchor="end" fill="#444" transform="translate(415.45,240.6) rotate(-45)" stroke="#444" stroke-width="0.1">B02</text>
<text x="0" y="0" font-size="4.1" text-anchor="end" fill="#444" transform="translate(429.3,240.6) rotate(-45)" stroke="#444" stroke-width="0.1">C01</text>
<text x="0" y="0" font-size="4.1" text-anchor="end" fill="#444" transform="translate(443.15,240.6) rotate(-45)" stroke="#444" stroke-width="0.1">C02</text>
<text x="0" y="0" font-size="4.1" text-anchor="end" fill="#444" transform="translate(457,240.6) rotate(-45)" stroke="#444" stroke-width="0.1">D01</text>
<text x="0" y="0" font-size="4.1" text-anchor="end" fill="#444" transform="translate(470.85,240.6) rotate(-45)" stroke="#444" stroke-width="0.1">D02</text>
<text x="0" y="0" font-size="4.1" text-anchor="end" fill="#444" transform="translate(484.7,240.6) rotate(-45)" stroke="#444" stroke-width="0.1">E01</text>
<text x="0" y="0" font-size="4.1" text-anchor="end" fill="#444" transform="translate(498.55,240.6) rotate(-45)" stroke="#444" stroke-width="0.1">E02</text>
<text x="0" y="0" font-size="4.1" text-anchor="end" fill="#444" transform="translate(512.4,240.6) rotate(-45)" stroke="#444" stroke-width="0.1">F01</text>
<text x="0" y="0" font-size="4.1" text-anchor="end" fill="#444" transform="translate(526.25,240.6) rotate(-45)" stroke="#444" stroke-width="0.1">F02</text>
<text x="0" y="0" font-size="4.1" text-anchor="end" fill="#444" transform="translate(540.1,240.6) rotate(-45)" stroke="#444" stroke-width="0.1">G01</text>
<text x="0" y="0" font-size="4.1" text-anchor="end" fill="#444" transform="translate(553.95,240.6) rotate(-45)" stroke="#444" stroke-width="0.1">H01</text>
<text x="0" y="0" font-size="4.1" text-anchor="end" fill="#444" transform="translate(567.8,240.6) rotate(-45)" stroke="#444" stroke-width="0.1">H2S361</text>
<text x="0" y="0" font-size="4.1" text-anchor="end" fill="#444" transform="translate(581.65,240.6) rotate(-45)" stroke="#444" stroke-width="0.1">H2S362</text>
<text x="0" y="0" font-size="4.1" text-anchor="end" fill="#444" transform="translate(595.5,240.6) rotate(-45)" stroke="#444" stroke-width="0.1">H2S363</text>
<text x="0" y="0" font-size="4.1" text-anchor="end" fill="#444" transform="translate(609.35,240.6) rotate(-45)" stroke="#444" stroke-width="0.1">H2S364</text>
<text x="0" y="0" font-size="4.1" text-anchor="end" fill="#444" transform="translate(623.2,240.6) rotate(-45)" stroke="#444" stroke-width="0.1">H2S365</text>
<text x="497.5" y="255.3" font-size="5" text-anchor="middle" fill="#222" stroke="#222" stroke-width="0.18">Sample</text>
<text x="635.8" y="90.5" font-size="4" text-anchor="start" fill="#222" stroke="#222" stroke-width="0.22">Expression (FPKM)</text>
<circle cx="640.4" cy="96.3" r="2.5" fill="#000"/>
<text x="646.6" y="97.5" font-size="3.5" text-anchor="start" fill="#333" stroke="#333" stroke-width="0.22">1000</text>
<circle cx="640.4" cy="103.8" r="3" fill="#000"/>
<text x="646.6" y="105" font-size="3.5" text-anchor="start" fill="#333" stroke="#333" stroke-width="0.22">2000</text>
<circle cx="640.4" cy="113.2" r="3.5" fill="#000"/>
<text x="646.6" y="114.4" font-size="3.5" text-anchor="start" fill="#333" stroke="#333" stroke-width="0.22">3000</text>
<text x="635.8" y="128.2" font-size="3.95" text-anchor="start" fill="#222" stroke="#222" stroke-width="0.22">Virulence Factor Category</text>
<circle cx="640.4" cy="134.4" r="2.8" fill="#D9302A"/>
<text x="644.3" y="135.6" font-size="3.35" text-anchor="start" fill="#333" stroke="#333" stroke-width="0.22">Adherence</text>
<circle cx="640.4" cy="141.2" r="2.8" fill="#EE8052"/>
<text x="644.3" y="142.4" font-size="3.35" text-anchor="start" fill="#333" stroke="#333" stroke-width="0.22">Effector delivery system</text>
<circle cx="640.4" cy="147.7" r="2.8" fill="#EED98A"/>
<text x="644.3" y="148.9" font-size="3.35" text-anchor="start" fill="#333" stroke="#333" stroke-width="0.22">Exotoxin</text>
<circle cx="640.4" cy="155" r="2.8" fill="#6646A6"/>
<text x="644.3" y="156.2" font-size="3.35" text-anchor="start" fill="#333" stroke="#333" stroke-width="0.22">Nutritional/Metabolic factor</text>
<text x="18" y="254" font-size="19.2" text-anchor="start" fill="#000">C</text>
<line x1="24.3" y1="437.5" x2="291" y2="437.5" stroke="#ececec" stroke-width="0.5"/>
<line x1="24.3" y1="415.7" x2="291" y2="415.7" stroke="#f5f5f5" stroke-width="0.5"/>
<line x1="24.3" y1="393.9" x2="291" y2="393.9" stroke="#ececec" stroke-width="0.5"/>
<line x1="24.3" y1="372.1" x2="291" y2="372.1" stroke="#f5f5f5" stroke-width="0.5"/>
<line x1="24.3" y1="350.3" x2="291" y2="350.3" stroke="#ececec" stroke-width="0.5"/>
<line x1="24.3" y1="328.5" x2="291" y2="328.5" stroke="#f5f5f5" stroke-width="0.5"/>
<line x1="24.3" y1="306.7" x2="291" y2="306.7" stroke="#ececec" stroke-width="0.5"/>
<line x1="24.3" y1="284.9" x2="291" y2="284.9" stroke="#f5f5f5" stroke-width="0.5"/>
<line x1="24.3" y1="263.1" x2="291" y2="263.1" stroke="#ececec" stroke-width="0.5"/>
<line x1="32.8" y1="247" x2="32.8" y2="446.7" stroke="#ececec" stroke-width="0.5"/>
<line x1="46.67" y1="247" x2="46.67" y2="446.7" stroke="#ececec" stroke-width="0.5"/>
<line x1="60.54" y1="247" x2="60.54" y2="446.7" stroke="#ececec" stroke-width="0.5"/>
<line x1="74.41" y1="247" x2="74.41" y2="446.7" stroke="#ececec" stroke-width="0.5"/>
<line x1="88.28" y1="247" x2="88.28" y2="446.7" stroke="#ececec" stroke-width="0.5"/>
<line x1="102.15" y1="247" x2="102.15" y2="446.7" stroke="#ececec" stroke-width="0.5"/>
<line x1="116.02" y1="247" x2="116.02" y2="446.7" stroke="#ececec" stroke-width="0.5"/>
<line x1="129.89" y1="247" x2="129.89" y2="446.7" stroke="#ececec" stroke-width="0.5"/>
<line x1="143.76" y1="247" x2="143.76" y2="446.7" stroke="#ececec" stroke-width="0.5"/>
<line x1="157.63" y1="247" x2="157.63" y2="446.7" stroke="#ececec" stroke-width="0.5"/>
<line x1="171.5" y1="247" x2="171.5" y2="446.7" stroke="#ececec" stroke-width="0.5"/>
<line x1="185.37" y1="247" x2="185.37" y2="446.7" stroke="#ececec" stroke-width="0.5"/>
<line x1="199.24" y1="247" x2="199.24" y2="446.7" stroke="#ececec" stroke-width="0.5"/>
<line x1="213.11" y1="247" x2="213.11" y2="446.7" stroke="#ececec" stroke-width="0.5"/>
<line x1="226.98" y1="247" x2="226.98" y2="446.7" stroke="#ececec" stroke-width="0.5"/>
<line x1="240.85" y1="247" x2="240.85" y2="446.7" stroke="#ececec" stroke-width="0.5"/>
<line x1="254.72" y1="247" x2="254.72" y2="446.7" stroke="#ececec" stroke-width="0.5"/>
<line x1="268.59" y1="247" x2="268.59" y2="446.7" stroke="#ececec" stroke-width="0.5"/>
<line x1="282.46" y1="247" x2="282.46" y2="446.7" stroke="#ececec" stroke-width="0.5"/>
<rect x="26.5" y="364.69" width="6.3" height="72.81" fill="#4B0C8E"/>
<rect x="32.8" y="356.84" width="6.3" height="80.66" fill="#9371E3"/>
<rect x="40.37" y="284.9" width="6.3" height="152.6" fill="#4B0C8E"/>
<rect x="46.67" y="256.12" width="6.3" height="181.38" fill="#9371E3"/>
<rect x="54.24" y="300.6" width="6.3" height="136.9" fill="#4B0C8E"/>
<rect x="60.54" y="276.18" width="6.3" height="161.32" fill="#9371E3"/>
<rect x="68.11" y="414.39" width="6.3" height="23.11" fill="#4B0C8E"/>
<rect x="74.41" y="413.96" width="6.3" height="23.54" fill="#9371E3"/>
<rect x="81.98" y="329.37" width="6.3" height="108.13" fill="#4B0C8E"/>
<rect x="88.28" y="314.55" width="6.3" height="122.95" fill="#9371E3"/>
<rect x="95.85" y="301.03" width="6.3" height="136.47" fill="#4B0C8E"/>
<rect x="102.15" y="276.62" width="6.3" height="160.88" fill="#9371E3"/>
<rect x="109.72" y="412.65" width="6.3" height="24.85" fill="#4B0C8E"/>
<rect x="116.02" y="411.34" width="6.3" height="26.16" fill="#9371E3"/>
<rect x="123.59" y="347.68" width="6.3" height="89.82" fill="#4B0C8E"/>
<rect x="129.89" y="335.04" width="6.3" height="102.46" fill="#9371E3"/>
<rect x="137.46" y="330.24" width="6.3" height="107.26" fill="#4B0C8E"/>
<rect x="143.76" y="315.42" width="6.3" height="122.08" fill="#9371E3"/>
<rect x="151.33" y="305.83" width="6.3" height="131.67" fill="#4B0C8E"/>
<rect x="157.63" y="283.16" width="6.3" height="154.34" fill="#9371E3"/>
<rect x="165.2" y="311.06" width="6.3" height="126.44" fill="#4B0C8E"/>
<rect x="171.5" y="289.7" width="6.3" height="147.8" fill="#9371E3"/>
<rect x="179.07" y="345.07" width="6.3" height="92.43" fill="#4B0C8E"/>
<rect x="185.37" y="331.12" width="6.3" height="106.38" fill="#9371E3"/>
<rect x="192.94" y="355.97" width="6.3" height="81.53" fill="#4B0C8E"/>
<rect x="199.24" y="347.25" width="6.3" height="90.25" fill="#9371E3"/>
<rect x="206.81" y="305.83" width="6.3" height="131.67" fill="#4B0C8E"/>
<rect x="213.11" y="283.16" width="6.3" height="154.34" fill="#9371E3"/>
<rect x="220.68" y="312.8" width="6.3" height="124.7" fill="#4B0C8E"/>
<rect x="226.98" y="291.44" width="6.3" height="146.06" fill="#9371E3"/>
<rect x="234.55" y="294.93" width="6.3" height="142.57" fill="#4B0C8E"/>
<rect x="240.85" y="270.08" width="6.3" height="167.42" fill="#9371E3"/>
<rect x="248.42" y="370.36" width="6.3" height="67.14" fill="#4B0C8E"/>
<rect x="254.72" y="365.12" width="6.3" height="72.38" fill="#9371E3"/>
<rect x="262.29" y="301.03" width="6.3" height="136.47" fill="#4B0C8E"/>
<rect x="268.59" y="277.92" width="6.3" height="159.58" fill="#9371E3"/>
<rect x="276.16" y="307.14" width="6.3" height="130.36" fill="#4B0C8E"/>
<rect x="282.46" y="286.21" width="6.3" height="151.29" fill="#9371E3"/>
<text x="22.3" y="439.5" font-size="5.4" text-anchor="end" fill="#444" stroke="#444" stroke-width="0.18">0</text>
<text x="22.3" y="395.9" font-size="5.4" text-anchor="end" fill="#444" stroke="#444" stroke-width="0.18">500</text>
<text x="22.3" y="352.3" font-size="5.4" text-anchor="end" fill="#444" stroke="#444" stroke-width="0.18">1000</text>
<text x="22.3" y="308.7" font-size="5.4" text-anchor="end" fill="#444" stroke="#444" stroke-width="0.18">1500</text>
<text x="22.3" y="265.1" font-size="5.4" text-anchor="end" fill="#444" stroke="#444" stroke-width="0.18">2000</text>
<text x="0" y="0" font-size="6.2" text-anchor="middle" font-weight="bold" fill="#111" transform="translate(7.6,346.7) rotate(-90)" stroke="#111" stroke-width="0.18">Count</text>
<text x="0" y="0" font-size="6.1" text-anchor="end" fill="#444" transform="translate(34.9,449.8) rotate(-90)" stroke="#444" stroke-width="0.18">A01</text>
<text x="0" y="0" font-size="6.1" text-anchor="end" fill="#444" transform="translate(48.77,449.8) rotate(-90)" stroke="#444" stroke-width="0.18">A02</text>
<text x="0" y="0" font-size="6.1" text-anchor="end" fill="#444" transform="translate(62.64,449.8) rotate(-90)" stroke="#444" stroke-width="0.18">B01</text>
<text x="0" y="0" font-size="6.1" text-anchor="end" fill="#444" transform="translate(76.51,449.8) rotate(-90)" stroke="#444" stroke-width="0.18">B02</text>
<text x="0" y="0" font-size="6.1" text-anchor="end" fill="#444" transform="translate(90.38,449.8) rotate(-90)" stroke="#444" stroke-width="0.18">C01</text>
<text x="0" y="0" font-size="6.1" text-anchor="end" fill="#444" transform="translate(104.25,449.8) rotate(-90)" stroke="#444" stroke-width="0.18">C02</text>
<text x="0" y="0" font-size="6.1" text-anchor="end" fill="#444" transform="translate(118.12,449.8) rotate(-90)" stroke="#444" stroke-width="0.18">D01</text>
<text x="0" y="0" font-size="6.1" text-anchor="end" fill="#444" transform="translate(131.99,449.8) rotate(-90)" stroke="#444" stroke-width="0.18">D02</text>
<text x="0" y="0" font-size="6.1" text-anchor="end" fill="#444" transform="translate(145.86,449.8) rotate(-90)" stroke="#444" stroke-width="0.18">E01</text>
<text x="0" y="0" font-size="6.1" text-anchor="end" fill="#444" transform="translate(159.73,449.8) rotate(-90)" stroke="#444" stroke-width="0.18">E02</text>
<text x="0" y="0" font-size="6.1" text-anchor="end" fill="#444" transform="translate(173.6,449.8) rotate(-90)" stroke="#444" stroke-width="0.18">F01</text>
<text x="0" y="0" font-size="6.1" text-anchor="end" fill="#444" transform="translate(187.47,449.8) rotate(-90)" stroke="#444" stroke-width="0.18">F02</text>
<text x="0" y="0" font-size="6.1" text-anchor="end" fill="#444" transform="translate(201.34,449.8) rotate(-90)" stroke="#444" stroke-width="0.18">G01</text>
<text x="0" y="0" font-size="6.1" text-anchor="end" fill="#444" transform="translate(215.21,449.8) rotate(-90)" stroke="#444" stroke-width="0.18">H01</text>
<text x="0" y="0" font-size="6.1" text-anchor="end" fill="#444" transform="translate(229.08,449.8) rotate(-90)" stroke="#444" stroke-width="0.18">H2S361</text>
<text x="0" y="0" font-size="6.1" text-anchor="end" fill="#444" transform="translate(242.95,449.8) rotate(-90)" stroke="#444" stroke-width="0.18">H2S362</text>
<text x="0" y="0" font-size="6.1" text-anchor="end" fill="#444" transform="translate(256.82,449.8) rotate(-90)" stroke="#444" stroke-width="0.18">H2S363</text>
<text x="0" y="0" font-size="6.1" text-anchor="end" fill="#444" transform="translate(270.69,449.8) rotate(-90)" stroke="#444" stroke-width="0.18">H2S364</text>
<text x="0" y="0" font-size="6.1" text-anchor="end" fill="#444" transform="translate(284.56,449.8) rotate(-90)" stroke="#444" stroke-width="0.18">H2S365</text>
<text x="157.5" y="478.6" font-size="5.6" text-anchor="middle" font-weight="bold" fill="#111" stroke="#111" stroke-width="0.18">Model ID</text>
<text x="298.4" y="337.9" font-size="5.3" text-anchor="start" fill="#111" stroke="#111" stroke-width="0.18">Type</text>
<rect x="298.8" y="342.1" width="7" height="7.9" fill="#4B0C8E"/>
<rect x="298.8" y="351.8" width="7" height="7.9" fill="#9371E3"/>
<text x="309" y="347.8" font-size="4.2" text-anchor="start" fill="#111" stroke="#111" stroke-width="0.22">Metabolites</text>
<text x="309" y="357.8" font-size="4.2" text-anchor="start" fill="#111" stroke="#111" stroke-width="0.22">Reactions</text>
<text x="347.4" y="255.8" font-size="19.2" text-anchor="start" fill="#000">D</text>
<rect x="364.3" y="286.5" width="11.1" height="11.78" fill="#4A1696"/>
<rect x="374.9" y="286.5" width="11.1" height="11.78" fill="#4A1696"/>
<rect x="385.5" y="286.5" width="11.1" height="11.78" fill="#4A1696"/>
<rect x="396.1" y="286.5" width="11.1" height="11.78" fill="#4A1696"/>
<rect x="406.7" y="286.5" width="11.1" height="11.78" fill="#56249D"/>
<rect x="417.3" y="286.5" width="11.1" height="11.78" fill="#4A1696"/>
<rect x="427.9" y="286.5" width="11.1" height="11.78" fill="#4A1696"/>
<rect x="438.5" y="286.5" width="11.1" height="11.78" fill="#4A1696"/>
<rect x="449.1" y="286.5" width="11.1" height="11.78" fill="#4A1696"/>
<rect x="459.7" y="286.5" width="11.1" height="11.78" fill="#7046AE"/>
<rect x="470.3" y="286.5" width="11.1" height="11.78" fill="#56249D"/>
<rect x="480.9" y="286.5" width="11.1" height="11.78" fill="#56249D"/>
<rect x="491.5" y="286.5" width="11.1" height="11.78" fill="#6434A5"/>
<rect x="502.1" y="286.5" width="11.1" height="11.78" fill="#501D9A"/>
<rect x="512.7" y="286.5" width="11.1" height="11.78" fill="#5D2CA1"/>
<rect x="523.3" y="286.5" width="11.1" height="11.78" fill="#6434A5"/>
<rect x="533.9" y="286.5" width="11.1" height="11.78" fill="#7046AE"/>
<rect x="544.5" y="286.5" width="11.1" height="11.78" fill="#7A56B8"/>
<rect x="555.1" y="286.5" width="10.6" height="11.78" fill="#7A56B8"/>
<rect x="364.3" y="297.78" width="11.1" height="11.78" fill="#7046AE"/>
<rect x="374.9" y="297.78" width="11.1" height="11.78" fill="#7046AE"/>
<rect x="385.5" y="297.78" width="11.1" height="11.78" fill="#6434A5"/>
<rect x="396.1" y="297.78" width="11.1" height="11.78" fill="#4A1696"/>
<rect x="406.7" y="297.78" width="11.1" height="11.78" fill="#7046AE"/>
<rect x="417.3" y="297.78" width="11.1" height="11.78" fill="#5D2CA1"/>
<rect x="427.9" y="297.78" width="11.1" height="11.78" fill="#7046AE"/>
<rect x="438.5" y="297.78" width="11.1" height="11.78" fill="#4A1696"/>
<rect x="449.1" y="297.78" width="11.1" height="11.78" fill="#7046AE"/>
<rect x="459.7" y="297.78" width="11.1" height="11.78" fill="#4A1696"/>
<rect x="470.3" y="297.78" width="11.1" height="11.78" fill="#6434A5"/>
<rect x="480.9" y="297.78" width="11.1" height="11.78" fill="#6434A5"/>
<rect x="491.5" y="297.78" width="11.1" height="11.78" fill="#6434A5"/>
<rect x="502.1" y="297.78" width="11.1" height="11.78" fill="#6434A5"/>
<rect x="512.7" y="297.78" width="11.1" height="11.78" fill="#6434A5"/>
<rect x="523.3" y="297.78" width="11.1" height="11.78" fill="#6434A5"/>
<rect x="533.9" y="297.78" width="11.1" height="11.78" fill="#6C40AA"/>
<rect x="544.5" y="297.78" width="11.1" height="11.78" fill="#C4B4E6"/>
<rect x="555.1" y="297.78" width="10.6" height="11.78" fill="#C4B4E6"/>
<rect x="364.3" y="309.06" width="11.1" height="11.78" fill="#4A1696"/>
<rect x="374.9" y="309.06" width="11.1" height="11.78" fill="#4A1696"/>
<rect x="385.5" y="309.06" width="11.1" height="11.78" fill="#4A1696"/>
<rect x="396.1" y="309.06" width="11.1" height="11.78" fill="#4A1696"/>
<rect x="406.7" y="309.06" width="11.1" height="11.78" fill="#4A1696"/>
<rect x="417.3" y="309.06" width="11.1" height="11.78" fill="#4A1696"/>
<rect x="427.9" y="309.06" width="11.1" height="11.78" fill="#4A1696"/>
<rect x="438.5" y="309.06" width="11.1" height="11.78" fill="#4A1696"/>
<rect x="449.1" y="309.06" width="11.1" height="11.78" fill="#4A1696"/>
<rect x="459.7" y="309.06" width="11.1" height="11.78" fill="#4A1696"/>
<rect x="470.3" y="309.06" width="11.1" height="11.78" fill="#4A1696"/>
<rect x="480.9" y="309.06" width="11.1" height="11.78" fill="#4A1696"/>
<rect x="491.5" y="309.06" width="11.1" height="11.78" fill="#4A1696"/>
<rect x="502.1" y="309.06" width="11.1" height="11.78" fill="#4A1696"/>
<rect x="512.7" y="309.06" width="11.1" height="11.78" fill="#4A1696"/>
<rect x="523.3" y="309.06" width="11.1" height="11.78" fill="#4A1696"/>
<rect x="533.9" y="309.06" width="11.1" height="11.78" fill="#4A1696"/>
<rect x="544.5" y="309.06" width="11.1" height="11.78" fill="#FFFFFF"/>
<rect x="555.1" y="309.06" width="10.6" height="11.78" fill="#FFFFFF"/>
<rect x="364.3" y="320.34" width="11.1" height="11.78" fill="#4A1696"/>
<rect x="374.9" y="320.34" width="11.1" height="11.78" fill="#501D9A"/>
<rect x="385.5" y="320.34" width="11.1" height="11.78" fill="#56249D"/>
<rect x="396.1" y="320.34" width="11.1" height="11.78" fill="#4A1696"/>
<rect x="406.7" y="320.34" width="11.1" height="11.78" fill="#4A1696"/>
<rect x="417.3" y="320.34" width="11.1" height="11.78" fill="#56249D"/>
<rect x="427.9" y="320.34" width="11.1" height="11.78" fill="#4A1696"/>
<rect x="438.5" y="320.34" width="11.1" height="11.78" fill="#501D9A"/>
<rect x="449.1" y="320.34" width="11.1" height="11.78" fill="#6434A5"/>
<rect x="459.7" y="320.34" width="11.1" height="11.78" fill="#56249D"/>
<rect x="470.3" y="320.34" width="11.1" height="11.78" fill="#5D2CA1"/>
<rect x="480.9" y="320.34" width="11.1" height="11.78" fill="#7046AE"/>
<rect x="491.5" y="320.34" width="11.1" height="11.78" fill="#5D2CA1"/>
<rect x="502.1" y="320.34" width="11.1" height="11.78" fill="#5D2CA1"/>
<rect x="512.7" y="320.34" width="11.1" height="11.78" fill="#A085D3"/>
<rect x="523.3" y="320.34" width="11.1" height="11.78" fill="#7046AE"/>
<rect x="533.9" y="320.34" width="11.1" height="11.78" fill="#9678CD"/>
<rect x="544.5" y="320.34" width="11.1" height="11.78" fill="#E4DEF2"/>
<rect x="555.1" y="320.34" width="10.6" height="11.78" fill="#E4DEF2"/>
<rect x="364.3" y="331.62" width="11.1" height="11.78" fill="#5D2CA1"/>
<rect x="374.9" y="331.62" width="11.1" height="11.78" fill="#6C40AA"/>
<rect x="385.5" y="331.62" width="11.1" height="11.78" fill="#4A1696"/>
<rect x="396.1" y="331.62" width="11.1" height="11.78" fill="#56249D"/>
<rect x="406.7" y="331.62" width="11.1" height="11.78" fill="#56249D"/>
<rect x="417.3" y="331.62" width="11.1" height="11.78" fill="#4A1696"/>
<rect x="427.9" y="331.62" width="11.1" height="11.78" fill="#5D2CA1"/>
<rect x="438.5" y="331.62" width="11.1" height="11.78" fill="#5D2CA1"/>
<rect x="449.1" y="331.62" width="11.1" height="11.78" fill="#5D2CA1"/>
<rect x="459.7" y="331.62" width="11.1" height="11.78" fill="#5D2CA1"/>
<rect x="470.3" y="331.62" width="11.1" height="11.78" fill="#6C40AA"/>
<rect x="480.9" y="331.62" width="11.1" height="11.78" fill="#7046AE"/>
<rect x="491.5" y="331.62" width="11.1" height="11.78" fill="#5D2CA1"/>
<rect x="502.1" y="331.62" width="11.1" height="11.78" fill="#5D2CA1"/>
<rect x="512.7" y="331.62" width="11.1" height="11.78" fill="#7A56B8"/>
<rect x="523.3" y="331.62" width="11.1" height="11.78" fill="#5D2CA1"/>
<rect x="533.9" y="331.62" width="11.1" height="11.78" fill="#7A56B8"/>
<rect x="544.5" y="331.62" width="11.1" height="11.78" fill="#FFFFFF"/>
<rect x="555.1" y="331.62" width="10.6" height="11.78" fill="#FFFFFF"/>
<rect x="364.3" y="342.9" width="11.1" height="11.78" fill="#4A1696"/>
<rect x="374.9" y="342.9" width="11.1" height="11.78" fill="#5D2CA1"/>
<rect x="385.5" y="342.9" width="11.1" height="11.78" fill="#4A1696"/>
<rect x="396.1" y="342.9" width="11.1" height="11.78" fill="#4A1696"/>
<rect x="406.7" y="342.9" width="11.1" height="11.78" fill="#B4A0DF"/>
<rect x="417.3" y="342.9" width="11.1" height="11.78" fill="#6C40AA"/>
<rect x="427.9" y="342.9" width="11.1" height="11.78" fill="#6C40AA"/>
<rect x="438.5" y="342.9" width="11.1" height="11.78" fill="#754EB3"/>
<rect x="449.1" y="342.9" width="11.1" height="11.78" fill="#8665C0"/>
<rect x="459.7" y="342.9" width="11.1" height="11.78" fill="#5D2CA1"/>
<rect x="470.3" y="342.9" width="11.1" height="11.78" fill="#6C40AA"/>
<rect x="480.9" y="342.9" width="11.1" height="11.78" fill="#56249D"/>
<rect x="491.5" y="342.9" width="11.1" height="11.78" fill="#4A1696"/>
<rect x="502.1" y="342.9" width="11.1" height="11.78" fill="#4A1696"/>
<rect x="512.7" y="342.9" width="11.1" height="11.78" fill="#8665C0"/>
<rect x="523.3" y="342.9" width="11.1" height="11.78" fill="#4A1696"/>
<rect x="533.9" y="342.9" width="11.1" height="11.78" fill="#FFFFFF"/>
<rect x="544.5" y="342.9" width="11.1" height="11.78" fill="#ECE8F6"/>
<rect x="555.1" y="342.9" width="10.6" height="11.78" fill="#CFC2EA"/>
<rect x="364.3" y="354.18" width="11.1" height="11.78" fill="#4A1696"/>
<rect x="374.9" y="354.18" width="11.1" height="11.78" fill="#805EBC"/>
<rect x="385.5" y="354.18" width="11.1" height="11.78" fill="#56249D"/>
<rect x="396.1" y="354.18" width="11.1" height="11.78" fill="#754EB3"/>
<rect x="406.7" y="354.18" width="11.1" height="11.78" fill="#4A1696"/>
<rect x="417.3" y="354.18" width="11.1" height="11.78" fill="#56249D"/>
<rect x="427.9" y="354.18" width="11.1" height="11.78" fill="#6C40AA"/>
<rect x="438.5" y="354.18" width="11.1" height="11.78" fill="#6C40AA"/>
<rect x="449.1" y="354.18" width="11.1" height="11.78" fill="#7A56B8"/>
<rect x="459.7" y="354.18" width="11.1" height="11.78" fill="#8665C0"/>
<rect x="470.3" y="354.18" width="11.1" height="11.78" fill="#B4A0DF"/>
<rect x="480.9" y="354.18" width="11.1" height="11.78" fill="#56249D"/>
<rect x="491.5" y="354.18" width="11.1" height="11.78" fill="#56249D"/>
<rect x="502.1" y="354.18" width="11.1" height="11.78" fill="#7A56B8"/>
<rect x="512.7" y="354.18" width="11.1" height="11.78" fill="#9678CD"/>
<rect x="523.3" y="354.18" width="11.1" height="11.78" fill="#AA93D9"/>
<rect x="533.9" y="354.18" width="11.1" height="11.78" fill="#A085D3"/>
<rect x="544.5" y="354.18" width="11.1" height="11.78" fill="#AA93D9"/>
<rect x="555.1" y="354.18" width="10.6" height="11.78" fill="#C4B4E6"/>
<rect x="364.3" y="365.46" width="11.1" height="11.78" fill="#4A1696"/>
<rect x="374.9" y="365.46" width="11.1" height="11.78" fill="#6434A5"/>
<rect x="385.5" y="365.46" width="11.1" height="11.78" fill="#9678CD"/>
<rect x="396.1" y="365.46" width="11.1" height="11.78" fill="#805EBC"/>
<rect x="406.7" y="365.46" width="11.1" height="11.78" fill="#6434A5"/>
<rect x="417.3" y="365.46" width="11.1" height="11.78" fill="#8665C0"/>
<rect x="427.9" y="365.46" width="11.1" height="11.78" fill="#A085D3"/>
<rect x="438.5" y="365.46" width="11.1" height="11.78" fill="#A085D3"/>
<rect x="449.1" y="365.46" width="11.1" height="11.78" fill="#AA93D9"/>
<rect x="459.7" y="365.46" width="11.1" height="11.78" fill="#5D2CA1"/>
<rect x="470.3" y="365.46" width="11.1" height="11.78" fill="#9678CD"/>
<rect x="480.9" y="365.46" width="11.1" height="11.78" fill="#754EB3"/>
<rect x="491.5" y="365.46" width="11.1" height="11.78" fill="#9678CD"/>
<rect x="502.1" y="365.46" width="11.1" height="11.78" fill="#9678CD"/>
<rect x="512.7" y="365.46" width="11.1" height="11.78" fill="#B4A0DF"/>
<rect x="523.3" y="365.46" width="11.1" height="11.78" fill="#B4A0DF"/>
<rect x="533.9" y="365.46" width="11.1" height="11.78" fill="#C4B4E6"/>
<rect x="544.5" y="365.46" width="11.1" height="11.78" fill="#AA93D9"/>
<rect x="555.1" y="365.46" width="10.6" height="11.78" fill="#AA93D9"/>
<rect x="364.3" y="376.74" width="11.1" height="11.78" fill="#7A56B8"/>
<rect x="374.9" y="376.74" width="11.1" height="11.78" fill="#754EB3"/>
<rect x="385.5" y="376.74" width="11.1" height="11.78" fill="#754EB3"/>
<rect x="396.1" y="376.74" width="11.1" height="11.78" fill="#9678CD"/>
<rect x="406.7" y="376.74" width="11.1" height="11.78" fill="#6C40AA"/>
<rect x="417.3" y="376.74" width="11.1" height="11.78" fill="#805EBC"/>
<rect x="427.9" y="376.74" width="11.1" height="11.78" fill="#5D2CA1"/>
<rect x="438.5" y="376.74" width="11.1" height="11.78" fill="#754EB3"/>
<rect x="449.1" y="376.74" width="11.1" height="11.78" fill="#4A1696"/>
<rect x="459.7" y="376.74" width="11.1" height="11.78" fill="#8665C0"/>
<rect x="470.3" y="376.74" width="11.1" height="11.78" fill="#A085D3"/>
<rect x="480.9" y="376.74" width="11.1" height="11.78" fill="#8665C0"/>
<rect x="491.5" y="376.74" width="11.1" height="11.78" fill="#754EB3"/>
<rect x="502.1" y="376.74" width="11.1" height="11.78" fill="#7A56B8"/>
<rect x="512.7" y="376.74" width="11.1" height="11.78" fill="#B4A0DF"/>
<rect x="523.3" y="376.74" width="11.1" height="11.78" fill="#C4B4E6"/>
<rect x="533.9" y="376.74" width="11.1" height="11.78" fill="#754EB3"/>
<rect x="544.5" y="376.74" width="11.1" height="11.78" fill="#FFFFFF"/>
<rect x="555.1" y="376.74" width="10.6" height="11.78" fill="#FFFFFF"/>
<rect x="364.3" y="388.02" width="11.1" height="11.78" fill="#56249D"/>
<rect x="374.9" y="388.02" width="11.1" height="11.78" fill="#56249D"/>
<rect x="385.5" y="388.02" width="11.1" height="11.78" fill="#56249D"/>
<rect x="396.1" y="388.02" width="11.1" height="11.78" fill="#6434A5"/>
<rect x="406.7" y="388.02" width="11.1" height="11.78" fill="#6434A5"/>
<rect x="417.3" y="388.02" width="11.1" height="11.78" fill="#4A1696"/>
<rect x="427.9" y="388.02" width="11.1" height="11.78" fill="#6434A5"/>
<rect x="438.5" y="388.02" width="11.1" height="11.78" fill="#6434A5"/>
<rect x="449.1" y="388.02" width="11.1" height="11.78" fill="#6434A5"/>
<rect x="459.7" y="388.02" width="11.1" height="11.78" fill="#7046AE"/>
<rect x="470.3" y="388.02" width="11.1" height="11.78" fill="#754EB3"/>
<rect x="480.9" y="388.02" width="11.1" height="11.78" fill="#C4B4E6"/>
<rect x="491.5" y="388.02" width="11.1" height="11.78" fill="#B4A0DF"/>
<rect x="502.1" y="388.02" width="11.1" height="11.78" fill="#B4A0DF"/>
<rect x="512.7" y="388.02" width="11.1" height="11.78" fill="#8665C0"/>
<rect x="523.3" y="388.02" width="11.1" height="11.78" fill="#A085D3"/>
<rect x="533.9" y="388.02" width="11.1" height="11.78" fill="#E4DEF2"/>
<rect x="544.5" y="388.02" width="11.1" height="11.78" fill="#E4DEF2"/>
<rect x="555.1" y="388.02" width="10.6" height="11.78" fill="#E0D8F0"/>
<rect x="364.3" y="399.3" width="11.1" height="11.78" fill="#5D2CA1"/>
<rect x="374.9" y="399.3" width="11.1" height="11.78" fill="#501D9A"/>
<rect x="385.5" y="399.3" width="11.1" height="11.78" fill="#7046AE"/>
<rect x="396.1" y="399.3" width="11.1" height="11.78" fill="#56249D"/>
<rect x="406.7" y="399.3" width="11.1" height="11.78" fill="#6434A5"/>
<rect x="417.3" y="399.3" width="11.1" height="11.78" fill="#8665C0"/>
<rect x="427.9" y="399.3" width="11.1" height="11.78" fill="#6434A5"/>
<rect x="438.5" y="399.3" width="11.1" height="11.78" fill="#6434A5"/>
<rect x="449.1" y="399.3" width="11.1" height="11.78" fill="#6C40AA"/>
<rect x="459.7" y="399.3" width="11.1" height="11.78" fill="#805EBC"/>
<rect x="470.3" y="399.3" width="11.1" height="11.78" fill="#8665C0"/>
<rect x="480.9" y="399.3" width="11.1" height="11.78" fill="#B4A0DF"/>
<rect x="491.5" y="399.3" width="11.1" height="11.78" fill="#B4A0DF"/>
<rect x="502.1" y="399.3" width="11.1" height="11.78" fill="#C4B4E6"/>
<rect x="512.7" y="399.3" width="11.1" height="11.78" fill="#C4B4E6"/>
<rect x="523.3" y="399.3" width="11.1" height="11.78" fill="#B4A0DF"/>
<rect x="533.9" y="399.3" width="11.1" height="11.78" fill="#F7F5FB"/>
<rect x="544.5" y="399.3" width="11.1" height="11.78" fill="#FFFFFF"/>
<rect x="555.1" y="399.3" width="10.6" height="11.78" fill="#FFFFFF"/>
<rect x="364.3" y="410.58" width="11.1" height="11.78" fill="#4A1696"/>
<rect x="374.9" y="410.58" width="11.1" height="11.78" fill="#5D2CA1"/>
<rect x="385.5" y="410.58" width="11.1" height="11.78" fill="#6C40AA"/>
<rect x="396.1" y="410.58" width="11.1" height="11.78" fill="#7046AE"/>
<rect x="406.7" y="410.58" width="11.1" height="11.78" fill="#6C40AA"/>
<rect x="417.3" y="410.58" width="11.1" height="11.78" fill="#6C40AA"/>
<rect x="427.9" y="410.58" width="11.1" height="11.78" fill="#7046AE"/>
<rect x="438.5" y="410.58" width="11.1" height="11.78" fill="#754EB3"/>
<rect x="449.1" y="410.58" width="11.1" height="11.78" fill="#6C40AA"/>
<rect x="459.7" y="410.58" width="11.1" height="11.78" fill="#6C40AA"/>
<rect x="470.3" y="410.58" width="11.1" height="11.78" fill="#8665C0"/>
<rect x="480.9" y="410.58" width="11.1" height="11.78" fill="#8665C0"/>
<rect x="491.5" y="410.58" width="11.1" height="11.78" fill="#AA93D9"/>
<rect x="502.1" y="410.58" width="11.1" height="11.78" fill="#B4A0DF"/>
<rect x="512.7" y="410.58" width="11.1" height="11.78" fill="#B4A0DF"/>
<rect x="523.3" y="410.58" width="11.1" height="11.78" fill="#CFC2EA"/>
<rect x="533.9" y="410.58" width="11.1" height="11.78" fill="#CFC2EA"/>
<rect x="544.5" y="410.58" width="11.1" height="11.78" fill="#E9E5F5"/>
<rect x="555.1" y="410.58" width="10.6" height="11.78" fill="#E9E5F5"/>
<rect x="364.3" y="421.86" width="11.1" height="11.78" fill="#4A1696"/>
<rect x="374.9" y="421.86" width="11.1" height="11.78" fill="#5D2CA1"/>
<rect x="385.5" y="421.86" width="11.1" height="11.78" fill="#6C40AA"/>
<rect x="396.1" y="421.86" width="11.1" height="11.78" fill="#7046AE"/>
<rect x="406.7" y="421.86" width="11.1" height="11.78" fill="#6C40AA"/>
<rect x="417.3" y="421.86" width="11.1" height="11.78" fill="#6C40AA"/>
<rect x="427.9" y="421.86" width="11.1" height="11.78" fill="#754EB3"/>
<rect x="438.5" y="421.86" width="11.1" height="11.78" fill="#754EB3"/>
<rect x="449.1" y="421.86" width="11.1" height="11.78" fill="#6C40AA"/>
<rect x="459.7" y="421.86" width="11.1" height="11.78" fill="#6C40AA"/>
<rect x="470.3" y="421.86" width="11.1" height="11.78" fill="#9678CD"/>
<rect x="480.9" y="421.86" width="11.1" height="11.78" fill="#9678CD"/>
<rect x="491.5" y="421.86" width="11.1" height="11.78" fill="#AA93D9"/>
<rect x="502.1" y="421.86" width="11.1" height="11.78" fill="#B4A0DF"/>
<rect x="512.7" y="421.86" width="11.1" height="11.78" fill="#B4A0DF"/>
<rect x="523.3" y="421.86" width="11.1" height="11.78" fill="#CFC2EA"/>
<rect x="533.9" y="421.86" width="11.1" height="11.78" fill="#CFC2EA"/>
<rect x="544.5" y="421.86" width="11.1" height="11.78" fill="#E9E5F5"/>
<rect x="555.1" y="421.86" width="10.6" height="11.78" fill="#E9E5F5"/>
<rect x="364.3" y="433.14" width="11.1" height="11.78" fill="#4A1696"/>
<rect x="374.9" y="433.14" width="11.1" height="11.78" fill="#7046AE"/>
<rect x="385.5" y="433.14" width="11.1" height="11.78" fill="#7046AE"/>
<rect x="396.1" y="433.14" width="11.1" height="11.78" fill="#7A56B8"/>
<rect x="406.7" y="433.14" width="11.1" height="11.78" fill="#6C40AA"/>
<rect x="417.3" y="433.14" width="11.1" height="11.78" fill="#7046AE"/>
<rect x="427.9" y="433.14" width="11.1" height="11.78" fill="#805EBC"/>
<rect x="438.5" y="433.14" width="11.1" height="11.78" fill="#805EBC"/>
<rect x="449.1" y="433.14" width="11.1" height="11.78" fill="#7046AE"/>
<rect x="459.7" y="433.14" width="11.1" height="11.78" fill="#7046AE"/>
<rect x="470.3" y="433.14" width="11.1" height="11.78" fill="#9678CD"/>
<rect x="480.9" y="433.14" width="11.1" height="11.78" fill="#AA93D9"/>
<rect x="491.5" y="433.14" width="11.1" height="11.78" fill="#CFC2EA"/>
<rect x="502.1" y="433.14" width="11.1" height="11.78" fill="#D9D0EE"/>
<rect x="512.7" y="433.14" width="11.1" height="11.78" fill="#C4B4E6"/>
<rect x="523.3" y="433.14" width="11.1" height="11.78" fill="#E4DEF2"/>
<rect x="533.9" y="433.14" width="11.1" height="11.78" fill="#CFC2EA"/>
<rect x="544.5" y="433.14" width="11.1" height="11.78" fill="#EFEBF7"/>
<rect x="555.1" y="433.14" width="10.6" height="11.78" fill="#EFEBF7"/>
<rect x="364.3" y="444.42" width="11.1" height="11.28" fill="#7046AE"/>
<rect x="374.9" y="444.42" width="11.1" height="11.28" fill="#56249D"/>
<rect x="385.5" y="444.42" width="11.1" height="11.28" fill="#6C40AA"/>
<rect x="396.1" y="444.42" width="11.1" height="11.28" fill="#4A1696"/>
<rect x="406.7" y="444.42" width="11.1" height="11.28" fill="#7046AE"/>
<rect x="417.3" y="444.42" width="11.1" height="11.28" fill="#AA93D9"/>
<rect x="427.9" y="444.42" width="11.1" height="11.28" fill="#AA93D9"/>
<rect x="438.5" y="444.42" width="11.1" height="11.28" fill="#AA93D9"/>
<rect x="449.1" y="444.42" width="11.1" height="11.28" fill="#6C40AA"/>
<rect x="459.7" y="444.42" width="11.1" height="11.28" fill="#AA93D9"/>
<rect x="470.3" y="444.42" width="11.1" height="11.28" fill="#AA93D9"/>
<rect x="480.9" y="444.42" width="11.1" height="11.28" fill="#D9D0EE"/>
<rect x="491.5" y="444.42" width="11.1" height="11.28" fill="#C4B4E6"/>
<rect x="502.1" y="444.42" width="11.1" height="11.28" fill="#A085D3"/>
<rect x="512.7" y="444.42" width="11.1" height="11.28" fill="#CFC2EA"/>
<rect x="523.3" y="444.42" width="11.1" height="11.28" fill="#CFC2EA"/>
<rect x="533.9" y="444.42" width="11.1" height="11.28" fill="#E0D8F0"/>
<rect x="544.5" y="444.42" width="11.1" height="11.28" fill="#F4F2FA"/>
<rect x="555.1" y="444.42" width="10.6" height="11.28" fill="#FFFFFF"/>
<line x1="369.6" y1="282.8" x2="380.2" y2="282.8" stroke="#666" stroke-width="0.45"/>
<line x1="369.6" y1="282.8" x2="369.6" y2="285.8" stroke="#666" stroke-width="0.45"/>
<line x1="380.2" y1="282.8" x2="380.2" y2="285.8" stroke="#666" stroke-width="0.45"/>
<line x1="390.8" y1="283.3" x2="401.4" y2="283.3" stroke="#666" stroke-width="0.45"/>
<line x1="390.8" y1="283.3" x2="390.8" y2="285.8" stroke="#666" stroke-width="0.45"/>
<line x1="401.4" y1="283.3" x2="401.4" y2="285.8" stroke="#666" stroke-width="0.45"/>
<line x1="374.9" y1="280.9" x2="396.1" y2="280.9" stroke="#666" stroke-width="0.45"/>
<line x1="374.9" y1="280.9" x2="374.9" y2="282.8" stroke="#666" stroke-width="0.45"/>
<line x1="396.1" y1="280.9" x2="396.1" y2="283.3" stroke="#666" stroke-width="0.45"/>
<line x1="433.2" y1="283.5" x2="443.8" y2="283.5" stroke="#666" stroke-width="0.45"/>
<line x1="433.2" y1="283.5" x2="433.2" y2="285.8" stroke="#666" stroke-width="0.45"/>
<line x1="443.8" y1="283.5" x2="443.8" y2="285.8" stroke="#666" stroke-width="0.45"/>
<line x1="422.6" y1="282.8" x2="438.5" y2="282.8" stroke="#666" stroke-width="0.45"/>
<line x1="422.6" y1="282.8" x2="422.6" y2="285.8" stroke="#666" stroke-width="0.45"/>
<line x1="438.5" y1="282.8" x2="438.5" y2="283.5" stroke="#666" stroke-width="0.45"/>
<line x1="430.55" y1="281" x2="454.4" y2="281" stroke="#666" stroke-width="0.45"/>
<line x1="430.55" y1="281" x2="430.55" y2="282.8" stroke="#666" stroke-width="0.45"/>
<line x1="454.4" y1="281" x2="454.4" y2="285.8" stroke="#666" stroke-width="0.45"/>
<line x1="412" y1="280.2" x2="442.48" y2="280.2" stroke="#666" stroke-width="0.45"/>
<line x1="412" y1="280.2" x2="412" y2="285.8" stroke="#666" stroke-width="0.45"/>
<line x1="442.48" y1="280.2" x2="442.48" y2="281" stroke="#666" stroke-width="0.45"/>
<line x1="385.5" y1="279" x2="427.24" y2="279" stroke="#666" stroke-width="0.45"/>
<line x1="385.5" y1="279" x2="385.5" y2="280.9" stroke="#666" stroke-width="0.45"/>
<line x1="427.24" y1="279" x2="427.24" y2="280.2" stroke="#666" stroke-width="0.45"/>
<line x1="465" y1="281" x2="475.6" y2="281" stroke="#666" stroke-width="0.45"/>
<line x1="465" y1="281" x2="465" y2="285.8" stroke="#666" stroke-width="0.45"/>
<line x1="475.6" y1="281" x2="475.6" y2="285.8" stroke="#666" stroke-width="0.45"/>
<line x1="406.37" y1="276.8" x2="470.3" y2="276.8" stroke="#666" stroke-width="0.45"/>
<line x1="406.37" y1="276.8" x2="406.37" y2="279" stroke="#666" stroke-width="0.45"/>
<line x1="470.3" y1="276.8" x2="470.3" y2="281" stroke="#666" stroke-width="0.45"/>
<line x1="496.8" y1="283.5" x2="507.4" y2="283.5" stroke="#666" stroke-width="0.45"/>
<line x1="496.8" y1="283.5" x2="496.8" y2="285.8" stroke="#666" stroke-width="0.45"/>
<line x1="507.4" y1="283.5" x2="507.4" y2="285.8" stroke="#666" stroke-width="0.45"/>
<line x1="486.2" y1="281.2" x2="502.1" y2="281.2" stroke="#666" stroke-width="0.45"/>
<line x1="486.2" y1="281.2" x2="486.2" y2="285.8" stroke="#666" stroke-width="0.45"/>
<line x1="502.1" y1="281.2" x2="502.1" y2="283.5" stroke="#666" stroke-width="0.45"/>
<line x1="518" y1="281.2" x2="528.6" y2="281.2" stroke="#666" stroke-width="0.45"/>
<line x1="518" y1="281.2" x2="518" y2="285.8" stroke="#666" stroke-width="0.45"/>
<line x1="528.6" y1="281.2" x2="528.6" y2="285.8" stroke="#666" stroke-width="0.45"/>
<line x1="494.15" y1="278.8" x2="523.3" y2="278.8" stroke="#666" stroke-width="0.45"/>
<line x1="494.15" y1="278.8" x2="494.15" y2="281.2" stroke="#666" stroke-width="0.45"/>
<line x1="523.3" y1="278.8" x2="523.3" y2="281.2" stroke="#666" stroke-width="0.45"/>
<line x1="508.72" y1="274.3" x2="539.2" y2="274.3" stroke="#666" stroke-width="0.45"/>
<line x1="508.72" y1="274.3" x2="508.72" y2="278.8" stroke="#666" stroke-width="0.45"/>
<line x1="539.2" y1="274.3" x2="539.2" y2="285.8" stroke="#666" stroke-width="0.45"/>
<line x1="438.33" y1="266.4" x2="523.96" y2="266.4" stroke="#666" stroke-width="0.45"/>
<line x1="438.33" y1="266.4" x2="438.33" y2="276.8" stroke="#666" stroke-width="0.45"/>
<line x1="523.96" y1="266.4" x2="523.96" y2="274.3" stroke="#666" stroke-width="0.45"/>
<line x1="549.8" y1="283.7" x2="560.4" y2="283.7" stroke="#666" stroke-width="0.45"/>
<line x1="549.8" y1="283.7" x2="549.8" y2="285.8" stroke="#666" stroke-width="0.45"/>
<line x1="560.4" y1="283.7" x2="560.4" y2="285.8" stroke="#666" stroke-width="0.45"/>
<line x1="481.15" y1="259.5" x2="555.1" y2="259.5" stroke="#666" stroke-width="0.45"/>
<line x1="481.15" y1="259.5" x2="481.15" y2="266.4" stroke="#666" stroke-width="0.45"/>
<line x1="555.1" y1="259.5" x2="555.1" y2="283.7" stroke="#666" stroke-width="0.45"/>
<line x1="357.6" y1="292.14" x2="357.6" y2="303.42" stroke="#666" stroke-width="0.45"/>
<line x1="357.6" y1="292.14" x2="364" y2="292.14" stroke="#666" stroke-width="0.45"/>
<line x1="357.6" y1="303.42" x2="364" y2="303.42" stroke="#666" stroke-width="0.45"/>
<line x1="359.7" y1="325.98" x2="359.7" y2="337.26" stroke="#666" stroke-width="0.45"/>
<line x1="359.7" y1="325.98" x2="364" y2="325.98" stroke="#666" stroke-width="0.45"/>
<line x1="359.7" y1="337.26" x2="364" y2="337.26" stroke="#666" stroke-width="0.45"/>
<line x1="355.8" y1="314.7" x2="355.8" y2="331.62" stroke="#666" stroke-width="0.45"/>
<line x1="355.8" y1="314.7" x2="364" y2="314.7" stroke="#666" stroke-width="0.45"/>
<line x1="355.8" y1="331.62" x2="359.7" y2="331.62" stroke="#666" stroke-width="0.45"/>
<line x1="351.8" y1="297.78" x2="351.8" y2="323.16" stroke="#666" stroke-width="0.45"/>
<line x1="351.8" y1="297.78" x2="357.6" y2="297.78" stroke="#666" stroke-width="0.45"/>
<line x1="351.8" y1="323.16" x2="355.8" y2="323.16" stroke="#666" stroke-width="0.45"/>
<line x1="355.7" y1="359.82" x2="355.7" y2="371.1" stroke="#666" stroke-width="0.45"/>
<line x1="355.7" y1="359.82" x2="364" y2="359.82" stroke="#666" stroke-width="0.45"/>
<line x1="355.7" y1="371.1" x2="364" y2="371.1" stroke="#666" stroke-width="0.45"/>
<line x1="349.5" y1="348.54" x2="349.5" y2="365.46" stroke="#666" stroke-width="0.45"/>
<line x1="349.5" y1="348.54" x2="364" y2="348.54" stroke="#666" stroke-width="0.45"/>
<line x1="349.5" y1="365.46" x2="355.7" y2="365.46" stroke="#666" stroke-width="0.45"/>
<line x1="357.7" y1="393.66" x2="357.7" y2="404.94" stroke="#666" stroke-width="0.45"/>
<line x1="357.7" y1="393.66" x2="364" y2="393.66" stroke="#666" stroke-width="0.45"/>
<line x1="357.7" y1="404.94" x2="364" y2="404.94" stroke="#666" stroke-width="0.45"/>
<line x1="362.8" y1="416.22" x2="362.8" y2="427.5" stroke="#666" stroke-width="0.45"/>
<line x1="362.8" y1="416.22" x2="364" y2="416.22" stroke="#666" stroke-width="0.45"/>
<line x1="362.8" y1="427.5" x2="364" y2="427.5" stroke="#666" stroke-width="0.45"/>
<line x1="359.4" y1="421.86" x2="359.4" y2="438.78" stroke="#666" stroke-width="0.45"/>
<line x1="359.4" y1="421.86" x2="362.8" y2="421.86" stroke="#666" stroke-width="0.45"/>
<line x1="359.4" y1="438.78" x2="364" y2="438.78" stroke="#666" stroke-width="0.45"/>
<line x1="355.6" y1="399.3" x2="355.6" y2="430.32" stroke="#666" stroke-width="0.45"/>
<line x1="355.6" y1="399.3" x2="357.7" y2="399.3" stroke="#666" stroke-width="0.45"/>
<line x1="355.6" y1="430.32" x2="359.4" y2="430.32" stroke="#666" stroke-width="0.45"/>
<line x1="352.7" y1="414.81" x2="352.7" y2="450.06" stroke="#666" stroke-width="0.45"/>
<line x1="352.7" y1="414.81" x2="355.6" y2="414.81" stroke="#666" stroke-width="0.45"/>
<line x1="352.7" y1="450.06" x2="364" y2="450.06" stroke="#666" stroke-width="0.45"/>
<line x1="352.2" y1="382.38" x2="352.2" y2="432.43" stroke="#666" stroke-width="0.45"/>
<line x1="352.2" y1="382.38" x2="364" y2="382.38" stroke="#666" stroke-width="0.45"/>
<line x1="352.2" y1="432.43" x2="352.7" y2="432.43" stroke="#666" stroke-width="0.45"/>
<line x1="345.8" y1="357" x2="345.8" y2="407.41" stroke="#666" stroke-width="0.45"/>
<line x1="345.8" y1="357" x2="349.5" y2="357" stroke="#666" stroke-width="0.45"/>
<line x1="345.8" y1="407.41" x2="352.2" y2="407.41" stroke="#666" stroke-width="0.45"/>
<line x1="341.4" y1="310.47" x2="341.4" y2="382.2" stroke="#666" stroke-width="0.45"/>
<line x1="341.4" y1="310.47" x2="351.8" y2="310.47" stroke="#666" stroke-width="0.45"/>
<line x1="341.4" y1="382.2" x2="345.8" y2="382.2" stroke="#666" stroke-width="0.45"/>
<text x="567.2" y="293.74" font-size="4.3" text-anchor="start" fill="#111" stroke="#111" stroke-width="0.28">Fatty acid synthesis</text>
<text x="567.2" y="305.02" font-size="4.3" text-anchor="start" fill="#111" stroke="#111" stroke-width="0.28">Ubiquinone and other terpenoid-quinone biosynthesis</text>
<text x="567.2" y="316.3" font-size="4.3" text-anchor="start" fill="#111" stroke="#111" stroke-width="0.28">Lipopolysaccharide biosynthesis</text>
<text x="567.2" y="327.58" font-size="4.3" text-anchor="start" fill="#111" stroke="#111" stroke-width="0.28">Nucleotide interconversion</text>
<text x="567.2" y="338.86" font-size="4.3" text-anchor="start" fill="#111" stroke="#111" stroke-width="0.28">Cell wall biosynthesis</text>
<text x="567.2" y="350.14" font-size="4.3" text-anchor="start" fill="#111" stroke="#111" stroke-width="0.28">Valine, leucine, and isoleucine metabolism</text>
<text x="567.2" y="361.42" font-size="4.3" text-anchor="start" fill="#111" stroke="#111" stroke-width="0.28">Glycolysis/gluconeogenesis</text>
<text x="567.2" y="372.7" font-size="4.3" text-anchor="start" fill="#111" stroke="#111" stroke-width="0.28">Pentose phosphate pathway</text>
<text x="567.2" y="383.98" font-size="4.3" text-anchor="start" fill="#111" stroke="#111" stroke-width="0.28">Glycine, serine, alanine, and threonine metabolism</text>
<text x="567.2" y="395.26" font-size="4.3" text-anchor="start" fill="#111" stroke="#111" stroke-width="0.28">Glycerophospholipid metabolism</text>
<text x="567.2" y="406.54" font-size="4.3" text-anchor="start" fill="#111" stroke="#111" stroke-width="0.28">Folate metabolism</text>
<text x="567.2" y="417.82" font-size="4.3" text-anchor="start" fill="#111" stroke="#111" stroke-width="0.28">Exchange/demand reaction</text>
<text x="567.2" y="429.1" font-size="4.3" text-anchor="start" fill="#111" stroke="#111" stroke-width="0.28">Transport, periplasmic</text>
<text x="567.2" y="440.38" font-size="4.3" text-anchor="start" fill="#111" stroke="#111" stroke-width="0.28">Drug metabolism</text>
<text x="567.2" y="451.66" font-size="4.3" text-anchor="start" fill="#111" stroke="#111" stroke-width="0.28">Arginine and proline metabolism</text>
<text x="0" y="0" font-size="4.4" text-anchor="end" font-weight="bold" fill="#222" transform="translate(371.2,457.3) rotate(-90)" stroke="#222" stroke-width="0.22">A02</text>
<text x="0" y="0" font-size="4.4" text-anchor="end" font-weight="bold" fill="#222" transform="translate(381.8,457.3) rotate(-90)" stroke="#222" stroke-width="0.22">H2S362</text>
<text x="0" y="0" font-size="4.4" text-anchor="end" font-weight="bold" fill="#222" transform="translate(392.4,457.3) rotate(-90)" stroke="#222" stroke-width="0.22">B01</text>
<text x="0" y="0" font-size="4.4" text-anchor="end" font-weight="bold" fill="#222" transform="translate(403,457.3) rotate(-90)" stroke="#222" stroke-width="0.22">E02</text>
<text x="0" y="0" font-size="4.4" text-anchor="end" font-weight="bold" fill="#222" transform="translate(413.6,457.3) rotate(-90)" stroke="#222" stroke-width="0.22">C02</text>
<text x="0" y="0" font-size="4.4" text-anchor="end" font-weight="bold" fill="#222" transform="translate(424.2,457.3) rotate(-90)" stroke="#222" stroke-width="0.22">H01</text>
<text x="0" y="0" font-size="4.4" text-anchor="end" font-weight="bold" fill="#222" transform="translate(434.8,457.3) rotate(-90)" stroke="#222" stroke-width="0.22">F01</text>
<text x="0" y="0" font-size="4.4" text-anchor="end" font-weight="bold" fill="#222" transform="translate(445.4,457.3) rotate(-90)" stroke="#222" stroke-width="0.22">H2S361</text>
<text x="0" y="0" font-size="4.4" text-anchor="end" font-weight="bold" fill="#222" transform="translate(456,457.3) rotate(-90)" stroke="#222" stroke-width="0.22">H2S365</text>
<text x="0" y="0" font-size="4.4" text-anchor="end" font-weight="bold" fill="#222" transform="translate(466.6,457.3) rotate(-90)" stroke="#222" stroke-width="0.22">H2S364</text>
<text x="0" y="0" font-size="4.4" text-anchor="end" font-weight="bold" fill="#222" transform="translate(477.2,457.3) rotate(-90)" stroke="#222" stroke-width="0.22">C01</text>
<text x="0" y="0" font-size="4.4" text-anchor="end" font-weight="bold" fill="#222" transform="translate(487.8,457.3) rotate(-90)" stroke="#222" stroke-width="0.22">E01</text>
<text x="0" y="0" font-size="4.4" text-anchor="end" font-weight="bold" fill="#222" transform="translate(498.4,457.3) rotate(-90)" stroke="#222" stroke-width="0.22">F02</text>
<text x="0" y="0" font-size="4.4" text-anchor="end" font-weight="bold" fill="#222" transform="translate(509,457.3) rotate(-90)" stroke="#222" stroke-width="0.22">D02</text>
<text x="0" y="0" font-size="4.4" text-anchor="end" font-weight="bold" fill="#222" transform="translate(519.6,457.3) rotate(-90)" stroke="#222" stroke-width="0.22">G01</text>
<text x="0" y="0" font-size="4.4" text-anchor="end" font-weight="bold" fill="#222" transform="translate(530.2,457.3) rotate(-90)" stroke="#222" stroke-width="0.22">A01</text>
<text x="0" y="0" font-size="4.4" text-anchor="end" font-weight="bold" fill="#222" transform="translate(540.8,457.3) rotate(-90)" stroke="#222" stroke-width="0.22">H2S363</text>
<text x="0" y="0" font-size="4.4" text-anchor="end" font-weight="bold" fill="#222" transform="translate(551.4,457.3) rotate(-90)" stroke="#222" stroke-width="0.22">D01</text>
<text x="0" y="0" font-size="4.4" text-anchor="end" font-weight="bold" fill="#222" transform="translate(562,457.3) rotate(-90)" stroke="#222" stroke-width="0.22">B02</text>
<rect x="638" y="361" width="4.2" height="26.5" fill="url(#gD)"/>
<text x="637.5" y="358.6" font-size="4.6" text-anchor="start" font-weight="bold" fill="#111" stroke="#111" stroke-width="0.18">Normalized Count</text>
<text x="643.8" y="363.5" font-size="3.8" text-anchor="start" fill="#333" stroke="#333" stroke-width="0.22">1</text>
<text x="643.8" y="376.5" font-size="3.8" text-anchor="start" fill="#333" stroke="#333" stroke-width="0.22">0.5</text>
<text x="643.8" y="389.5" font-size="3.8" text-anchor="start" fill="#333" stroke="#333" stroke-width="0.22">0</text>
</svg></body></html>
